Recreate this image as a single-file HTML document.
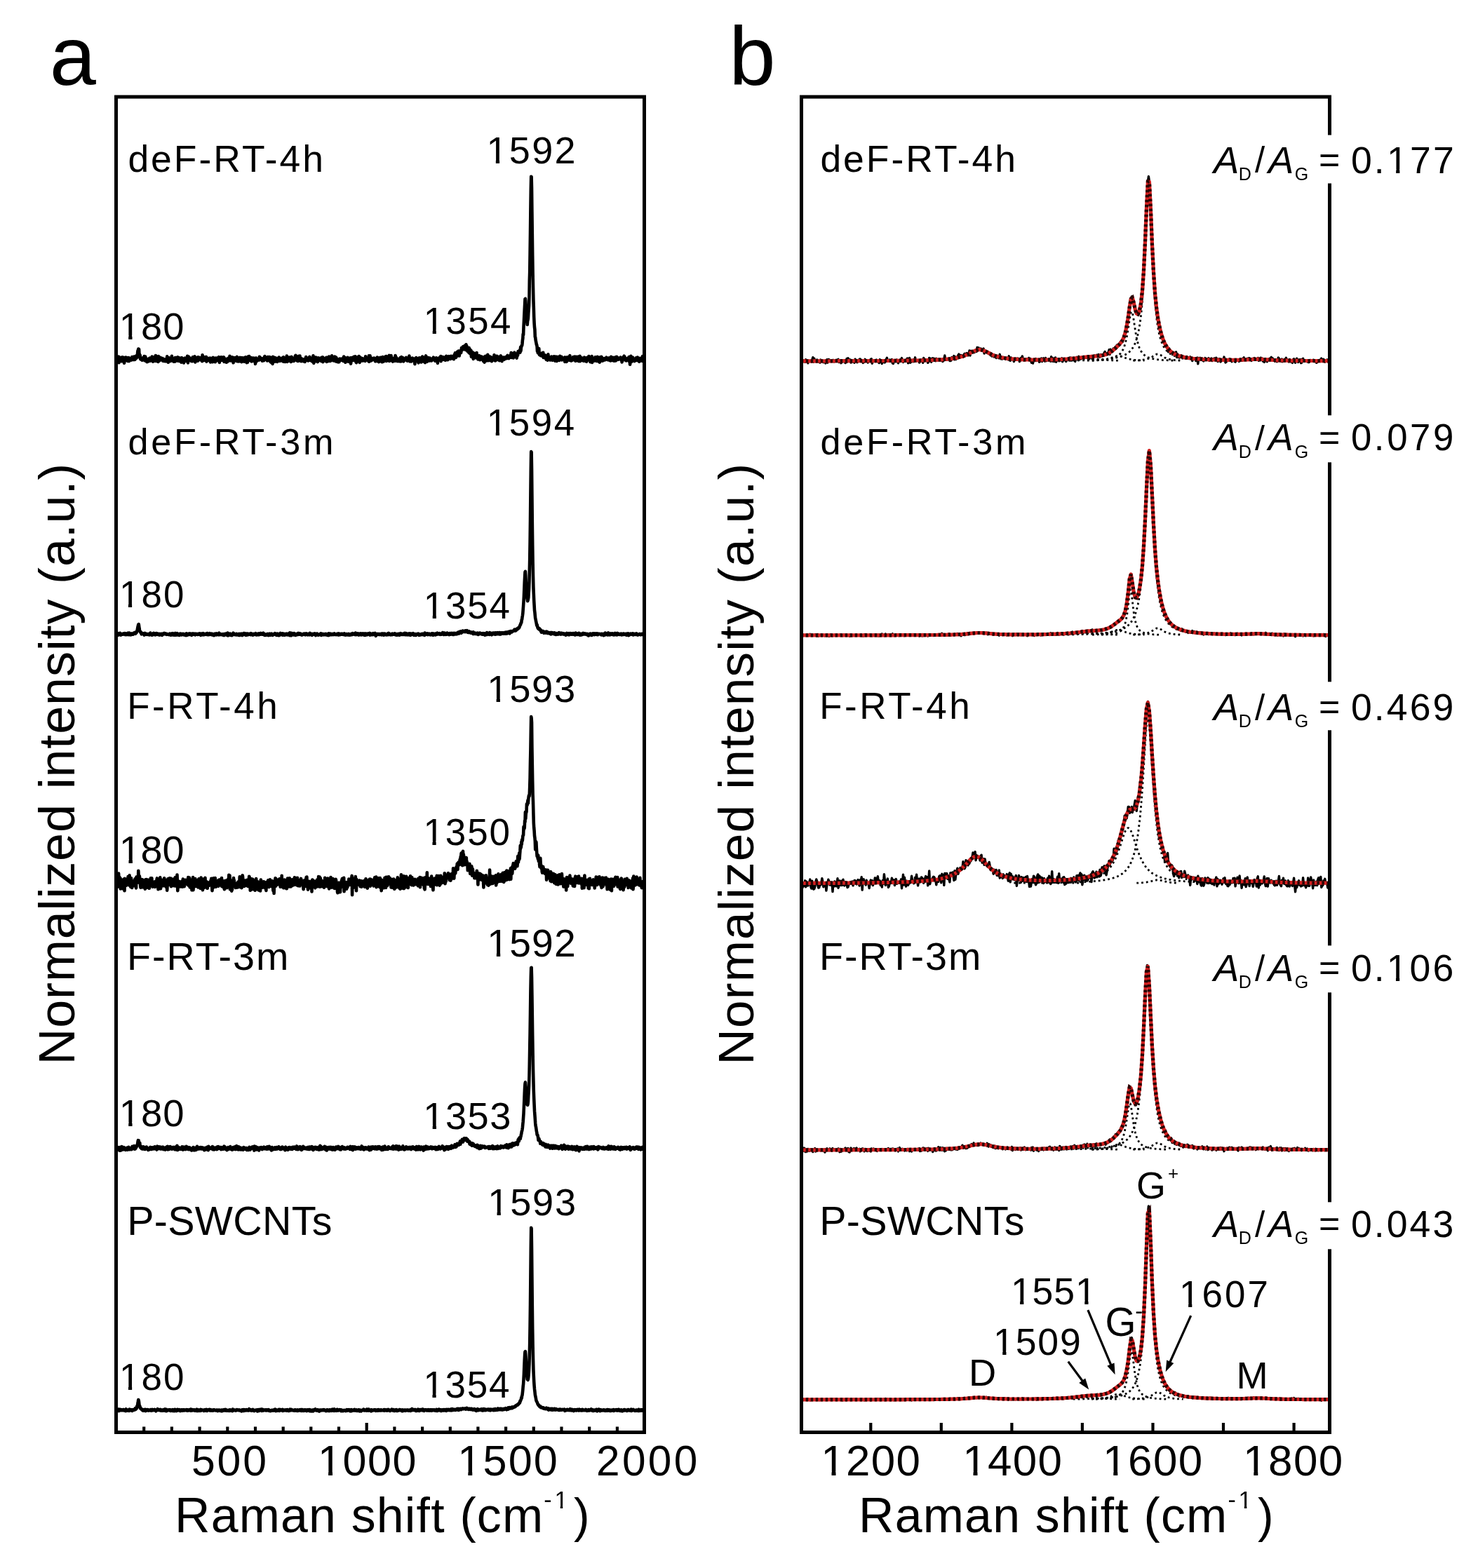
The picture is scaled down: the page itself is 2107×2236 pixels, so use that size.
<!DOCTYPE html>
<html><head><meta charset="utf-8"><title>Raman spectra</title>
<style>html,body{margin:0;padding:0;background:#fff;}svg{display:block;}</style>
</head><body>
<svg width="2107" height="2236" viewBox="0 0 2107 2236">
<rect x="0" y="0" width="2107" height="2236" fill="#fff"/>
<g fill="none" stroke="#000" stroke-width="4.6" stroke-linejoin="round" stroke-linecap="round">
<path d="M165.6 509.6l0.4 5.4 0.3 -4.3 0.4 1.2 0.4 0.4 0.4 -1.3 0.4 -1.3 0.4 4.1 0.4 -0.6 0.4 -4.7 0.4 8.6 0.4 -2.7 0.4 -3.5 0.4 3.4 0.4 -2.8 0.4 0.8 0.4 1.7 0.4 -4.1 0.4 3.7 0.4 1.6 0.4 -0.1 0.4 -3.3 0.4 2.4 0.4 -5 0.4 2.9 0.4 1.2 0.4 -3.6 0.4 2.6 0.4 3.6 0.4 1.8 0.4 -3.7 0.4 0.1 0.4 -3.6 0.4 -0.5 0.3 -0.4 0.4 3.9 0.4 0.4 0.4 -2.8 0.4 -1.2 0.4 3 0.4 0.1 0.4 -0.9 0.4 2.8 0.4 -2.7 0.4 0 0.4 -2.1 0.4 2.5 0.4 2.4 0.4 -2.6 0.4 0 0.4 0.8 0.4 -0.4 0.4 0.5 0.4 0 0.4 0.2 0.4 -2.9 0.4 2.2 0.4 -3.8 0.4 3.7 0.4 -3.1 0.4 2.3 0.4 1.1 0.4 -1.9 0.4 1 0.4 -3.6 0.3 1.5 0.4 3 0.4 -3.8 0.4 3.5 0.4 -4.3 0.4 0.7 0.4 -0.7 0.4 1.8 0.4 0.5 0.4 -4 0.4 0.7 0.4 2.1 0.4 -6 0.4 -3.5 0.4 -0.1 0.4 -2.3 0.4 0.1 0.4 0.3 0.4 7.8 0.4 -0.7 0.4 2.6 0.4 -1 0.4 5.5 0.4 -0.5 0.4 0.8 0.4 -1.8 0.4 1.4 0.4 1 0.4 0.5 0.4 -1.3 0.4 -0.7 0.4 -0.5 0.3 -0.7 0.4 -0.4 0.4 2.7 0.4 -1.1 0.4 -3.5 0.4 3.7 0.4 2.5 0.4 -2.7 0.4 -3.1 0.4 3.5 0.4 1.8 0.4 -1.1 0.4 -1.3 0.4 4.6 0.4 0.1 0.4 -4 0.4 1.9 0.4 -0.9 0.4 0.8 0.4 1.4 0.4 -1.3 0.4 -1.5 0.4 -1.4 0.4 -0.3 0.4 1.5 0.4 2.4 0.4 -1.7 0.4 -0.5 0.4 0.4 0.4 -0.4 0.4 1 0.4 -3.3 0.3 -1.7 0.4 3.1 0.4 -1.5 0.4 5.6 0.4 -3.6 0.4 -0.2 0.4 -2.5 0.4 3.6 0.4 -1.8 0.4 3.5 0.4 -0.6 0.4 -3.2 0.4 2.4 0.4 -6.3 0.4 4.1 0.4 3.8 0.4 -0.9 0.4 -1.2 0.4 -0.4 0.4 -2.8 0.4 0.1 0.4 3.2 0.4 3.1 0.4 -7.9 0.4 5.6 0.4 0 0.4 0.7 0.4 -3.7 0.4 0.7 0.4 1.1 0.4 -2.1 0.3 -0.4 0.4 0.7 0.4 1.6 0.4 0.9 0.4 -0.8 0.4 0.2 0.4 -1.5 0.4 -0.1 0.4 3.7 0.4 -2.3 0.4 -0.1 0.4 2 0.4 0.6 0.4 0.1 0.4 -1.7 0.4 -0.9 0.4 0.6 0.4 -0.2 0.4 2.5 0.4 -2.2 0.4 0.6 0.4 -1.3 0.4 2.8 0.4 -6.8 0.4 4.8 0.4 0.8 0.4 -3.8 0.4 6.6 0.4 -4.6 0.4 -0.1 0.4 -1.8 0.4 3.9 0.3 -1.3 0.4 -1.6 0.4 1.6 0.4 0.9 0.4 1.1 0.4 -2 0.4 -2.4 0.4 0.9 0.4 -3.5 0.4 3.1 0.4 2.9 0.4 -0.5 0.4 -1.1 0.4 -0.5 0.4 3.8 0.4 -2.6 0.4 1.3 0.4 -1 0.4 -2.2 0.4 4.5 0.4 -5.6 0.4 0.1 0.4 1.5 0.4 -0.6 0.4 0.4 0.4 -0.1 0.4 3.1 0.4 -1.8 0.4 0.6 0.4 -3.9 0.4 1.5 0.3 3.8 0.4 -4.5 0.4 4.7 0.4 -4.4 0.4 2.7 0.4 -2.3 0.4 2.1 0.4 -2.2 0.4 1.3 0.4 3.8 0.4 -4.1 0.4 4.9 0.4 -5 0.4 -1.5 0.4 2.5 0.4 -0.9 0.4 4.3 0.4 -1.8 0.4 0.6 0.4 -1.1 0.4 3.7 0.4 -3.3 0.4 -0.6 0.4 -2.7 0.4 -0.1 0.4 2.1 0.4 1.7 0.4 0.2 0.4 -4.1 0.4 2.9 0.4 -0.6 0.4 -2.7 0.3 3.3 0.4 -5.6 0.4 5.1 0.4 4.4 0.4 -7 0.4 2.1 0.4 -3.8 0.4 2.3 0.4 3 0.4 -3.6 0.4 2 0.4 -0.6 0.4 -0.1 0.4 1.2 0.4 0.5 0.4 1.5 0.4 -0.8 0.4 -2.8 0.4 4 0.4 -0.3 0.4 -5.6 0.4 4.4 0.4 0.3 0.4 0.3 0.4 -0.8 0.4 -3.7 0.4 2 0.4 -3.6 0.4 3.9 0.4 4.3 0.4 -2.7 0.3 0.4 0.4 -2.7 0.4 -1.1 0.4 -0.1 0.4 2.4 0.4 -1.8 0.4 0.3 0.4 3.6 0.4 -5.6 0.4 0.7 0.4 1.6 0.4 0.8 0.4 -0.1 0.4 -2.5 0.4 3.2 0.4 -0.7 0.4 1 0.4 -2.9 0.4 2.7 0.4 -0.1 0.4 -1.7 0.4 0.8 0.4 -0.6 0.4 3.8 0.4 -9 0.4 3.4 0.4 -0.5 0.4 2.6 0.4 -0.6 0.4 0.6 0.4 2.2 0.4 -4.7 0.3 1.6 0.4 1.2 0.4 -1.9 0.4 3.1 0.4 -0.1 0.4 -2 0.4 -2.2 0.4 6.8 0.4 -2.3 0.4 -0.1 0.4 -0.7 0.4 -0.1 0.4 1.6 0.4 -1.7 0.4 -1.2 0.4 2.7 0.4 -1.3 0.4 -1.7 0.4 -0.2 0.4 4.1 0.4 -1.1 0.4 2.7 0.4 -5 0.4 -0.4 0.4 2.3 0.4 1.9 0.4 -1.5 0.4 -0.4 0.4 3 0.4 -5.3 0.4 -1 0.3 1 0.4 0.8 0.4 1.4 0.4 1.3 0.4 -1.2 0.4 2.2 0.4 -4.7 0.4 5.5 0.4 -5.4 0.4 3.9 0.4 -4.2 0.4 2.6 0.4 -0.6 0.4 0.9 0.4 0.5 0.4 -1.9 0.4 0.2 0.4 0.7 0.4 -3.1 0.4 1.1 0.4 -1.8 0.4 3.3 0.4 4.4 0.4 -2.9 0.4 -3.3 0.4 0.4 0.4 3.3 0.4 -2.9 0.4 -2.2 0.4 1.1 0.4 0 0.4 0 0.3 3.4 0.4 -1.2 0.4 -3.1 0.4 1.9 0.4 -1.2 0.4 -0.1 0.4 -0.6 0.4 6.5 0.4 -4.1 0.4 1.7 0.4 0.6 0.4 -2.5 0.4 1.8 0.4 0.1 0.4 -0.7 0.4 3.9 0.4 -3.8 0.4 -1 0.4 1.8 0.4 2.2 0.4 -1.5 0.4 -3 0.4 -0.7 0.4 -0.2 0.4 0.6 0.4 2.1 0.4 0.9 0.4 -6.3 0.4 4.5 0.4 -2.1 0.4 3.5 0.3 0.5 0.4 -3.4 0.4 0.7 0.4 -1 0.4 2.7 0.4 -4 0.4 0.9 0.4 0.9 0.4 3.8 0.4 2.4 0.4 -4.8 0.4 -2.5 0.4 2.6 0.4 -1.9 0.4 2.7 0.4 -3.2 0.4 1.5 0.4 0.7 0.4 1.1 0.4 -1.2 0.4 2.7 0.4 -2.3 0.4 -3.9 0.4 5.5 0.4 -2.4 0.4 -0.8 0.4 4.4 0.4 -5 0.4 2.1 0.4 -1.6 0.4 4.2 0.4 -3.5 0.3 1.2 0.4 -3.2 0.4 5.6 0.4 -5 0.4 4 0.4 0.4 0.4 0.2 0.4 1.2 0.4 -6 0.4 3.2 0.4 -0.5 0.4 0.5 0.4 1.4 0.4 -2 0.4 -1.9 0.4 1.5 0.4 3.3 0.4 -5.5 0.4 2.5 0.4 -2.1 0.4 4.2 0.4 -5.5 0.4 2.6 0.4 0.4 0.4 0.5 0.4 4.5 0.4 -1.6 0.4 -5.2 0.4 6.4 0.4 -6.7 0.4 -1.4 0.4 0.8 0.3 3.4 0.4 0.6 0.4 -5.4 0.4 5.2 0.4 -1.4 0.4 2 0.4 -2.2 0.4 2.6 0.4 -0.7 0.4 -3.5 0.4 5.3 0.4 -2.5 0.4 1 0.4 1.1 0.4 -4.5 0.4 1.8 0.4 -1.5 0.4 -0.2 0.4 2.4 0.4 0.2 0.4 1.9 0.4 0.1 0.4 -2.8 0.4 -1.6 0.4 8.1 0.4 -2.1 0.4 -4.5 0.4 -1.7 0.4 1 0.4 1.4 0.4 1.7 0.3 -0.3 0.4 -1.1 0.4 -1.3 0.4 0.8 0.4 -0.9 0.4 0.7 0.4 -0.3 0.4 1.2 0.4 -4.8 0.4 3.1 0.4 0.1 0.4 -1.7 0.4 1.9 0.4 -1.7 0.4 0.7 0.4 0.8 0.4 0.1 0.4 -0.7 0.4 3.4 0.4 -1.8 0.4 0.2 0.4 -0.2 0.4 -1.8 0.4 -0.4 0.4 3.5 0.4 -2.4 0.4 -2.9 0.4 -0.8 0.4 4.8 0.4 -1.9 0.4 1.3 0.4 -0.9 0.3 0.3 0.4 0.4 0.4 -2.1 0.4 2.4 0.4 2 0.4 -0.5 0.4 -4.9 0.4 0.8 0.4 0 0.4 2.2 0.4 2.2 0.4 -1.1 0.4 -4.1 0.4 3.6 0.4 1.5 0.4 -2.5 0.4 4.7 0.4 -5.1 0.4 3.6 0.4 2.4 0.4 -7.3 0.4 1.9 0.4 1.8 0.4 5.3 0.4 -10 0.4 4.7 0.4 -0.6 0.4 -1.4 0.4 -0.8 0.4 0.6 0.4 0.5 0.3 -2 0.4 5.7 0.4 -5.3 0.4 1.3 0.4 -0.5 0.4 0.5 0.4 1.1 0.4 -1.7 0.4 1 0.4 3.9 0.4 -1.3 0.4 -2.7 0.4 2.4 0.4 -3.4 0.4 2 0.4 -3.3 0.4 0.6 0.4 0.5 0.4 4.2 0.4 -2 0.4 0.7 0.4 -0.8 0.4 0.4 0.4 0.1 0.4 0.7 0.4 -1.2 0.4 -2.2 0.4 0.3 0.4 4 0.4 0.4 0.4 -1.7 0.4 -4.4 0.3 6.4 0.4 -2.5 0.4 -0.8 0.4 0.2 0.4 -0.8 0.4 4.3 0.4 -0.2 0.4 -5.5 0.4 1.8 0.4 1 0.4 1.9 0.4 -7.4 0.4 6.7 0.4 1.5 0.4 -4 0.4 0.6 0.4 2.6 0.4 -1.8 0.4 -3.4 0.4 0.3 0.4 0.3 0.4 -0.8 0.4 2.8 0.4 -1 0.4 1.1 0.4 1.3 0.4 2.2 0.4 -3.1 0.4 -4.2 0.4 6.5 0.4 -3 0.3 2.6 0.4 -3.3 0.4 1.5 0.4 -0.8 0.4 0.2 0.4 2.6 0.4 -3.9 0.4 1.7 0.4 0.1 0.4 -1.3 0.4 -3.6 0.4 5.1 0.4 -6.4 0.4 2.7 0.4 2.1 0.4 1.8 0.4 0.9 0.4 -0.1 0.4 -0.5 0.4 -1.9 0.4 3.2 0.4 -3 0.4 2.8 0.4 -6.8 0.4 2.6 0.4 0.8 0.4 1.1 0.4 -4.8 0.4 6.5 0.4 0.3 0.4 -0.4 0.4 -2.6 0.3 3.9 0.4 -4 0.4 2.9 0.4 -1.9 0.4 0.1 0.4 -0.3 0.4 0.3 0.4 2.3 0.4 0.6 0.4 0 0.4 -1.1 0.4 -0.4 0.4 -0.5 0.4 2.7 0.4 -4.5 0.4 -0.3 0.4 1.3 0.4 -3.4 0.4 2.9 0.4 0.3 0.4 -1.9 0.4 0.9 0.4 2.5 0.4 -1.8 0.4 0.6 0.4 1.9 0.4 -3.3 0.4 -1.1 0.4 2.2 0.4 1 0.4 -4.5 0.3 4.9 0.4 -1.9 0.4 -0.2 0.4 -0.9 0.4 1.4 0.4 2.3 0.4 -0.9 0.4 0.5 0.4 -2.3 0.4 3.9 0.4 -0.6 0.4 -2.6 0.4 -5.2 0.4 5.4 0.4 5.3 0.4 -5.6 0.4 -1.9 0.4 5.5 0.4 -4.7 0.4 2.2 0.4 0.6 0.4 -4.5 0.4 3.2 0.4 2.1 0.4 -3 0.4 1.9 0.4 -1.3 0.4 2.1 0.4 1.6 0.4 -5.9 0.4 1.7 0.4 1.3 0.3 -2 0.4 -0.4 0.4 1 0.4 0.1 0.4 -0.8 0.4 2 0.4 1 0.4 -0.2 0.4 -0.1 0.4 1 0.4 -5.1 0.4 2.5 0.4 0.6 0.4 0.7 0.4 -4.3 0.4 7 0.4 -5.5 0.4 2.3 0.4 0.9 0.4 0.7 0.4 -3.5 0.4 0.3 0.4 1.8 0.4 0.4 0.4 0.7 0.4 -2 0.4 -1.2 0.4 -1.3 0.4 6.1 0.4 -6.2 0.4 4.1 0.3 -0.8 0.4 1 0.4 0.4 0.4 0.7 0.4 -2.8 0.4 0.9 0.4 -4.7 0.4 4 0.4 -1.9 0.4 1.5 0.4 2.8 0.4 -2.2 0.4 1.9 0.4 -2.6 0.4 1.3 0.4 -1.7 0.4 -4.2 0.4 3.6 0.4 0.9 0.4 0.9 0.4 -0.3 0.4 -0.3 0.4 2.1 0.4 -0.6 0.4 -2 0.4 2.5 0.4 -5.7 0.4 3.4 0.4 0.3 0.4 2.9 0.4 -3.7 0.4 -1.9 0.3 3.3 0.4 3 0.4 -3.8 0.4 0.3 0.4 -0.3 0.4 0.6 0.4 2.5 0.4 1.3 0.4 -3 0.4 -1.1 0.4 3.9 0.4 -3.5 0.4 -0.1 0.4 -0.9 0.4 0.1 0.4 1.1 0.4 -1 0.4 1.4 0.4 -0.7 0.4 1 0.4 -1.9 0.4 0.4 0.4 0.9 0.4 -0.4 0.4 0.1 0.4 2.1 0.4 -4.5 0.4 -1.7 0.4 5.3 0.4 -1.9 0.4 3.2 0.4 -2.9 0.3 -2.2 0.4 6.7 0.4 -3.5 0.4 -1.7 0.4 -0.6 0.4 2.6 0.4 -2.5 0.4 2.1 0.4 1.6 0.4 -5.1 0.4 2 0.4 1.7 0.4 2.4 0.4 -1.5 0.4 -2.8 0.4 3.9 0.4 -3.7 0.4 0.4 0.4 1.1 0.4 -2.9 0.4 8.3 0.4 -3.8 0.4 -1.9 0.4 -1.6 0.4 -1.2 0.4 3.1 0.4 0.6 0.4 -2.2 0.4 0.5 0.4 1.5 0.4 -1.3 0.3 -3.6 0.4 5.1 0.4 -0.9 0.4 1 0.4 -3 0.4 -2.7 0.4 1.7 0.4 3.1 0.4 3.6 0.4 0.5 0.4 -4.1 0.4 -3.5 0.4 2.3 0.4 1.5 0.4 0 0.4 -0.7 0.4 2.5 0.4 -4.5 0.4 -2.5 0.4 2.6 0.4 -0.6 0.4 6.8 0.4 -4.8 0.4 -2.5 0.4 4.1 0.4 0.7 0.4 -1.9 0.4 0.3 0.4 1.7 0.4 -1.1 0.4 -2.4 0.4 2.6 0.3 0.7 0.4 -1.2 0.4 1.1 0.4 -0.6 0.4 -1.7 0.4 0.2 0.4 1.5 0.4 -2.3 0.4 3.4 0.4 0.1 0.4 -6.5 0.4 4 0.4 -1.4 0.4 0.2 0.4 1.6 0.4 -0.6 0.4 1.4 0.4 -0.5 0.4 0.1 0.4 -2.3 0.4 0.9 0.4 3.6 0.4 -7.9 0.4 8.4 0.4 -4.5 0.4 3.5 0.4 -7.6 0.4 4.4 0.4 2.5 0.4 -1.4 0.4 1.7 0.3 -3.8 0.4 0.7 0.4 -0.2 0.4 2.3 0.4 -0.1 0.4 -1.2 0.4 -0.2 0.4 -0.1 0.4 0.8 0.4 -2.1 0.4 1.8 0.4 -0.2 0.4 -0.8 0.4 -0.1 0.4 4.1 0.4 -4.1 0.4 2 0.4 1.9 0.4 -1.2 0.4 -1.5 0.4 2 0.4 -4.9 0.4 0.4 0.4 1.7 0.4 0.3 0.4 0.3 0.4 3.9 0.4 -0.3 0.4 -3.5 0.4 0.6 0.4 -2.3 0.4 2.4 0.3 -3.3 0.4 5.5 0.4 -3.9 0.4 2.2 0.4 -3.7 0.4 5.4 0.4 -1.6 0.4 2.7 0.4 -3.8 0.4 -3.4 0.4 1.7 0.4 -0.9 0.4 5.6 0.4 -4.4 0.4 -0.2 0.4 2.7 0.4 -0.7 0.4 0.4 0.4 -1.9 0.4 -3 0.4 1.2 0.4 -1.6 0.4 6.9 0.4 -0.7 0.4 -2.6 0.4 2 0.4 0.1 0.4 -0.1 0.4 -0.2 0.4 0.7 0.4 -1.6 0.3 -4.6 0.4 -1.1 0.4 8.1 0.4 -1.4 0.4 -6.2 0.4 5.4 0.4 -2.1 0.4 0.6 0.4 -4.1 0.4 6.8 0.4 -1.7 0.4 1.8 0.4 0.5 0.4 0.4 0.4 0.7 0.4 -2.7 0.4 -0.1 0.4 -1.7 0.4 2.3 0.4 -1.5 0.4 -1.9 0.4 4.7 0.4 -0.9 0.4 -6.8 0.4 1.6 0.4 3.3 0.4 -2.3 0.4 5.2 0.4 -2.1 0.4 0.8 0.4 0.7 0.4 0.8 0.3 -3.2 0.4 1.8 0.4 -0.8 0.4 1.1 0.4 -0.4 0.4 1.7 0.4 -1.8 0.4 -2 0.4 1.2 0.4 -2.5 0.4 2.9 0.4 2.4 0.4 -4.3 0.4 -2.1 0.4 3.2 0.4 -0.9 0.4 1 0.4 -1.2 0.4 1.4 0.4 -2.2 0.4 5.1 0.4 -3.5 0.4 1.5 0.4 0.4 0.4 -1.8 0.4 1.2 0.4 -1.4 0.4 -0.4 0.4 0.5 0.4 1.4 0.4 -3.5 0.3 0.7 0.4 0.2 0.4 0.5 0.4 3.4 0.4 -2.4 0.4 -0.5 0.4 0.9 0.4 1.8 0.4 -3.6 0.4 3.5 0.4 -6.7 0.4 2.9 0.4 4.8 0.4 0.1 0.4 -2.7 0.4 -1.3 0.4 2.6 0.4 -2.5 0.4 3.9 0.4 -0.7 0.4 -0.9 0.4 -3.2 0.4 3.7 0.4 -2.5 0.4 0 0.4 -0.4 0.4 0.7 0.4 1.2 0.4 0.7 0.4 0 0.4 5.1 0.4 -7.5 0.3 3 0.4 -3.6 0.4 0.9 0.4 -1.9 0.4 4.7 0.4 -1.9 0.4 -0.2 0.4 -0.5 0.4 2.1 0.4 -2.9 0.4 1.8 0.4 4.3 0.4 -5.4 0.4 -1 0.4 -0.7 0.4 3.6 0.4 -1.5 0.4 -1.6 0.4 -0.2 0.4 1.7 0.4 -2 0.4 6.2 0.4 -4.6 0.4 0 0.4 0.2 0.4 -3.5 0.4 0.7 0.4 2.2 0.4 0.7 0.4 -2.4 0.4 5.8 0.3 -2.5 0.4 1.7 0.4 -0.2 0.4 -2.8 0.4 5.3 0.4 -4.6 0.4 -4.1 0.4 -0.9 0.4 4.7 0.4 1.7 0.4 -1.6 0.4 3.4 0.4 -4.1 0.4 1.7 0.4 0.3 0.4 -3.5 0.4 2.7 0.4 0.1 0.4 1.4 0.4 0.2 0.4 -0.4 0.4 -3.5 0.4 3 0.4 0.6 0.4 -2.1 0.4 1.5 0.4 0 0.4 0.8 0.4 -2.2 0.4 0.8 0.4 -0.6 0.4 -0.3 0.3 -1.3 0.4 0.5 0.4 -1.6 0.4 1.9 0.4 1.7 0.4 -0.1 0.4 0.2 0.4 -1.7 0.4 3 0.4 -3.7 0.4 2.4 0.4 -0.7 0.4 -2.4 0.4 0.1 0.4 2.9 0.4 -1.4 0.4 0.4 0.4 5.6 0.4 -5 0.4 -0.9 0.4 1.2 0.4 -2.7 0.4 0.8 0.4 1.3 0.4 -2.6 0.4 1.6 0.4 -0.3 0.4 0.5 0.4 -3.7 0.4 7 0.4 -3.7 0.4 1.2 0.3 -3.2 0.4 -0.5 0.4 2.6 0.4 -0.7 0.4 1.9 0.4 -3.2 0.4 -0.1 0.4 2.6 0.4 0.7 0.4 0.4 0.4 -1.9 0.4 0.5 0.4 -2.1 0.4 4.1 0.4 -0.4 0.4 -0.1 0.4 -5.4 0.4 4.9 0.4 -3.3 0.4 2.4 0.4 -0.1 0.4 1.5 0.4 -2.9 0.4 -0.4 0.4 -1.3 0.4 -0.5 0.4 3.5 0.4 -3 0.4 3 0.4 -2.1 0.4 -0.5 0.3 3 0.4 -0.3 0.4 -3.8 0.4 1.6 0.4 0.2 0.4 1.2 0.4 -2.9 0.4 0.6 0.4 0.5 0.4 1.4 0.4 0.3 0.4 -3 0.4 4.5 0.4 -2.9 0.4 -2.6 0.4 -1.6 0.4 1.9 0.4 -3.9 0.4 4.9 0.4 0.5 0.4 1.2 0.4 -1.8 0.4 -4.6 0.4 2.5 0.4 1.7 0.4 -6 0.4 2.4 0.4 2.5 0.4 -1.5 0.4 -4.5 0.4 2.6 0.4 0.7 0.3 3.6 0.4 -5.5 0.4 -1.4 0.4 1.8 0.4 -0.4 0.4 -0.1 0.4 1.2 0.4 -3.6 0.4 -3.3 0.4 2.2 0.4 -0.6 0.4 1.3 0.4 -0.9 0.4 -3.7 0.4 2.4 0.4 0 0.4 -2.9 0.4 1.9 0.4 -1.9 0.4 -0.2 0.4 -0.8 0.4 1.9 0.4 4.2 0.4 -5.2 0.4 -2.5 0.4 2.1 0.4 -0.3 0.4 2.3 0.4 -0.4 0.4 5.9 0.4 -3 0.3 2.8 0.4 -4.5 0.4 1.6 0.4 5.1 0.4 -6.8 0.4 4.2 0.4 -2.8 0.4 6.7 0.4 -5.3 0.4 2.7 0.4 0.8 0.4 -2.6 0.4 8.8 0.4 -4.9 0.4 4 0.4 -4.3 0.4 -1.2 0.4 3.7 0.4 0.3 0.4 5.7 0.4 -7.6 0.4 -0.8 0.4 2 0.4 2.2 0.4 0.7 0.4 -2.4 0.4 1 0.4 2 0.4 1.2 0.4 -3.2 0.4 1.6 0.4 -5.6 0.3 3.7 0.4 2.9 0.4 -0.7 0.4 -0.2 0.4 3.7 0.4 -3.7 0.4 -1.5 0.4 2.7 0.4 0 0.4 -2.6 0.4 4.4 0.4 1.5 0.4 -4.5 0.4 -0.5 0.4 1.6 0.4 2.7 0.4 -3.5 0.4 -0.3 0.4 0.3 0.4 1.7 0.4 0 0.4 -0.7 0.4 2.8 0.4 2.1 0.4 -5.6 0.4 3.3 0.4 -1.5 0.4 5.5 0.4 -7.7 0.4 1.1 0.4 0.9 0.3 -3.1 0.4 2.5 0.4 1.9 0.4 -4.3 0.4 3.2 0.4 3.3 0.4 -4.8 0.4 -0.5 0.4 -3.3 0.4 4.9 0.4 -3.1 0.4 4.4 0.4 2.2 0.4 -2.1 0.4 -2.7 0.4 2.9 0.4 -2.3 0.4 -1.3 0.4 1.3 0.4 1.5 0.4 -1.2 0.4 1.8 0.4 3.2 0.4 -3.1 0.4 0.3 0.4 -2.8 0.4 4 0.4 -2 0.4 1.3 0.4 -3.5 0.4 2 0.4 -5.2 0.3 4 0.4 -1 0.4 -0.3 0.4 5.5 0.4 -6.6 0.4 2.8 0.4 0 0.4 1.3 0.4 1 0.4 -5.3 0.4 2.2 0.4 -0.4 0.4 2.8 0.4 0.5 0.4 -2.7 0.4 -0.3 0.4 -1 0.4 2.8 0.4 2.6 0.4 -2.6 0.4 -2.2 0.4 -0.3 0.4 0.2 0.4 -1.9 0.4 6.8 0.4 -3.4 0.4 -0.8 0.4 5.1 0.4 -4.1 0.4 2.5 0.4 -2.4 0.3 1.6 0.4 -2.1 0.4 -0.9 0.4 1.5 0.4 0.6 0.4 0.7 0.4 -1.8 0.4 -1 0.4 -0.2 0.4 1.3 0.4 -1.7 0.4 0.3 0.4 1.7 0.4 0 0.4 -0.2 0.4 -2.6 0.4 -1.4 0.4 3.4 0.4 -0.4 0.4 -1.1 0.4 1.1 0.4 1.2 0.4 -2.2 0.4 1.2 0.4 -2.9 0.4 1.4 0.4 -1.3 0.4 -1.3 0.4 3.6 0.4 -6.6 0.4 5.4 0.4 1.6 0.3 -0.9 0.4 -4 0.4 3.4 0.4 -4.3 0.4 1.8 0.4 4.4 0.4 -2.7 0.4 1.9 0.4 -4.7 0.4 -2.2 0.4 2.5 0.4 3.8 0.4 -0.9 0.4 0 0.4 -2.6 0.4 -0.2 0.4 -0.5 0.4 5.9 0.4 -5.9 0.4 3.1 0.4 -4.3 0.4 2.8 0.4 -5.3 0.4 0.7 0.4 1.3 0.4 -2.3 0.4 -0.2 0.4 -0.1 0.4 -1.4 0.4 3.5 0.4 -1.6 0.3 -5.9 0.4 5.2 0.4 -4.6 0.4 -1.3 0.4 -1.8 0.4 0.2 0.4 -2.5 0.4 -5.1 0.4 -2.2 0.4 -6.7 0.4 1.3 0.4 -11.6 0.4 -7.7 0.4 -8.5 0.4 -7.9 0.4 -7.5 0.4 -8.1 0.4 -0.3 0.4 3 0.4 9.8 0.4 5.1 0.4 2.5 0.4 11.2 0.4 0.8 0.4 4.6 0.4 -5.2 0.4 -1.4 0.4 -2.6 0.4 -7.3 0.4 -4.9 0.4 -6 0.4 -13.2 0.3 -22.1 0.4 -12.7 0.4 -27 0.4 -28.7 0.4 -33.6 0.4 -28.6 0.4 -17.9 0.4 0.4 0.4 16.1 0.4 33.8 0.4 31.2 0.4 30.9 0.4 25.9 0.4 19.8 0.4 17.5 0.4 10.9 0.4 13.9 0.4 8.6 0.4 6 0.4 2.8 0.4 10.8 0.4 0.9 0.4 3.6 0.4 2.2 0.4 1.8 0.4 2.5 0.4 0.4 0.4 2.6 0.4 6.6 0.4 -0.5 0.4 2.7 0.4 -4.3 0.3 -1.7 0.4 1.8 0.4 -1.9 0.4 8.1 0.4 0.9 0.4 -1.8 0.4 1.1 0.4 0.4 0.4 -0.6 0.4 2 0.4 -3.1 0.4 1.4 0.4 0.9 0.4 -2.8 0.4 1.6 0.4 3.1 0.4 0.1 0.4 -5.5 0.4 7 0.4 -1 0.4 1.1 0.4 -1.6 0.4 1.5 0.4 -3.6 0.4 2.3 0.4 -1.6 0.4 1.2 0.4 3.5 0.4 1 0.4 -3.1 0.4 -0.8 0.3 2.5 0.4 -0.6 0.4 3 0.4 -2.5 0.4 -5.8 0.4 4.8 0.4 -0.7 0.4 -0.8 0.4 1.9 0.4 -0.1 0.4 -0.8 0.4 3.8 0.4 -2.2 0.4 0.1 0.4 -0.4 0.4 2.1 0.4 -4.6 0.4 4.7 0.4 -2.8 0.4 3.4 0.4 0 0.4 -1.9 0.4 -1.8 0.4 1.5 0.4 0.2 0.4 -3.6 0.4 2.3 0.4 -0.8 0.4 4.2 0.4 0.7 0.4 -4.8 0.4 0.4 0.3 -1.5 0.4 3.1 0.4 1.2 0.4 1.9 0.4 -6.1 0.4 4.5 0.4 -2.2 0.4 -1.1 0.4 0.8 0.4 -0.8 0.4 2.4 0.4 -0.9 0.4 2.4 0.4 -3.4 0.4 -2.7 0.4 1.8 0.4 2.7 0.4 -3.6 0.4 1.4 0.4 2.6 0.4 -3.8 0.4 4.5 0.4 -1 0.4 -1.9 0.4 1.1 0.4 -0.9 0.4 0.2 0.4 0.2 0.4 0.7 0.4 -0.2 0.4 -1.3 0.3 -0.5 0.4 6.1 0.4 -6.3 0.4 1.9 0.4 2.7 0.4 -0.4 0.4 -3.4 0.4 5.5 0.4 -0.5 0.4 -4.1 0.4 -1.9 0.4 3.8 0.4 -1.7 0.4 -0.2 0.4 -1 0.4 0.4 0.4 1.6 0.4 1.4 0.4 -5.9 0.4 -0.6 0.4 6.7 0.4 -3.6 0.4 3.1 0.4 -1.2 0.4 2.3 0.4 -0.7 0.4 -2.3 0.4 0.2 0.4 1 0.4 0.8 0.4 -2.7 0.4 -1.8 0.3 3.3 0.4 -0.3 0.4 -0.3 0.4 -1.6 0.4 3.2 0.4 -4.7 0.4 2.5 0.4 3.6 0.4 -4.8 0.4 3 0.4 0.1 0.4 0 0.4 -4.2 0.4 5.3 0.4 -1.7 0.4 0.7 0.4 -0.4 0.4 -0.4 0.4 2.3 0.4 0.4 0.4 -6.6 0.4 2.2 0.4 1.2 0.4 -4 0.4 7.3 0.4 -4.5 0.4 2.7 0.4 -0.7 0.4 -0.8 0.4 -1.6 0.4 1.3 0.3 0.9 0.4 1.4 0.4 -2 0.4 -0.4 0.4 0.3 0.4 3.1 0.4 -2 0.4 -1.9 0.4 -1.2 0.4 1.7 0.4 -1 0.4 1 0.4 3.6 0.4 -1.4 0.4 -0.9 0.4 0.4 0.4 2.6 0.4 -5.7 0.4 3.2 0.4 -1.3 0.4 0.7 0.4 -0.2 0.4 -0.8 0.4 1.8 0.4 -5.4 0.4 4.9 0.4 0.7 0.4 -3.2 0.4 -0.1 0.4 5.8 0.4 -5.6 0.4 1 0.3 -0.7 0.4 0.3 0.4 -0.1 0.4 -2.9 0.4 8.9 0.4 -6.1 0.4 2.2 0.4 -0.9 0.4 2.8 0.4 -1.3 0.4 0.9 0.4 0 0.4 -0.6 0.4 -1.6 0.4 1.7 0.4 -4.9 0.4 4.9 0.4 -0.4 0.4 -0.8 0.4 -3.2 0.4 5.3 0.4 -4 0.4 2.6 0.4 -4.9 0.4 3.3 0.4 -0.9 0.4 -0.3 0.4 0.2 0.4 4.9 0.4 -3.6 0.4 0.7 0.3 3.6 0.4 -7.1 0.4 5.9 0.4 -3.8 0.4 -0.5 0.4 0.4 0.4 -2.7 0.4 0.5 0.4 0.8 0.4 1.1 0.4 2.6 0.4 0.7 0.4 -2.9 0.4 1.5 0.4 0.1 0.4 -1.3 0.4 0.9 0.4 -1.6 0.4 2.3 0.4 -1.6 0.4 0.5 0.4 0.5 0.4 -0.2 0.4 -1.8 0.4 -1.2 0.4 2.5 0.4 -1 0.4 0.1 0.4 0.9 0.4 -1.2 0.4 2.3 0.4 -0.1 0.3 -2.6 0.4 2.5 0.4 -2.6 0.4 3.3 0.4 -0.2 0.4 -1.3 0.4 1.8 0.4 0.3 0.4 -1.1 0.4 -4.6 0.4 3.9 0.4 0.2 0.4 1.2 0.4 -3.6 0.4 3.4 0.4 -0.7 0.4 0.1 0.4 -3.3 0.4 0.8 0.4 3.9 0.4 -0.6 0.4 -1.8 0.4 2.3 0.4 -1.6 0.4 -1.4 0.4 -2.3 0.4 5.2 0.4 -2.3 0.4 0.7 0.4 -4 0.4 2.5 0.3 1.7 0.4 -1.1 0.4 -1 0.4 -0.7 0.4 2.6 0.4 -1.2 0.4 0.1 0.4 0.1 0.4 -0.7 0.4 0.6 0.4 -0.6 0.4 1.3 0.4 -2.8 0.4 0.6 0.4 2.2 0.4 -0.4 0.4 0.7 0.4 3.7 0.4 -2.6 0.4 0.8 0.4 -1.4 0.4 -1.1 0.4 -1.3 0.4 -2.1 0.4 0.9 0.4 -1.9 0.4 2.4 0.4 -0.9 0.4 1.3 0.4 1.8 0.4 -0.7 0.4 2.5 0.3 0.1 0.4 0.2 0.4 -0.3 0.4 -1.2 0.4 -1.5 0.4 1.9 0.4 -1.4 0.4 0.1 0.4 1.2 0.4 -3 0.4 -1 0.4 3.8 0.4 2.9 0.4 -1.3 0.4 5.2 0.4 -10.2 0.4 1.5 0.4 -3.3 0.4 2.9 0.4 5.4 0.4 -0.5 0.4 -5.2 0.4 1.4 0.4 -1 0.4 -1.1 0.4 2.2 0.4 -0.2 0.4 0.9 0.4 0.3 0.4 0.9 0.4 1.3 0.4 -2.9 0.3 -0.2 0.4 0.4 0.4 0.9 0.4 -1.2 0.4 -1.7 0.4 1 0.4 2.5 0.4 -3.5 0.4 3.6 0.4 -4.4 0.4 4 0.4 0 0.4 -1.6 0.4 0.4 0.4 -0.5 0.4 3.8 0.4 -4.2 0.4 -0.5 0.4 2.2 0.4 1.4 0.4 -1.5 0.4 -1 0.4 2.3 0.4 -3.5 0.4 0 0.4 -0.9 0.4 4.8 0.4 -6.8 0.4 1.9 0.4 3 0.4 0.3 0.3 2.6 0.4 -2.5 0.4 -1.9"/>
<path d="M165.6 905.4l0.4 -0.2 0.3 0.1 0.4 -0.1 0.4 -0.4 0.4 -1.3 0.4 0.2 0.4 2.1 0.4 -1.3 0.4 -1.3 0.4 1.3 0.4 0.6 0.4 -0.4 0.4 -0.2 0.4 -1.7 0.4 1.7 0.4 -0.1 0.4 1.2 0.4 -1.2 0.4 0 0.4 -0.3 0.4 0.3 0.4 0.2 0.4 -0.5 0.4 -0.3 0.4 -0.2 0.4 0.9 0.4 -0.3 0.4 0 0.4 -0.8 0.4 0.5 0.4 -0.8 0.4 2 0.4 0.1 0.3 -0.5 0.4 -0.4 0.4 0.4 0.4 -1.3 0.4 0.1 0.4 1.7 0.4 -1.5 0.4 0.6 0.4 -0.4 0.4 -1.2 0.4 1.2 0.4 1 0.4 0.3 0.4 -2.6 0.4 0.6 0.4 0.7 0.4 1.1 0.4 0.1 0.4 0.3 0.4 0 0.4 -1.5 0.4 -0.4 0.4 1.3 0.4 -0.8 0.4 0.1 0.4 -0.3 0.4 0 0.4 0.8 0.4 -1.4 0.4 -0.5 0.4 0.6 0.3 0.5 0.4 -0.4 0.4 0 0.4 -1.5 0.4 0.6 0.4 1.1 0.4 -1.2 0.4 -0.8 0.4 0.7 0.4 -2 0.4 -0.2 0.4 -1.9 0.4 -2 0.4 -2.2 0.4 -1.7 0.4 -1.7 0.4 -0.4 0.4 2.3 0.4 3.2 0.4 2.2 0.4 2.2 0.4 0.6 0.4 0.9 0.4 -0.7 0.4 1.6 0.4 0.7 0.4 1.1 0.4 -0.4 0.4 -0.4 0.4 -0.7 0.4 0.9 0.4 0.1 0.3 0 0.4 0.2 0.4 0.3 0.4 0 0.4 1.3 0.4 -2.2 0.4 -0.4 0.4 1.4 0.4 -1.1 0.4 0.7 0.4 0.2 0.4 -0.5 0.4 1.1 0.4 -0.1 0.4 -0.3 0.4 0.3 0.4 0.2 0.4 -0.8 0.4 0.6 0.4 -0.3 0.4 -0.1 0.4 -0.3 0.4 1.5 0.4 -0.9 0.4 -1.2 0.4 1.3 0.4 -2.1 0.4 1.9 0.4 0.4 0.4 0.5 0.4 -0.9 0.4 -0.6 0.3 1.8 0.4 -0.6 0.4 0.2 0.4 -1.1 0.4 0.6 0.4 -1.6 0.4 1.5 0.4 -1.8 0.4 0.8 0.4 -0.3 0.4 1.8 0.4 -0.2 0.4 -1 0.4 1.3 0.4 -0.8 0.4 -1.5 0.4 1.1 0.4 -0.9 0.4 1.3 0.4 0.2 0.4 -0.8 0.4 1.1 0.4 0.1 0.4 -1.3 0.4 1 0.4 -0.5 0.4 -0.1 0.4 1.4 0.4 -1.7 0.4 0.3 0.4 0.2 0.3 0.4 0.4 0.2 0.4 -1.2 0.4 1.6 0.4 0.3 0.4 0.1 0.4 -1.3 0.4 -0.4 0.4 -0.4 0.4 1 0.4 -0.3 0.4 0 0.4 -0.4 0.4 -1.1 0.4 1.3 0.4 0.1 0.4 -0.1 0.4 -0.8 0.4 0.8 0.4 0.1 0.4 -0.7 0.4 1.3 0.4 -0.5 0.4 0.1 0.4 0.2 0.4 -0.4 0.4 0.1 0.4 0.4 0.4 0.2 0.4 0.1 0.4 -0.8 0.4 0.7 0.3 0.2 0.4 -1.7 0.4 0.7 0.4 0.2 0.4 0 0.4 1.3 0.4 -0.4 0.4 -0.9 0.4 0 0.4 -0.9 0.4 0.3 0.4 1.6 0.4 -2.2 0.4 1.7 0.4 -0.9 0.4 0.2 0.4 0.2 0.4 1.3 0.4 -1 0.4 0.1 0.4 0.4 0.4 -2.3 0.4 2.9 0.4 -2.5 0.4 0.7 0.4 0.9 0.4 -1.3 0.4 -0.4 0.4 2.1 0.4 -1.1 0.4 0.9 0.3 -0.3 0.4 -0.5 0.4 1.4 0.4 -1.4 0.4 1.6 0.4 -2.1 0.4 0 0.4 0.2 0.4 0.6 0.4 -0.9 0.4 0.3 0.4 1.5 0.4 -0.9 0.4 0.7 0.4 -0.6 0.4 -0.6 0.4 -0.2 0.4 0.7 0.4 -0.1 0.4 -0.4 0.4 0 0.4 1.4 0.4 -0.3 0.4 -0.5 0.4 -0.4 0.4 -0.1 0.4 1.7 0.4 -1.8 0.4 2 0.4 -2.1 0.4 -0.6 0.4 2.5 0.3 -1.5 0.4 1.2 0.4 -0.8 0.4 -0.5 0.4 0.8 0.4 -0.8 0.4 0.5 0.4 -0.4 0.4 -1.1 0.4 1.5 0.4 -0.7 0.4 0.3 0.4 0.4 0.4 -1.3 0.4 1.4 0.4 0 0.4 0.9 0.4 -0.7 0.4 -0.4 0.4 -0.7 0.4 0.5 0.4 -1 0.4 1.3 0.4 -0.5 0.4 -0.1 0.4 0.3 0.4 0.3 0.4 -0.1 0.4 -1 0.4 1.7 0.4 -0.9 0.3 0.2 0.4 -0.2 0.4 -0.7 0.4 0.9 0.4 -0.5 0.4 -0.3 0.4 0.7 0.4 0.4 0.4 -0.1 0.4 -0.3 0.4 -0.6 0.4 0.2 0.4 0.2 0.4 -0.9 0.4 1.5 0.4 -0.5 0.4 -0.9 0.4 1.9 0.4 0.3 0.4 -2.2 0.4 0.7 0.4 -0.4 0.4 1.1 0.4 -1.5 0.4 1.3 0.4 -0.1 0.4 0.5 0.4 -2 0.4 0.7 0.4 0.4 0.4 0.8 0.4 -0.6 0.3 0.5 0.4 -0.2 0.4 -1 0.4 0.6 0.4 -0.2 0.4 0 0.4 -0.4 0.4 1.2 0.4 -0.3 0.4 -1.6 0.4 1.9 0.4 -0.9 0.4 -0.7 0.4 1.9 0.4 -0.9 0.4 0.3 0.4 -0.3 0.4 0 0.4 -1.2 0.4 1.8 0.4 -1.1 0.4 0.6 0.4 -0.1 0.4 -0.6 0.4 -0.2 0.4 0.8 0.4 0.9 0.4 -1.3 0.4 0 0.4 0.5 0.4 -0.4 0.3 1.3 0.4 -0.6 0.4 1.4 0.4 -1.6 0.4 1.4 0.4 -1.9 0.4 0.5 0.4 -0.9 0.4 0.5 0.4 0.1 0.4 0.6 0.4 0.5 0.4 -1.1 0.4 -0.8 0.4 1 0.4 -0.1 0.4 -0.3 0.4 1 0.4 0.2 0.4 -1.3 0.4 0 0.4 -1.3 0.4 1.4 0.4 1 0.4 -1.2 0.4 1.2 0.4 -0.1 0.4 -0.1 0.4 0 0.4 -0.5 0.4 0.8 0.4 0 0.3 -0.4 0.4 -0.3 0.4 0.9 0.4 0.2 0.4 -1.5 0.4 1 0.4 -0.5 0.4 1.5 0.4 -1.8 0.4 -0.2 0.4 -0.2 0.4 1.3 0.4 -1.4 0.4 1.2 0.4 -0.8 0.4 1.3 0.4 0.1 0.4 -0.3 0.4 -2.1 0.4 0.3 0.4 -0.9 0.4 3.8 0.4 -2.3 0.4 0.1 0.4 0.4 0.4 0.3 0.4 -0.6 0.4 0.3 0.4 -0.1 0.4 -0.9 0.4 2.2 0.3 -0.1 0.4 -1.2 0.4 -0.1 0.4 1.4 0.4 0.4 0.4 -1.6 0.4 0.3 0.4 -0.7 0.4 0.6 0.4 -2.1 0.4 0.3 0.4 1.8 0.4 -0.4 0.4 0.4 0.4 -0.2 0.4 0.4 0.4 -0.3 0.4 -0.3 0.4 0.4 0.4 -0.7 0.4 1.4 0.4 -1.6 0.4 0.4 0.4 0.9 0.4 -0.9 0.4 0.9 0.4 0.4 0.4 -0.5 0.4 -0.9 0.4 1.7 0.4 -1 0.4 -1 0.3 2.1 0.4 -1.3 0.4 0.3 0.4 0.2 0.4 -1 0.4 1 0.4 -1.5 0.4 0.2 0.4 0.4 0.4 1.8 0.4 -1.1 0.4 0.4 0.4 -1.1 0.4 0.6 0.4 -1.8 0.4 1.3 0.4 0.5 0.4 -0.7 0.4 -1 0.4 0.2 0.4 1.6 0.4 0.5 0.4 -1.2 0.4 1.4 0.4 -2.1 0.4 1.4 0.4 -0.2 0.4 0.5 0.4 -1.8 0.4 1.8 0.4 -0.7 0.4 -0.7 0.3 0.3 0.4 0.2 0.4 0.3 0.4 -0.8 0.4 0 0.4 0.7 0.4 -0.1 0.4 0.4 0.4 0.3 0.4 -2 0.4 1.3 0.4 0.2 0.4 -0.1 0.4 -0.8 0.4 1.2 0.4 0.7 0.4 -1.3 0.4 -0.4 0.4 1.1 0.4 -0.6 0.4 0.1 0.4 0.1 0.4 -0.5 0.4 0.3 0.4 -0.5 0.4 -0.9 0.4 2.1 0.4 -0.5 0.4 -0.3 0.4 1 0.4 -1 0.3 0.9 0.4 -0.2 0.4 -0.8 0.4 -0.7 0.4 1.2 0.4 -0.1 0.4 0.5 0.4 -1.8 0.4 1 0.4 0.3 0.4 0 0.4 -0.1 0.4 0.1 0.4 -1.8 0.4 1.4 0.4 -0.3 0.4 -0.6 0.4 1.2 0.4 -0.4 0.4 -0.5 0.4 -0.2 0.4 1.2 0.4 -2 0.4 1.7 0.4 -0.7 0.4 0.9 0.4 1.2 0.4 -0.6 0.4 -0.8 0.4 1.2 0.4 0.2 0.4 -0.6 0.3 0.6 0.4 -1.2 0.4 0.3 0.4 -0.5 0.4 -0.2 0.4 0.3 0.4 -0.6 0.4 0.5 0.4 1.7 0.4 -1.1 0.4 -0.6 0.4 1.3 0.4 -0.2 0.4 -1.8 0.4 0.3 0.4 1.7 0.4 -1.1 0.4 0 0.4 -0.5 0.4 -0.4 0.4 1.6 0.4 -1.4 0.4 1 0.4 0.9 0.4 -0.9 0.4 -0.5 0.4 0.5 0.4 0 0.4 -0.7 0.4 0.5 0.4 -1.1 0.3 -0.3 0.4 0.8 0.4 -0.8 0.4 0.7 0.4 0.4 0.4 0.2 0.4 1.2 0.4 -2 0.4 0.4 0.4 0 0.4 -0.4 0.4 2.1 0.4 -2 0.4 0.4 0.4 0.1 0.4 1.8 0.4 -1.9 0.4 -0.4 0.4 1.5 0.4 -1.4 0.4 -1 0.4 2.3 0.4 -0.2 0.4 -1.6 0.4 0.1 0.4 0.8 0.4 -0.6 0.4 -0.4 0.4 0.2 0.4 2.1 0.4 -0.5 0.4 -1.5 0.3 0.7 0.4 0.1 0.4 -0.3 0.4 0.2 0.4 1.3 0.4 -1.7 0.4 -0.1 0.4 0.5 0.4 -0.4 0.4 0.1 0.4 0 0.4 -0.4 0.4 1.6 0.4 -1.3 0.4 1.4 0.4 -1.6 0.4 0 0.4 0.8 0.4 -0.3 0.4 0.7 0.4 -0.1 0.4 1.2 0.4 -3.8 0.4 1.4 0.4 0.7 0.4 -0.1 0.4 0.1 0.4 1.9 0.4 -3.5 0.4 2.1 0.4 -0.6 0.3 0.1 0.4 0.8 0.4 -0.8 0.4 0.6 0.4 0.4 0.4 -0.1 0.4 -2.2 0.4 0.9 0.4 -0.5 0.4 0.4 0.4 0.4 0.4 1.6 0.4 -1.9 0.4 0.2 0.4 0.1 0.4 1.2 0.4 -1.5 0.4 0.8 0.4 0.2 0.4 -0.2 0.4 -1.8 0.4 0.5 0.4 1.4 0.4 -1.8 0.4 1.1 0.4 -0.9 0.4 1.4 0.4 -0.3 0.4 -1.1 0.4 0.9 0.4 -0.6 0.4 0.4 0.3 1.3 0.4 -0.7 0.4 0 0.4 0.9 0.4 -1 0.4 0.8 0.4 -0.6 0.4 -0.1 0.4 -0.5 0.4 -0.3 0.4 -0.2 0.4 0.1 0.4 1.1 0.4 -0.1 0.4 -0.9 0.4 1.5 0.4 -1.4 0.4 0.2 0.4 -0.7 0.4 0.4 0.4 1.2 0.4 -0.3 0.4 -0.8 0.4 1.4 0.4 -1 0.4 0.2 0.4 0.7 0.4 -0.5 0.4 -0.5 0.4 -0.6 0.4 1.7 0.3 -2.6 0.4 1.3 0.4 -0.9 0.4 0.9 0.4 1 0.4 -0.8 0.4 -0.1 0.4 0.3 0.4 1.4 0.4 -0.4 0.4 -0.8 0.4 -0.7 0.4 0.2 0.4 0.5 0.4 -0.4 0.4 0.1 0.4 -0.6 0.4 -0.3 0.4 0.2 0.4 1 0.4 -0.9 0.4 2.5 0.4 -1.4 0.4 0.1 0.4 0.2 0.4 -1.4 0.4 -0.1 0.4 0.7 0.4 0.5 0.4 0 0.4 0.8 0.4 -0.2 0.3 -0.2 0.4 0.1 0.4 -0.7 0.4 0.5 0.4 -0.8 0.4 -0.1 0.4 0.9 0.4 -1.8 0.4 2.2 0.4 0.3 0.4 -1.6 0.4 0.8 0.4 -0.4 0.4 -0.8 0.4 1 0.4 0.1 0.4 0.3 0.4 -0.9 0.4 0.3 0.4 -0.5 0.4 1.1 0.4 -0.7 0.4 0.6 0.4 -1 0.4 0.5 0.4 -0.7 0.4 0.1 0.4 1.3 0.4 -0.9 0.4 0.1 0.4 0.5 0.3 -1 0.4 1.9 0.4 -1.9 0.4 0.3 0.4 1.8 0.4 -2.8 0.4 2.5 0.4 -1 0.4 0.1 0.4 -1.1 0.4 0.8 0.4 -1 0.4 1.6 0.4 -0.9 0.4 -0.2 0.4 0.1 0.4 0.2 0.4 0.8 0.4 -0.4 0.4 -0.8 0.4 -0.1 0.4 -0.1 0.4 1.3 0.4 -0.3 0.4 -1.1 0.4 -0.3 0.4 1.1 0.4 -0.4 0.4 0.8 0.4 -0.5 0.4 0.4 0.4 0.3 0.3 0.1 0.4 -0.9 0.4 0.7 0.4 -0.9 0.4 -0.5 0.4 1 0.4 0.7 0.4 0.2 0.4 -1.1 0.4 -1.1 0.4 1.4 0.4 -0.4 0.4 0.6 0.4 0.3 0.4 -1 0.4 -0.2 0.4 0.2 0.4 -0.2 0.4 -0.2 0.4 0.8 0.4 -0.6 0.4 0.3 0.4 -0.1 0.4 -0.2 0.4 0.9 0.4 -0.8 0.4 0.3 0.4 0.6 0.4 -0.6 0.4 -1 0.4 0.7 0.4 0 0.3 0.8 0.4 0.7 0.4 -1 0.4 -0.2 0.4 1.1 0.4 -1.5 0.4 0.7 0.4 0.1 0.4 -0.4 0.4 -0.1 0.4 0.3 0.4 0.9 0.4 -0.7 0.4 -0.8 0.4 0.6 0.4 0.5 0.4 0.6 0.4 -0.7 0.4 -0.4 0.4 0.8 0.4 -0.3 0.4 -0.6 0.4 -0.5 0.4 0.5 0.4 0.6 0.4 -1.4 0.4 -0.4 0.4 1.5 0.4 -1.4 0.4 0.1 0.4 0.8 0.3 0 0.4 0.2 0.4 0 0.4 0.3 0.4 -0.4 0.4 -0.5 0.4 -1.4 0.4 2.8 0.4 -0.3 0.4 -0.1 0.4 -0.5 0.4 -0.6 0.4 1 0.4 -0.4 0.4 -0.9 0.4 1.6 0.4 -1.7 0.4 0.7 0.4 1.5 0.4 -1.8 0.4 0.7 0.4 0.6 0.4 -0.7 0.4 -1 0.4 0.7 0.4 0.3 0.4 -1 0.4 2 0.4 -0.8 0.4 0.3 0.4 -0.3 0.4 0.1 0.3 -0.6 0.4 -0.7 0.4 1.5 0.4 -0.5 0.4 1.1 0.4 -1.9 0.4 0.9 0.4 1.4 0.4 -2.4 0.4 0.1 0.4 0.9 0.4 1.1 0.4 -2 0.4 0.8 0.4 -0.1 0.4 -0.3 0.4 0.2 0.4 1 0.4 -0.7 0.4 -1 0.4 0.4 0.4 0.5 0.4 -1 0.4 0.5 0.4 0.2 0.4 -1.2 0.4 2.8 0.4 -2.5 0.4 1.2 0.4 -0.2 0.4 -0.3 0.3 1.3 0.4 -0.8 0.4 -0.6 0.4 1.4 0.4 -0.5 0.4 -1.1 0.4 -0.3 0.4 1.7 0.4 -0.7 0.4 -1 0.4 1.4 0.4 -1.3 0.4 0.5 0.4 -0.1 0.4 -0.8 0.4 1.8 0.4 2 0.4 -2 0.4 -0.2 0.4 -0.4 0.4 0.1 0.4 0.3 0.4 0.2 0.4 -0.8 0.4 0.4 0.4 -0.2 0.4 0.6 0.4 0.2 0.4 0.1 0.4 -1 0.4 -0.1 0.4 0.9 0.3 -0.7 0.4 0 0.4 0.5 0.4 0 0.4 0.6 0.4 -1.7 0.4 1.6 0.4 -1.1 0.4 0.8 0.4 -1.4 0.4 0.8 0.4 -0.3 0.4 1.7 0.4 -2 0.4 1.5 0.4 -1.4 0.4 -0.2 0.4 1 0.4 0.6 0.4 -0.8 0.4 0.4 0.4 -0.2 0.4 -0.2 0.4 1 0.4 -1 0.4 0.6 0.4 -1.4 0.4 0.7 0.4 0.8 0.4 -1 0.4 -1.2 0.3 2.1 0.4 -0.2 0.4 -0.6 0.4 0.3 0.4 -0.3 0.4 0.5 0.4 0.5 0.4 -0.5 0.4 -0.3 0.4 -0.3 0.4 0.2 0.4 -0.2 0.4 1 0.4 -1.4 0.4 0.3 0.4 0.7 0.4 0 0.4 -0.1 0.4 -0.5 0.4 0.5 0.4 -1.2 0.4 0 0.4 0.1 0.4 1.2 0.4 0.7 0.4 -1.3 0.4 -0.1 0.4 0.2 0.4 1.5 0.4 -1.1 0.4 -0.1 0.4 -0.4 0.3 0.7 0.4 0.6 0.4 -0.8 0.4 -0.7 0.4 1.5 0.4 -1 0.4 1.3 0.4 -2 0.4 0.6 0.4 0.3 0.4 -1.4 0.4 1.3 0.4 0.4 0.4 -0.5 0.4 0.4 0.4 -0.2 0.4 -0.7 0.4 1 0.4 -1 0.4 0.3 0.4 -0.3 0.4 1 0.4 -0.8 0.4 0 0.4 -1.2 0.4 1.3 0.4 0.9 0.4 -2.1 0.4 1.7 0.4 -0.3 0.4 -1.2 0.3 0.9 0.4 1 0.4 -0.7 0.4 0.3 0.4 0.5 0.4 -1 0.4 0.8 0.4 -1.5 0.4 0.3 0.4 1.6 0.4 0 0.4 -0.3 0.4 -1.7 0.4 0.9 0.4 -0.5 0.4 2 0.4 -2.3 0.4 0 0.4 0.5 0.4 0.6 0.4 -0.6 0.4 0.2 0.4 0.4 0.4 -0.2 0.4 -1.3 0.4 0.4 0.4 2.1 0.4 -1.1 0.4 1.2 0.4 -0.3 0.4 -0.2 0.4 -0.7 0.3 1 0.4 -1.4 0.4 1.9 0.4 -1.2 0.4 0 0.4 -0.6 0.4 -0.2 0.4 0.3 0.4 -0.2 0.4 -0.3 0.4 -0.1 0.4 0.9 0.4 0.7 0.4 0.5 0.4 -0.8 0.4 -0.6 0.4 0.5 0.4 0.7 0.4 -1.1 0.4 0.7 0.4 -0.5 0.4 -0.2 0.4 -0.4 0.4 0.9 0.4 -1.1 0.4 -0.1 0.4 0.9 0.4 0.4 0.4 0 0.4 -0.1 0.4 -0.8 0.3 0.2 0.4 0.8 0.4 0.7 0.4 -3.3 0.4 2.7 0.4 -0.7 0.4 -0.2 0.4 -0.5 0.4 0.1 0.4 -0.4 0.4 1 0.4 -0.9 0.4 0.6 0.4 -0.9 0.4 1.8 0.4 -0.3 0.4 -1.3 0.4 1.1 0.4 -0.6 0.4 -0.3 0.4 0.6 0.4 0.6 0.4 0.4 0.4 -0.8 0.4 0.6 0.4 -0.3 0.4 -0.1 0.4 0.3 0.4 -1.7 0.4 0.7 0.4 1.3 0.4 -2 0.3 0.4 0.4 1.9 0.4 -2.1 0.4 0.8 0.4 0.1 0.4 -0.4 0.4 0.9 0.4 -0.1 0.4 -1.1 0.4 1.7 0.4 -1.8 0.4 0.3 0.4 0.2 0.4 0.2 0.4 -0.9 0.4 1 0.4 -1.8 0.4 1.2 0.4 -0.3 0.4 0.2 0.4 0.4 0.4 0.2 0.4 -0.7 0.4 0.5 0.4 -1 0.4 0.7 0.4 0.9 0.4 -1.1 0.4 0.3 0.4 0.2 0.4 0.5 0.4 -0.3 0.3 -0.4 0.4 -0.5 0.4 0.8 0.4 -2.2 0.4 2.3 0.4 -0.8 0.4 1 0.4 -0.5 0.4 0.9 0.4 -1.4 0.4 -0.9 0.4 1.4 0.4 -0.4 0.4 0.3 0.4 0.9 0.4 -1.5 0.4 1.1 0.4 0.1 0.4 0.1 0.4 -2.1 0.4 1.5 0.4 -0.6 0.4 0.3 0.4 -0.4 0.4 0.3 0.4 0.9 0.4 0.5 0.4 -0.7 0.4 -1.4 0.4 1.7 0.4 -1.7 0.3 0.6 0.4 1 0.4 -1.2 0.4 0.9 0.4 -0.7 0.4 -0.7 0.4 1 0.4 -0.6 0.4 1.6 0.4 0 0.4 -0.2 0.4 -1.8 0.4 2 0.4 -1.2 0.4 0.1 0.4 -0.2 0.4 -0.6 0.4 0.5 0.4 0.4 0.4 0.5 0.4 -0.8 0.4 -0.4 0.4 -0.4 0.4 0.1 0.4 1.2 0.4 -0.7 0.4 -0.3 0.4 -1.4 0.4 -0.2 0.4 1.6 0.4 -0.1 0.4 0.3 0.3 -0.8 0.4 -0.6 0.4 -0.9 0.4 0.5 0.4 -1.1 0.4 1.7 0.4 0 0.4 0.5 0.4 -2.4 0.4 0.2 0.4 1.3 0.4 -0.4 0.4 -1.7 0.4 0.8 0.4 0.4 0.4 -0.4 0.4 0.4 0.4 -0.3 0.4 -0.5 0.4 0.6 0.4 -0.4 0.4 0.9 0.4 -1.8 0.4 0.9 0.4 -0.3 0.4 0.4 0.4 0.5 0.4 0.2 0.4 -1.8 0.4 2.4 0.4 -0.3 0.3 0.1 0.4 -0.2 0.4 0.8 0.4 -0.3 0.4 -1.4 0.4 0.9 0.4 0.4 0.4 0.1 0.4 0 0.4 0.8 0.4 -1.1 0.4 0.4 0.4 -0.1 0.4 0.8 0.4 0.4 0.4 -0.9 0.4 1 0.4 -0.6 0.4 1.4 0.4 -2.5 0.4 1.6 0.4 0.9 0.4 -1 0.4 -0.5 0.4 0.2 0.4 1.1 0.4 -0.8 0.4 1.2 0.4 -0.7 0.4 -0.4 0.4 0.1 0.4 0.7 0.3 0.4 0.4 -1.2 0.4 -0.3 0.4 0.1 0.4 1.1 0.4 1 0.4 -1.6 0.4 0.8 0.4 -0.7 0.4 0.9 0.4 -1.6 0.4 1.4 0.4 -1.3 0.4 0.3 0.4 0.9 0.4 -0.4 0.4 0.1 0.4 0.4 0.4 -0.2 0.4 0.9 0.4 -0.5 0.4 -1.1 0.4 0.6 0.4 -0.4 0.4 0.1 0.4 1.6 0.4 -1.8 0.4 1.4 0.4 0.2 0.4 0.8 0.4 -1.9 0.3 0.2 0.4 0 0.4 -0.4 0.4 1.5 0.4 0.1 0.4 -3 0.4 1.4 0.4 1.1 0.4 -1.6 0.4 0.2 0.4 0.5 0.4 0 0.4 -0.1 0.4 0 0.4 1.4 0.4 -2.9 0.4 1.2 0.4 -0.4 0.4 0.9 0.4 -0.4 0.4 0.6 0.4 -0.3 0.4 1.6 0.4 -2.6 0.4 0.6 0.4 0.9 0.4 -0.9 0.4 0.4 0.4 -1.2 0.4 1.6 0.4 -0.6 0.4 0.5 0.3 -1.1 0.4 0.2 0.4 -0.2 0.4 1.8 0.4 -2.4 0.4 1.5 0.4 -0.2 0.4 0.7 0.4 -0.7 0.4 -0.9 0.4 1.1 0.4 -1.6 0.4 1.9 0.4 -0.8 0.4 -0.5 0.4 0.2 0.4 0.7 0.4 -1.6 0.4 2.4 0.4 -1.8 0.4 1.6 0.4 -1 0.4 1.2 0.4 -2.2 0.4 1.4 0.4 -0.7 0.4 -0.4 0.4 1 0.4 -0.8 0.4 -0.4 0.4 0.4 0.3 -0.5 0.4 0.4 0.4 0.1 0.4 0.8 0.4 -0.9 0.4 -0.5 0.4 1 0.4 -0.8 0.4 -0.5 0.4 -0.2 0.4 2 0.4 -1.3 0.4 1.1 0.4 -1.9 0.4 -0.1 0.4 1.9 0.4 -1.4 0.4 0 0.4 -0.1 0.4 -0.7 0.4 1.4 0.4 -1.7 0.4 1.4 0.4 -1.4 0.4 2.5 0.4 -1.4 0.4 0.2 0.4 -2.1 0.4 1.3 0.4 -0.8 0.4 -0.3 0.4 -0.1 0.3 1.1 0.4 -0.7 0.4 -0.5 0.4 -0.2 0.4 -0.2 0.4 -0.1 0.4 0.1 0.4 -0.8 0.4 0 0.4 -1.2 0.4 1.4 0.4 0.2 0.4 -0.9 0.4 1.1 0.4 -1.8 0.4 0.3 0.4 0.5 0.4 -0.9 0.4 -1 0.4 0.5 0.4 -0.9 0.4 0.7 0.4 -0.6 0.4 -1.1 0.4 0.1 0.4 0.3 0.4 -0.9 0.4 -0.8 0.4 -1.3 0.4 -1 0.4 -1 0.3 0.4 0.4 -2.5 0.4 -0.1 0.4 -0.6 0.4 -3.9 0.4 -0.5 0.4 -3.3 0.4 -2.3 0.4 -3 0.4 -5.4 0.4 -5.6 0.4 -5.9 0.4 -7.6 0.4 -9.6 0.4 -10.2 0.4 -7.7 0.4 -6.9 0.4 -1 0.4 5.2 0.4 8.7 0.4 6.2 0.4 7.7 0.4 5.3 0.4 4.6 0.4 2.3 0.4 2.2 0.4 -1 0.4 -1.7 0.4 -2.1 0.4 -6.7 0.4 -5.6 0.4 -10.8 0.3 -14.3 0.4 -17.8 0.4 -24.8 0.4 -31 0.4 -37.4 0.4 -35.2 0.4 -24.6 0.4 0.5 0.4 23.2 0.4 38.1 0.4 39 0.4 32 0.4 25.1 0.4 19.6 0.4 15.8 0.4 9.4 0.4 9.6 0.4 6.7 0.4 7.4 0.4 2.7 0.4 4.5 0.4 4.2 0.4 1.3 0.4 2.6 0.4 1.6 0.4 2.1 0.4 2.4 0.4 -1.2 0.4 1.8 0.4 2.1 0.4 1.3 0.4 -1.1 0.3 1.8 0.4 0.1 0.4 0.5 0.4 -1 0.4 0.2 0.4 1.7 0.4 0.2 0.4 0.3 0.4 -0.5 0.4 2.2 0.4 -0.9 0.4 2.3 0.4 -1.9 0.4 0.6 0.4 0.5 0.4 -0.6 0.4 -0.3 0.4 0.4 0.4 0.6 0.4 -0.2 0.4 1.9 0.4 -1.7 0.4 1 0.4 0.2 0.4 -0.4 0.4 -0.8 0.4 1.2 0.4 0.4 0.4 -0.4 0.4 -0.1 0.4 -1.4 0.3 0.8 0.4 0.7 0.4 0.3 0.4 0.5 0.4 -0.7 0.4 0.4 0.4 -0.8 0.4 1.2 0.4 0.1 0.4 -0.5 0.4 0.8 0.4 -0.8 0.4 -0.1 0.4 0.1 0.4 1.7 0.4 -2.5 0.4 1.3 0.4 -0.4 0.4 0.4 0.4 -1.1 0.4 1.6 0.4 0 0.4 -0.6 0.4 -0.1 0.4 0.3 0.4 0.7 0.4 -1.7 0.4 2.1 0.4 -1.2 0.4 0.8 0.4 -1.1 0.4 2 0.3 -1.2 0.4 1.1 0.4 -1.7 0.4 0 0.4 1.3 0.4 -0.3 0.4 -0.2 0.4 0.6 0.4 -0.5 0.4 -0.6 0.4 -1 0.4 -0.3 0.4 2.1 0.4 -0.1 0.4 -1 0.4 1 0.4 -0.5 0.4 0.2 0.4 0.7 0.4 -1.8 0.4 1.4 0.4 0.1 0.4 -0.5 0.4 0.3 0.4 -0.9 0.4 0.9 0.4 0.3 0.4 0.2 0.4 -1.1 0.4 1.1 0.4 -0.4 0.3 0.3 0.4 -0.5 0.4 0.5 0.4 -0.3 0.4 1.6 0.4 -1.9 0.4 1 0.4 -0.8 0.4 -1.1 0.4 1.4 0.4 0.6 0.4 -0.3 0.4 0 0.4 -1.1 0.4 0.8 0.4 -1.2 0.4 2.2 0.4 -0.1 0.4 -1.9 0.4 0.5 0.4 -0.6 0.4 0.4 0.4 0.2 0.4 -0.5 0.4 0.5 0.4 0.8 0.4 -0.7 0.4 0.7 0.4 -0.6 0.4 0.2 0.4 -1 0.4 1.6 0.3 -1.5 0.4 0.6 0.4 -0.7 0.4 1.3 0.4 -1.1 0.4 1.2 0.4 0.9 0.4 -1.1 0.4 -1.8 0.4 2.3 0.4 -0.6 0.4 0.3 0.4 -0.1 0.4 0.5 0.4 -0.1 0.4 -0.7 0.4 -0.9 0.4 0.9 0.4 0.6 0.4 -1.9 0.4 1.4 0.4 -1.3 0.4 2 0.4 0.6 0.4 -0.7 0.4 -1 0.4 0.9 0.4 0.4 0.4 0.2 0.4 -0.1 0.4 -0.3 0.3 -1.4 0.4 0.6 0.4 0.4 0.4 -0.3 0.4 -1.4 0.4 1.3 0.4 -0.4 0.4 0.6 0.4 0.1 0.4 -1.2 0.4 0.5 0.4 0.6 0.4 -0.8 0.4 0.7 0.4 -0.6 0.4 0.1 0.4 1.1 0.4 -0.7 0.4 -0.3 0.4 1.5 0.4 -1.3 0.4 0.2 0.4 0 0.4 2.2 0.4 -1.7 0.4 0.1 0.4 -0.8 0.4 0.8 0.4 0.2 0.4 -1.6 0.4 1.1 0.4 0.9 0.3 0.1 0.4 -1.1 0.4 1.5 0.4 -2.1 0.4 1.2 0.4 -0.4 0.4 -1.1 0.4 1.5 0.4 -1.7 0.4 0.5 0.4 0.4 0.4 -0.8 0.4 1.7 0.4 -1.2 0.4 -0.5 0.4 1 0.4 -0.1 0.4 -0.8 0.4 0.4 0.4 1 0.4 0 0.4 -1.7 0.4 1.8 0.4 0 0.4 0.1 0.4 -1.2 0.4 -0.2 0.4 0.5 0.4 -0.4 0.4 0.3 0.4 -0.2 0.3 0.2 0.4 -0.2 0.4 0.4 0.4 0.1 0.4 -0.3 0.4 -0.2 0.4 1.5 0.4 -0.4 0.4 -0.3 0.4 -1 0.4 1.1 0.4 -0.6 0.4 0.5 0.4 -0.2 0.4 1.6 0.4 -1.8 0.4 -0.7 0.4 1.5 0.4 0 0.4 0.2 0.4 -2.8 0.4 1.1 0.4 0.1 0.4 -0.6 0.4 1.3 0.4 0.4 0.4 0.3 0.4 -0.1 0.4 -0.7 0.4 1.1 0.4 -0.9 0.4 -2.2 0.3 1.8 0.4 -0.3 0.4 0.7 0.4 -0.5 0.4 0.1 0.4 1.2 0.4 -1.6 0.4 -0.4 0.4 1.2 0.4 0.2 0.4 -0.5 0.4 0.1 0.4 -0.4 0.4 -0.6 0.4 0.4 0.4 -0.2 0.4 1.6 0.4 -1 0.4 1.2 0.4 -1.1 0.4 -0.6 0.4 0.8 0.4 0 0.4 0.8 0.4 -2.4 0.4 1.2 0.4 0.6 0.4 -0.9 0.4 0.7 0.4 -0.3 0.4 1.2 0.3 -0.1 0.4 -2.4 0.4 0.4 0.4 0.5 0.4 0.5 0.4 0 0.4 -0.3 0.4 0.8 0.4 0.2 0.4 -0.5 0.4 -0.3 0.4 0.2 0.4 -0.6 0.4 1.2 0.4 0 0.4 -1.3 0.4 1.7 0.4 -1 0.4 0.6 0.4 -0.6 0.4 -0.1 0.4 0.6 0.4 -1.2 0.4 0.5 0.4 -0.6 0.4 1.2 0.4 -0.6 0.4 0 0.4 -0.2 0.4 0.9 0.4 -0.3 0.4 -0.4 0.3 -0.1 0.4 1.6 0.4 -0.2 0.4 -1.9 0.4 1.7 0.4 -0.5 0.4 -0.2 0.4 0.1 0.4 -1.3 0.4 2.8 0.4 -0.3 0.4 -1.5 0.4 0 0.4 0.1 0.4 -0.6 0.4 0.9 0.4 -0.4 0.4 -0.7 0.4 0.4 0.4 -0.2 0.4 0.1 0.4 0.2 0.4 0.7 0.4 -0.8 0.4 -0.8 0.4 2.1 0.4 -1.4 0.4 1.4 0.4 -0.8 0.4 0.2 0.4 -1 0.4 0.7 0.3 -0.4 0.4 0.3 0.4 0.3 0.4 -0.6 0.4 0.9 0.4 -1.6 0.4 0.2 0.4 1.1 0.4 0.1 0.4 0.4 0.4 0.4 0.4 -0.9 0.4 0.2 0.4 -0.3 0.4 -0.1 0.4 -0.1 0.4 0.1 0.4 -0.5 0.4 0.3 0.4 0.7 0.4 -0.2 0.4 0.4 0.4 -1.1 0.4 0.1 0.4 0.5 0.4 -0.9 0.4 0 0.4 1.1 0.4 -0.7 0.4 0.8 0.4 -0.5 0.3 -0.4 0.4 -0.4 0.4 1.6"/>
<path d="M165.6 1259.5l0.4 -3.5 0.3 -2.6 0.4 1.1 0.4 3.5 0.4 7 0.4 -9.2 0.4 5.1 0.4 -0.3 0.4 -15 0.4 8.6 0.4 8.9 0.4 -12.2 0.4 13.5 0.4 -4.8 0.4 -7.2 0.4 15 0.4 -8.4 0.4 7.2 0.4 -5.8 0.4 -4.1 0.4 8 0.4 2.8 0.4 -2.2 0.4 -10.4 0.4 7.6 0.4 -7.6 0.4 2.5 0.4 8.2 0.4 -11.8 0.4 16.7 0.4 -17.2 0.4 1 0.4 8.8 0.3 -4.1 0.4 0.2 0.4 -3.3 0.4 7.1 0.4 -2.2 0.4 -1.3 0.4 -3.1 0.4 -3 0.4 6.4 0.4 -9.3 0.4 6.5 0.4 5.5 0.4 0.2 0.4 -4.7 0.4 -9.2 0.4 13.3 0.4 1.5 0.4 -3.6 0.4 5.2 0.4 -1 0.4 -11.6 0.4 6.2 0.4 -1.1 0.4 8.7 0.4 -2.1 0.4 -4.1 0.4 1.9 0.4 1.3 0.4 -6.8 0.4 2.2 0.4 0.4 0.3 -1.5 0.4 0.4 0.4 2.3 0.4 -6.6 0.4 0.5 0.4 8.2 0.4 3 0.4 1.2 0.4 -15.8 0.4 8.8 0.4 -5.8 0.4 0.5 0.4 0.4 0.4 1.3 0.4 -0.5 0.4 -13.3 0.4 8.3 0.4 8.4 0.4 -2.8 0.4 -6.4 0.4 3.5 0.4 1.3 0.4 8.1 0.4 3.5 0.4 -12 0.4 7 0.4 -3.3 0.4 3.8 0.4 -3.4 0.4 -3.7 0.4 2 0.4 0 0.3 9.1 0.4 -9.4 0.4 5.6 0.4 -6 0.4 0.8 0.4 3.9 0.4 -3.5 0.4 10.9 0.4 -2.7 0.4 -10.5 0.4 7 0.4 4.3 0.4 -11.6 0.4 3.4 0.4 8.1 0.4 -9.9 0.4 6.3 0.4 -3.1 0.4 1.1 0.4 -5.2 0.4 4.2 0.4 -1.6 0.4 9.4 0.4 -4.8 0.4 -2.2 0.4 -0.6 0.4 3 0.4 -9.8 0.4 2.6 0.4 0.4 0.4 0.5 0.4 -3.7 0.3 9.3 0.4 -4.2 0.4 7.3 0.4 -5.8 0.4 -1.1 0.4 3.5 0.4 -0.1 0.4 -3 0.4 3.6 0.4 3 0.4 -7.4 0.4 7.5 0.4 -6.4 0.4 4.6 0.4 -3.9 0.4 -1.5 0.4 3 0.4 -6.1 0.4 -2.1 0.4 6.7 0.4 -0.9 0.4 -3.7 0.4 13.8 0.4 -7.3 0.4 -4.8 0.4 5.3 0.4 0.1 0.4 -4 0.4 0.7 0.4 -6.9 0.4 8.8 0.3 7.1 0.4 -3.1 0.4 -0.5 0.4 -6.9 0.4 -2.1 0.4 8.4 0.4 -2.5 0.4 -2.2 0.4 -0.5 0.4 5.4 0.4 -1.3 0.4 -4.7 0.4 1.5 0.4 -6.6 0.4 2.1 0.4 7.4 0.4 -4.4 0.4 -1.7 0.4 4.8 0.4 4.3 0.4 -9 0.4 2.2 0.4 0.3 0.4 11.5 0.4 -6.1 0.4 -3.2 0.4 -7.2 0.4 9.3 0.4 -0.8 0.4 -3.2 0.4 -2.4 0.4 1.3 0.3 -5.1 0.4 5.3 0.4 -0.3 0.4 -1.9 0.4 2.5 0.4 -5.3 0.4 11.5 0.4 -5.5 0.4 -4.3 0.4 8.2 0.4 -0.9 0.4 -4.5 0.4 -3.4 0.4 5.3 0.4 2.2 0.4 0.8 0.4 1.2 0.4 -0.3 0.4 -9.9 0.4 6.8 0.4 -8.5 0.4 12.1 0.4 -2.4 0.4 2.3 0.4 -3.9 0.4 -0.2 0.4 -2.3 0.4 -9.4 0.4 10.9 0.4 11.7 0.4 -5.4 0.3 -6.4 0.4 2.3 0.4 0.6 0.4 -4.4 0.4 2.5 0.4 1.4 0.4 -3.5 0.4 4 0.4 3.3 0.4 -1.7 0.4 -2.3 0.4 -1.9 0.4 3.8 0.4 -5.3 0.4 -0.5 0.4 8.1 0.4 -6.9 0.4 -4.2 0.4 9.3 0.4 -0.5 0.4 1.7 0.4 -5.2 0.4 5.3 0.4 -5.4 0.4 -3.7 0.4 3.5 0.4 1.8 0.4 -5.6 0.4 3.8 0.4 1.9 0.4 -2.9 0.4 2.2 0.3 -0.5 0.4 -3.3 0.4 4.8 0.4 1.1 0.4 -10.9 0.4 5.6 0.4 6.3 0.4 -1.5 0.4 -9.9 0.4 9 0.4 4.9 0.4 -2.2 0.4 -0.4 0.4 -3.7 0.4 0.8 0.4 -5.2 0.4 4.9 0.4 9.7 0.4 -9.8 0.4 -3.8 0.4 6.1 0.4 -10.8 0.4 18.2 0.4 -7 0.4 -3.7 0.4 -0.4 0.4 -2.3 0.4 4.3 0.4 -0.3 0.4 -6.7 0.4 10.8 0.3 -5.7 0.4 -3.1 0.4 8.5 0.4 -0.8 0.4 -5.5 0.4 -0.3 0.4 7.3 0.4 -6.3 0.4 2.6 0.4 4.9 0.4 -10.9 0.4 -1.2 0.4 2.8 0.4 1.1 0.4 2.6 0.4 4 0.4 -5.9 0.4 8.9 0.4 -6.2 0.4 -9.2 0.4 8.2 0.4 3.1 0.4 1.6 0.4 -7.6 0.4 2.6 0.4 9.8 0.4 -8.7 0.4 -4.5 0.4 -2.5 0.4 4.5 0.4 3.4 0.4 -6.2 0.3 10.4 0.4 -8.9 0.4 -4.8 0.4 10.7 0.4 -2.6 0.4 -1.1 0.4 6.4 0.4 -7.9 0.4 5.5 0.4 -5.2 0.4 9.1 0.4 -6.9 0.4 0.1 0.4 2.4 0.4 -2.8 0.4 2.2 0.4 -2.9 0.4 3.7 0.4 -2.4 0.4 -2.5 0.4 4.6 0.4 -0.4 0.4 -6.4 0.4 3.2 0.4 -5.8 0.4 7.5 0.4 3.1 0.4 6.6 0.4 -8.9 0.4 3.2 0.4 1.8 0.3 -3.2 0.4 -10.8 0.4 5.8 0.4 3.4 0.4 -0.2 0.4 -0.7 0.4 -4.3 0.4 -4.1 0.4 9.4 0.4 3.3 0.4 -6.8 0.4 4.3 0.4 -4.5 0.4 1.6 0.4 -1.8 0.4 5.8 0.4 -7.3 0.4 4.5 0.4 3.2 0.4 -3.9 0.4 -5.1 0.4 6.8 0.4 -2.4 0.4 -4.6 0.4 4.6 0.4 -0.5 0.4 3.8 0.4 -4.5 0.4 2.4 0.4 2.1 0.4 -10.5 0.4 12.1 0.3 -4.1 0.4 -4.2 0.4 4.7 0.4 3.8 0.4 -7.2 0.4 0.5 0.4 8.1 0.4 0.8 0.4 1.7 0.4 -8.1 0.4 -4.1 0.4 0 0.4 2.6 0.4 -2.8 0.4 6 0.4 3.4 0.4 -9.7 0.4 10.6 0.4 -9.9 0.4 0.9 0.4 -2.9 0.4 8.8 0.4 -3.4 0.4 0.5 0.4 -12.2 0.4 9.6 0.4 3.7 0.4 -12.7 0.4 19.6 0.4 -6.8 0.4 3.2 0.3 -5.8 0.4 5.1 0.4 1.5 0.4 5.4 0.4 -15 0.4 13.1 0.4 -13.2 0.4 5.2 0.4 -2.3 0.4 0.9 0.4 -7.3 0.4 6.8 0.4 -3.7 0.4 4.1 0.4 2 0.4 -0.8 0.4 -0.7 0.4 6.2 0.4 -4.4 0.4 1.1 0.4 3.1 0.4 -5.8 0.4 0.7 0.4 2.4 0.4 -4 0.4 6.4 0.4 -7.9 0.4 1.8 0.4 0.3 0.4 -0.8 0.4 1.3 0.4 -2 0.3 -7.9 0.4 14.7 0.4 -6.6 0.4 4.9 0.4 -7.6 0.4 6.9 0.4 -7.8 0.4 11.4 0.4 -6.6 0.4 -1.3 0.4 -10.1 0.4 2.4 0.4 7.4 0.4 -0.6 0.4 0 0.4 0.4 0.4 6.2 0.4 -5.7 0.4 0 0.4 -1.5 0.4 -1.3 0.4 6 0.4 -3.4 0.4 0.2 0.4 2.8 0.4 -0.9 0.4 3 0.4 -0.2 0.4 -8.5 0.4 2.1 0.4 7.4 0.4 -5.7 0.3 4.3 0.4 -6.3 0.4 -6.5 0.4 0.9 0.4 6.3 0.4 1.1 0.4 11.7 0.4 -6.7 0.4 -0.2 0.4 0.9 0.4 -10.5 0.4 7 0.4 -0.7 0.4 8.7 0.4 -11.2 0.4 -3.2 0.4 6.5 0.4 -1.1 0.4 1.2 0.4 0.6 0.4 -0.3 0.4 -3.3 0.4 0.8 0.4 11.5 0.4 -12.3 0.4 4.8 0.4 -6.3 0.4 -3 0.4 11 0.4 -2.9 0.4 4.7 0.3 -1.1 0.4 -3.3 0.4 -4.2 0.4 11.3 0.4 -7.8 0.4 8.8 0.4 -6 0.4 0.9 0.4 -1.2 0.4 -0.6 0.4 -2.7 0.4 10.6 0.4 -13.4 0.4 -2.6 0.4 7.5 0.4 -3.9 0.4 6.8 0.4 -4.8 0.4 5.7 0.4 -4.6 0.4 -3.6 0.4 1.9 0.4 4.2 0.4 -5.5 0.4 -0.9 0.4 2.7 0.4 2.1 0.4 3.8 0.4 -3.4 0.4 1.8 0.4 -4.3 0.4 8.4 0.3 1.5 0.4 -11.9 0.4 3.7 0.4 -1.5 0.4 1.9 0.4 -2.7 0.4 -1.6 0.4 -2.5 0.4 3.3 0.4 2.2 0.4 4.2 0.4 -1.9 0.4 -4.1 0.4 -1.1 0.4 -3.5 0.4 9.1 0.4 -2.5 0.4 2.2 0.4 0.6 0.4 -0.9 0.4 -2.7 0.4 -0.8 0.4 -3 0.4 1.5 0.4 4.5 0.4 7.6 0.4 -11.1 0.4 2.6 0.4 12.4 0.4 -13 0.4 -1.8 0.3 1.4 0.4 -1 0.4 -7.1 0.4 11.5 0.4 -10.9 0.4 5 0.4 0.5 0.4 3.6 0.4 -2.8 0.4 -1.1 0.4 -1.6 0.4 4.5 0.4 -2.4 0.4 -1.7 0.4 -2.6 0.4 2 0.4 4.2 0.4 -7.2 0.4 7.1 0.4 -0.3 0.4 4.5 0.4 -7.7 0.4 -1.3 0.4 3.7 0.4 -1.3 0.4 -9.2 0.4 15.8 0.4 -4 0.4 -0.4 0.4 -4 0.4 4.9 0.4 -2.7 0.3 7.8 0.4 -3.7 0.4 3 0.4 -11 0.4 1.4 0.4 1.9 0.4 -0.8 0.4 9.3 0.4 -5.2 0.4 -6 0.4 3.4 0.4 8.7 0.4 -8.9 0.4 3.9 0.4 -9.8 0.4 4.9 0.4 1.6 0.4 -0.4 0.4 1.1 0.4 1.4 0.4 3.4 0.4 -12.1 0.4 7.5 0.4 2.7 0.4 -1.9 0.4 3.8 0.4 -5.4 0.4 -1.2 0.4 -1.7 0.4 7.3 0.4 -9.2 0.3 3.6 0.4 1.6 0.4 2.7 0.4 -3.8 0.4 -2.7 0.4 6.4 0.4 -7.2 0.4 1.7 0.4 -5.4 0.4 9.1 0.4 -0.2 0.4 -7.8 0.4 6.3 0.4 3.2 0.4 -5.1 0.4 -4.2 0.4 6.6 0.4 2.9 0.4 -10.3 0.4 11.3 0.4 -3.8 0.4 4.1 0.4 -8.2 0.4 8.2 0.4 -2.5 0.4 1.9 0.4 -3 0.4 3.8 0.4 -4.8 0.4 -1.1 0.4 -2.5 0.4 -2.2 0.3 6.8 0.4 -1.7 0.4 1 0.4 -0.7 0.4 2.6 0.4 -1.3 0.4 -2.6 0.4 5.6 0.4 5.6 0.4 -12.4 0.4 1.8 0.4 4.2 0.4 -5.3 0.4 7.2 0.4 -7 0.4 -2.2 0.4 1.1 0.4 8.3 0.4 -12.8 0.4 9 0.4 -9.5 0.4 12.1 0.4 -1.4 0.4 1.1 0.4 6.2 0.4 -9.1 0.4 5.1 0.4 -2.3 0.4 2 0.4 -7.5 0.4 7.9 0.3 -6 0.4 7.5 0.4 -2.1 0.4 -3.7 0.4 2.3 0.4 -0.2 0.4 -1.3 0.4 10.3 0.4 -14.6 0.4 -2.3 0.4 0.2 0.4 4.5 0.4 0.9 0.4 3.1 0.4 1.2 0.4 -3 0.4 -0.4 0.4 -4.5 0.4 8.1 0.4 1.6 0.4 -6.3 0.4 3.5 0.4 -5.6 0.4 2.5 0.4 0.6 0.4 3.2 0.4 -9.7 0.4 6.3 0.4 3.5 0.4 -2.3 0.4 1.3 0.4 -13.2 0.3 6.8 0.4 1.8 0.4 -1.5 0.4 -6.6 0.4 14.2 0.4 -3.4 0.4 -9.2 0.4 6 0.4 2.2 0.4 3.8 0.4 -1.2 0.4 -7.1 0.4 1.5 0.4 3.7 0.4 3.2 0.4 -6 0.4 -0.8 0.4 5 0.4 -1.8 0.4 5.1 0.4 -3.7 0.4 2.2 0.4 -12.5 0.4 2.5 0.4 -0.7 0.4 3.5 0.4 4.3 0.4 -2.6 0.4 3.3 0.4 -5.4 0.4 7.3 0.3 -0.5 0.4 -10.9 0.4 2.8 0.4 1.8 0.4 6.1 0.4 -0.2 0.4 4.3 0.4 -14 0.4 7.3 0.4 -1 0.4 -1.1 0.4 0.5 0.4 -8.1 0.4 9.9 0.4 -3 0.4 -3.5 0.4 11.2 0.4 -8.9 0.4 3.9 0.4 -3.9 0.4 -3.6 0.4 4.6 0.4 3.3 0.4 -5.6 0.4 6.4 0.4 5.1 0.4 -2.2 0.4 -6.4 0.4 -2 0.4 7.3 0.4 -9.8 0.4 1.5 0.3 11.8 0.4 -5.7 0.4 0.5 0.4 -3.3 0.4 13.3 0.4 1.3 0.4 -13.9 0.4 4.2 0.4 -4.7 0.4 3.2 0.4 3.7 0.4 -0.2 0.4 -6.4 0.4 2.7 0.4 10.4 0.4 -8 0.4 2.1 0.4 -3.7 0.4 -2.9 0.4 -4.2 0.4 0.5 0.4 -3 0.4 2.5 0.4 0.9 0.4 6.9 0.4 -10.3 0.4 8.9 0.4 -10.2 0.4 19.6 0.4 -13.6 0.4 3.1 0.4 6.9 0.3 -8.4 0.4 1.3 0.4 0.1 0.4 1.8 0.4 -4.5 0.4 9.6 0.4 -2.6 0.4 -4.3 0.4 4.7 0.4 -5.7 0.4 -1.8 0.4 1.8 0.4 2.4 0.4 -8.6 0.4 5.2 0.4 3.3 0.4 -6.6 0.4 6.1 0.4 -6.2 0.4 5.6 0.4 -1.2 0.4 1.8 0.4 -4.6 0.4 -5.4 0.4 -2.6 0.4 27.2 0.4 -22.4 0.4 2.5 0.4 -3.4 0.4 13.1 0.4 -2.8 0.3 0.5 0.4 -8.6 0.4 9.3 0.4 -7.6 0.4 8.6 0.4 -5.7 0.4 -9.6 0.4 9.4 0.4 -3.3 0.4 14.2 0.4 -16.2 0.4 4.5 0.4 0 0.4 -2.4 0.4 0.5 0.4 2.9 0.4 1.7 0.4 -3.4 0.4 0.7 0.4 1.2 0.4 -4.2 0.4 3.1 0.4 1.2 0.4 4.3 0.4 -1.5 0.4 -0.8 0.4 1.8 0.4 -7.4 0.4 8.3 0.4 -6.5 0.4 1 0.4 -1.2 0.3 4.6 0.4 -5.6 0.4 5.3 0.4 -4.1 0.4 -0.6 0.4 3.8 0.4 -5.4 0.4 8.8 0.4 -8.2 0.4 1 0.4 7.2 0.4 -11.5 0.4 10.2 0.4 -3.6 0.4 0.1 0.4 0.4 0.4 -4.7 0.4 11 0.4 -4.8 0.4 0.5 0.4 0.6 0.4 0.7 0.4 -2.8 0.4 -5.4 0.4 -1.5 0.4 -0.3 0.4 3.9 0.4 6.2 0.4 -9.9 0.4 4.1 0.4 4 0.3 -4 0.4 0.3 0.4 -3.5 0.4 5.3 0.4 -3.2 0.4 -0.5 0.4 1.2 0.4 3.3 0.4 2.6 0.4 -9.1 0.4 7 0.4 -6.8 0.4 -3.2 0.4 5.1 0.4 3.1 0.4 -0.5 0.4 1.8 0.4 -10.2 0.4 14.5 0.4 -2.4 0.4 -0.7 0.4 -9.6 0.4 8.8 0.4 -4.1 0.4 0 0.4 2.2 0.4 -6.9 0.4 11.4 0.4 -0.2 0.4 -0.9 0.4 2.5 0.4 -13.2 0.3 6 0.4 -0.2 0.4 -3.8 0.4 8.7 0.4 7.4 0.4 -15.3 0.4 6.9 0.4 -2.1 0.4 0.4 0.4 -0.3 0.4 2.5 0.4 -5.5 0.4 0.9 0.4 8.7 0.4 -6.9 0.4 -0.1 0.4 -7.4 0.4 9.4 0.4 0.6 0.4 -1.5 0.4 5.5 0.4 -15 0.4 12.1 0.4 -10.7 0.4 2.5 0.4 -4 0.4 11.9 0.4 -4.1 0.4 -1.3 0.4 1.9 0.4 -9 0.3 6.2 0.4 3.5 0.4 -3.4 0.4 2.2 0.4 -6.4 0.4 7.4 0.4 -2 0.4 2.1 0.4 5.7 0.4 -6.3 0.4 -2.9 0.4 4.2 0.4 -6.4 0.4 11.7 0.4 -7 0.4 0.1 0.4 2 0.4 -7.4 0.4 5.2 0.4 -0.9 0.4 10 0.4 -3 0.4 1.6 0.4 -7.5 0.4 0.4 0.4 3.8 0.4 -7.3 0.4 -1 0.4 10.5 0.4 -4.6 0.4 -0.1 0.4 -9.2 0.3 5.4 0.4 -0.2 0.4 -1 0.4 4.4 0.4 -5.3 0.4 -1.1 0.4 13.2 0.4 -6.2 0.4 -6.4 0.4 13.4 0.4 -6.6 0.4 -0.9 0.4 -12.9 0.4 17.8 0.4 -5.5 0.4 4.5 0.4 2 0.4 -12.6 0.4 13.3 0.4 -4.3 0.4 -3 0.4 -10.2 0.4 18 0.4 -6.9 0.4 1.2 0.4 -7.6 0.4 7.6 0.4 -0.2 0.4 4 0.4 -10.3 0.4 -5.3 0.3 6.6 0.4 -1.6 0.4 5.3 0.4 -1.8 0.4 1.5 0.4 4.5 0.4 1.7 0.4 -6.9 0.4 -6.9 0.4 6.6 0.4 -0.8 0.4 0.4 0.4 -0.3 0.4 0.5 0.4 -9.2 0.4 11.6 0.4 -0.2 0.4 -0.8 0.4 -1.9 0.4 4.2 0.4 -10.9 0.4 6.7 0.4 2.8 0.4 -4.4 0.4 1.6 0.4 4.5 0.4 -4.9 0.4 -3 0.4 1.6 0.4 3.6 0.4 -6 0.4 4.4 0.3 -1.7 0.4 1.9 0.4 2.9 0.4 -0.1 0.4 -2.8 0.4 0.7 0.4 2.3 0.4 -6.5 0.4 3.9 0.4 -5.5 0.4 10 0.4 -4.8 0.4 -5.8 0.4 3.4 0.4 5.1 0.4 -2 0.4 -8.1 0.4 14.2 0.4 -6.3 0.4 0.6 0.4 -2.9 0.4 -2.1 0.4 -2.9 0.4 6.9 0.4 -0.7 0.4 -1 0.4 4.2 0.4 -1.8 0.4 -5.6 0.4 2.5 0.4 6.4 0.3 -10.5 0.4 14.6 0.4 -11.1 0.4 12.9 0.4 -8.8 0.4 -8.5 0.4 8.5 0.4 -1.5 0.4 -2.2 0.4 2 0.4 0 0.4 -13.8 0.4 16.6 0.4 -4.3 0.4 1.2 0.4 2.9 0.4 -3 0.4 -5.1 0.4 8.5 0.4 -4.8 0.4 2.3 0.4 -4 0.4 2.3 0.4 -3.5 0.4 10.6 0.4 -11 0.4 8.4 0.4 -11.8 0.4 8.8 0.4 -2.3 0.4 5.3 0.4 -3.2 0.3 8.5 0.4 2.7 0.4 -14.5 0.4 5.1 0.4 -6.9 0.4 -0.1 0.4 3.7 0.4 4 0.4 -1.1 0.4 -3.5 0.4 5.4 0.4 -9.6 0.4 1.1 0.4 3.4 0.4 -7.4 0.4 13.2 0.4 -6.2 0.4 -0.9 0.4 3.1 0.4 -7.5 0.4 5.1 0.4 -6.7 0.4 6.4 0.4 1.1 0.4 6.1 0.4 -6.7 0.4 5.5 0.4 -5.7 0.4 -6.8 0.4 9.8 0.4 -2.9 0.4 -2.9 0.3 6.2 0.4 -8.4 0.4 2.7 0.4 4.5 0.4 0.5 0.4 -6.4 0.4 3.8 0.4 -1 0.4 2.1 0.4 -3.7 0.4 -8 0.4 7.2 0.4 7.7 0.4 -10 0.4 2.5 0.4 4.2 0.4 -4.6 0.4 -3.8 0.4 4.3 0.4 -0.9 0.4 -3 0.4 2.7 0.4 -5.3 0.4 -1 0.4 1.6 0.4 3.7 0.4 0.6 0.4 -2.8 0.4 6.8 0.4 -2.3 0.4 -2.6 0.3 4.2 0.4 1.2 0.4 -3.6 0.4 -5.7 0.4 5.6 0.4 1 0.4 -3.5 0.4 -2.7 0.4 1.2 0.4 -0.1 0.4 -9.6 0.4 13.8 0.4 -6.9 0.4 7.6 0.4 -8.6 0.4 -4.2 0.4 6.2 0.4 -3.7 0.4 2.7 0.4 -6.2 0.4 -0.7 0.4 -1.7 0.4 -0.8 0.4 3.9 0.4 -7.8 0.4 5.2 0.4 3 0.4 -9.4 0.4 2.2 0.4 -3.2 0.4 0.8 0.4 1.3 0.3 1.5 0.4 -0.1 0.4 -7.3 0.4 4.8 0.4 -6.2 0.4 -3 0.4 0.1 0.4 -4.7 0.4 7.7 0.4 -8.4 0.4 8.1 0.4 9.9 0.4 -15.2 0.4 -5 0.4 10.2 0.4 -5.8 0.4 4.3 0.4 0.4 0.4 1.3 0.4 9 0.4 -7.8 0.4 0.4 0.4 -0.9 0.4 -2 0.4 1.2 0.4 -1.1 0.4 8.9 0.4 -3.5 0.4 4.3 0.4 -0.6 0.4 8.9 0.3 -8.9 0.4 3.8 0.4 -4.3 0.4 8.3 0.4 -4.9 0.4 1.8 0.4 -5.1 0.4 8.8 0.4 5.4 0.4 -0.6 0.4 -9.6 0.4 8.9 0.4 -6 0.4 -3.4 0.4 2.3 0.4 11 0.4 -6 0.4 -3.3 0.4 7.1 0.4 0.3 0.4 -2.2 0.4 3.8 0.4 -3.2 0.4 7.1 0.4 -1.6 0.4 -3.1 0.4 2.1 0.4 2.6 0.4 -4 0.4 2.9 0.4 -2.4 0.4 -0.6 0.3 -6.4 0.4 3 0.4 1.2 0.4 4.6 0.4 11 0.4 -14.8 0.4 2.3 0.4 -3.4 0.4 3.9 0.4 0.9 0.4 4 0.4 -8.6 0.4 8.1 0.4 -1 0.4 -2.1 0.4 -3.9 0.4 0.9 0.4 3.7 0.4 3.4 0.4 -2.8 0.4 -2.6 0.4 4.5 0.4 -5.5 0.4 7.8 0.4 9.1 0.4 -14.7 0.4 6.9 0.4 -8.4 0.4 4.5 0.4 2 0.4 2.9 0.3 -4.9 0.4 5.6 0.4 -11 0.4 4.5 0.4 0.9 0.4 0.5 0.4 -0.9 0.4 8.4 0.4 -9.4 0.4 5.9 0.4 -2.4 0.4 6.9 0.4 -9.6 0.4 4 0.4 -0.6 0.4 -16 0.4 15.3 0.4 2.7 0.4 2.1 0.4 -10.9 0.4 3.7 0.4 6 0.4 -9.9 0.4 1.3 0.4 5.9 0.4 0.4 0.4 2.8 0.4 -1 0.4 -3.8 0.4 -5.4 0.4 1.7 0.4 2.7 0.3 1.6 0.4 -1.4 0.4 3.1 0.4 -6.6 0.4 1.4 0.4 -3.8 0.4 14 0.4 -9.2 0.4 4.8 0.4 1.1 0.4 -3.9 0.4 -2.3 0.4 -1.4 0.4 1 0.4 -6.3 0.4 5 0.4 5.4 0.4 -2.1 0.4 2.2 0.4 -0.2 0.4 -0.5 0.4 -2.6 0.4 0.3 0.4 3 0.4 -5.6 0.4 -4.3 0.4 9.2 0.4 -3.5 0.4 4.3 0.4 -7.5 0.4 -4.4 0.3 6.1 0.4 -2.1 0.4 -1.5 0.4 10.5 0.4 -5.5 0.4 -6.4 0.4 -1.9 0.4 6.1 0.4 2.8 0.4 -1.5 0.4 3.6 0.4 -3.8 0.4 0.4 0.4 -10.2 0.4 13.2 0.4 -8 0.4 6.1 0.4 -10.8 0.4 2.5 0.4 8.5 0.4 -10.5 0.4 5.7 0.4 -2.7 0.4 8.7 0.4 -6 0.4 3.5 0.4 -6 0.4 -7.4 0.4 15.4 0.4 -11.4 0.4 2.2 0.4 -0.8 0.3 -7 0.4 9.2 0.4 -5.1 0.4 -6.4 0.4 0.6 0.4 -3.9 0.4 5.7 0.4 1.8 0.4 -3.8 0.4 3.1 0.4 -2 0.4 2.9 0.4 -3 0.4 -1.5 0.4 -3.6 0.4 -2.5 0.4 0.2 0.4 4.4 0.4 -4.6 0.4 7.1 0.4 -3.9 0.4 -10.4 0.4 6.4 0.4 2 0.4 -9.4 0.4 6.5 0.4 -9.9 0.4 8.2 0.4 -6.1 0.4 -5 0.4 -8 0.3 4.6 0.4 -4.8 0.4 2.7 0.4 -7.6 0.4 3.4 0.4 -6.4 0.4 1.9 0.4 -1.6 0.4 -5.4 0.4 -1.4 0.4 -0.3 0.4 -11.7 0.4 3.7 0.4 -4.5 0.4 2.7 0.4 -10.6 0.4 1.9 0.4 -14.3 0.4 9.6 0.4 -6.3 0.4 -2.9 0.4 -0.4 0.4 -11.5 0.4 2.1 0.4 -0.9 0.4 -3.7 0.4 -2.9 0.4 4.3 0.4 -6 0.4 -3.6 0.4 -1.7 0.4 1.5 0.3 -2.9 0.4 -10.7 0.4 -13 0.4 -22.8 0.4 -16.8 0.4 -25.8 0.4 -21.6 0.4 1.9 0.4 6.2 0.4 35.9 0.4 24.1 0.4 23.9 0.4 19.3 0.4 9.9 0.4 16 0.4 14.6 0.4 6.8 0.4 3.9 0.4 7.5 0.4 2.4 0.4 5 0.4 12.1 0.4 -6.4 0.4 -5 0.4 1 0.4 8.3 0.4 6.2 0.4 5.4 0.4 -2.4 0.4 2.5 0.4 3.7 0.4 -5.1 0.3 5.4 0.4 3 0.4 -1.7 0.4 -0.6 0.4 6.9 0.4 3.5 0.4 -3.3 0.4 -9.2 0.4 7.5 0.4 2.4 0.4 4.5 0.4 -3 0.4 0.9 0.4 6.7 0.4 1.9 0.4 -4.4 0.4 -4.3 0.4 0.1 0.4 8.4 0.4 -5.5 0.4 3.7 0.4 -0.2 0.4 2 0.4 1.2 0.4 -5.3 0.4 2 0.4 3.9 0.4 -0.3 0.4 -5.4 0.4 14.1 0.4 -13.6 0.3 10.7 0.4 -11 0.4 11.3 0.4 -11.3 0.4 11.6 0.4 -2.9 0.4 2.9 0.4 -6.2 0.4 4.5 0.4 0.2 0.4 -0.2 0.4 -2.8 0.4 8.3 0.4 -13.1 0.4 1.3 0.4 0.5 0.4 12.4 0.4 -9.6 0.4 0.9 0.4 0.2 0.4 1.9 0.4 0.4 0.4 -0.8 0.4 -4.3 0.4 8.4 0.4 -1.6 0.4 6.5 0.4 -4.5 0.4 -1.9 0.4 -5.6 0.4 6.5 0.4 2.3 0.3 4.7 0.4 -5.3 0.4 1.8 0.4 -0.7 0.4 4.5 0.4 -2 0.4 -4.5 0.4 -6.2 0.4 13.1 0.4 -6.4 0.4 -3.7 0.4 -2.6 0.4 -1.4 0.4 8.7 0.4 -1.7 0.4 2.1 0.4 3.9 0.4 -7.7 0.4 3.9 0.4 -3.4 0.4 -1.3 0.4 -5.8 0.4 6.3 0.4 7.9 0.4 -6.7 0.4 3.6 0.4 -0.8 0.4 8.2 0.4 -2.3 0.4 -8.9 0.4 1 0.3 6.7 0.4 -3.8 0.4 -0.4 0.4 4.6 0.4 -2.6 0.4 -1.6 0.4 12.3 0.4 -11.1 0.4 -7.4 0.4 7.1 0.4 -0.2 0.4 6.1 0.4 -5.7 0.4 -4.1 0.4 4.3 0.4 -6.7 0.4 3.7 0.4 3.1 0.4 -5.1 0.4 -4.9 0.4 4.1 0.4 1 0.4 5.9 0.4 -4.4 0.4 1.7 0.4 -3.7 0.4 4.3 0.4 -2.9 0.4 5 0.4 -1.3 0.4 5.1 0.4 -3.6 0.3 -3.8 0.4 -2.3 0.4 4.5 0.4 2.3 0.4 3.5 0.4 -8.9 0.4 -3.3 0.4 -2.1 0.4 3.5 0.4 3.4 0.4 -0.3 0.4 -0.2 0.4 1.2 0.4 1.6 0.4 -8.5 0.4 7.3 0.4 -0.9 0.4 -0.1 0.4 -1 0.4 -6.1 0.4 9.9 0.4 -4 0.4 1.6 0.4 1.8 0.4 -1.1 0.4 1.6 0.4 0 0.4 -5.7 0.4 -0.9 0.4 8.3 0.4 -6.7 0.3 12.4 0.4 -13.7 0.4 5.3 0.4 -0.9 0.4 1.4 0.4 -5.1 0.4 5.4 0.4 7 0.4 -10.7 0.4 -7 0.4 12 0.4 -0.9 0.4 1.1 0.4 -6.2 0.4 5.1 0.4 2 0.4 -5.7 0.4 2.2 0.4 2 0.4 1 0.4 -4.1 0.4 1.8 0.4 7.6 0.4 0.1 0.4 -12.9 0.4 13.6 0.4 -10.7 0.4 6 0.4 -9.6 0.4 4.4 0.4 -2 0.4 6.2 0.3 -2.5 0.4 0.9 0.4 -0.1 0.4 -0.8 0.4 3 0.4 -3.4 0.4 -0.8 0.4 -2.3 0.4 -1.1 0.4 1.5 0.4 3.8 0.4 2.7 0.4 -4.8 0.4 8.9 0.4 -3.1 0.4 -5 0.4 1.3 0.4 -1.6 0.4 -7.6 0.4 11.1 0.4 -2.5 0.4 -7.9 0.4 10.7 0.4 -6 0.4 1.4 0.4 -6.2 0.4 7 0.4 2 0.4 -3.6 0.4 1.7 0.4 -7.9 0.3 10.2 0.4 -2.4 0.4 0 0.4 3 0.4 1.5 0.4 -4.7 0.4 4.2 0.4 3.9 0.4 -12.3 0.4 5 0.4 -7.2 0.4 8.2 0.4 4.4 0.4 -6.4 0.4 -4.2 0.4 2.5 0.4 4 0.4 -8 0.4 0.4 0.4 7.9 0.4 -7.7 0.4 6 0.4 -4.7 0.4 -2.3 0.4 10.2 0.4 1.3 0.4 -8 0.4 13 0.4 -9 0.4 1.6 0.4 -1.5 0.4 -5.3 0.3 9 0.4 -3.7 0.4 1.5 0.4 -1.5 0.4 -2.2 0.4 11.5 0.4 -8 0.4 -2.8 0.4 3.8 0.4 -7.9 0.4 6.6 0.4 9.9 0.4 -14.2 0.4 4.9 0.4 -7.1 0.4 5.2 0.4 4.5 0.4 -9 0.4 0.4 0.4 8.9 0.4 -3.8 0.4 1.7 0.4 -0.6 0.4 -7.7 0.4 -1.7 0.4 -0.8 0.4 10.1 0.4 -8.1 0.4 -1.5 0.4 5.1 0.4 1.7 0.3 1.8 0.4 -8.8 0.4 13.3 0.4 -9.6 0.4 4.6 0.4 -0.8 0.4 -4 0.4 5.9 0.4 -0.3 0.4 3.4 0.4 3.4 0.4 0.9 0.4 -5 0.4 -1.1 0.4 -4.4 0.4 -4.9 0.4 8.2 0.4 -4.2 0.4 1.3 0.4 -0.9 0.4 3.8 0.4 -3.5 0.4 11.9 0.4 -6.4 0.4 -5.9 0.4 3.8 0.4 4.4 0.4 -11.1 0.4 6 0.4 -3.1 0.4 2.5 0.4 -2.4 0.3 2.9 0.4 1.2 0.4 0.7 0.4 -9 0.4 9.4 0.4 -2.9 0.4 -2.8 0.4 2.4 0.4 7.2 0.4 -7.6 0.4 -3 0.4 6.8 0.4 -3.9 0.4 3.9 0.4 -1.9 0.4 4.7 0.4 -8.4 0.4 1 0.4 6.3 0.4 2.6 0.4 -6.3 0.4 4.2 0.4 -3.1 0.4 -2 0.4 -7.1 0.4 16.1 0.4 -4 0.4 -14.7 0.4 13.1 0.4 -5.9 0.4 -1.8 0.4 1.9 0.3 5.5 0.4 -3.4 0.4 -0.6 0.4 0.2 0.4 -0.9 0.4 3.8 0.4 -10.9 0.4 3 0.4 5 0.4 -4.3 0.4 5.7 0.4 -2.3 0.4 3.3 0.4 -2.4 0.4 3.3 0.4 -2.6 0.4 3.2 0.4 -4.6 0.4 -6 0.4 7.6 0.4 0 0.4 -2.2 0.4 6.5 0.4 -2.1 0.4 4.4 0.4 -8.1 0.4 -0.1 0.4 3.9 0.4 4.2 0.4 -9.3 0.4 5.1 0.3 -2.3 0.4 -1.1 0.4 5.2"/>
<path d="M165.6 1638.6l0.4 -0.2 0.3 -1.7 0.4 0.8 0.4 -2 0.4 2.7 0.4 -2.3 0.4 1.3 0.4 1.3 0.4 -1.3 0.4 0.5 0.4 -1 0.4 4 0.4 -4.7 0.4 0.8 0.4 0.6 0.4 3.3 0.4 -3.8 0.4 0.7 0.4 0.9 0.4 -3.5 0.4 3.7 0.4 -0.7 0.4 1.4 0.4 0.1 0.4 -1.3 0.4 0.8 0.4 -2.2 0.4 -0.6 0.4 1.1 0.4 0.6 0.4 -0.7 0.4 1 0.4 0.2 0.3 1.4 0.4 -2.4 0.4 -0.3 0.4 1.1 0.4 -0.3 0.4 0.4 0.4 1.4 0.4 -3.1 0.4 1.9 0.4 0.8 0.4 -0.1 0.4 -3.4 0.4 1.4 0.4 2 0.4 -1.6 0.4 0.5 0.4 -0.7 0.4 1.7 0.4 -1.3 0.4 -0.6 0.4 0.4 0.4 1.6 0.4 -1.2 0.4 -2.5 0.4 -0.6 0.4 3.3 0.4 -2.9 0.4 2.1 0.4 -1 0.4 1 0.4 -1.2 0.3 -2.1 0.4 4.5 0.4 -1.9 0.4 -0.3 0.4 2 0.4 -1.3 0.4 0.2 0.4 -1.9 0.4 -0.1 0.4 -0.2 0.4 -2.2 0.4 0.5 0.4 -2.1 0.4 -3 0.4 -2.1 0.4 0.6 0.4 -0.3 0.4 2.7 0.4 1.9 0.4 1.1 0.4 -2.4 0.4 5.2 0.4 1.2 0.4 -1.3 0.4 0.3 0.4 2.1 0.4 -2.3 0.4 3.1 0.4 -0.7 0.4 1.1 0.4 -1.6 0.4 0.2 0.3 0.3 0.4 -2.1 0.4 0.8 0.4 2.4 0.4 -2.1 0.4 -0.3 0.4 1.6 0.4 1.3 0.4 -1.7 0.4 -0.3 0.4 0.3 0.4 0.6 0.4 -2.4 0.4 2.3 0.4 0.1 0.4 0.8 0.4 0 0.4 -0.5 0.4 1.7 0.4 -2.4 0.4 -0.2 0.4 2.1 0.4 -1.8 0.4 -0.8 0.4 0 0.4 0.7 0.4 -1.6 0.4 2.8 0.4 -0.8 0.4 1.1 0.4 -2.7 0.4 0.8 0.3 -0.3 0.4 1.4 0.4 -0.2 0.4 0.4 0.4 0 0.4 -2.2 0.4 1.7 0.4 -0.3 0.4 -0.1 0.4 0.6 0.4 -2.8 0.4 1.4 0.4 0.5 0.4 -0.7 0.4 -0.4 0.4 2.5 0.4 0 0.4 0.9 0.4 -3.1 0.4 -1.7 0.4 3.6 0.4 -1.2 0.4 -0.9 0.4 1.9 0.4 -0.7 0.4 -2 0.4 2.1 0.4 -2 0.4 2.6 0.4 -2.2 0.4 -0.3 0.3 2.7 0.4 0.2 0.4 -1.4 0.4 -1.1 0.4 2.1 0.4 -0.5 0.4 0.1 0.4 -0.8 0.4 -1.3 0.4 1.2 0.4 2.3 0.4 -2.5 0.4 0.7 0.4 0 0.4 1.2 0.4 -0.8 0.4 -0.8 0.4 2.7 0.4 -2 0.4 0.2 0.4 -1.2 0.4 -1 0.4 2.3 0.4 -0.9 0.4 0.8 0.4 -3 0.4 4.6 0.4 -1.9 0.4 0.9 0.4 -2.3 0.4 1.4 0.4 0.1 0.3 1.1 0.4 -0.4 0.4 -3.3 0.4 2.7 0.4 -0.1 0.4 -0.6 0.4 0.7 0.4 0.4 0.4 0.5 0.4 -2.5 0.4 0.3 0.4 1.1 0.4 0.7 0.4 -1.9 0.4 1.1 0.4 -1.5 0.4 1.6 0.4 -0.3 0.4 0.8 0.4 1.1 0.4 -2.6 0.4 1.4 0.4 -2.3 0.4 2.2 0.4 1.7 0.4 -3.9 0.4 1.2 0.4 -3.1 0.4 4.2 0.4 2.1 0.4 -3.7 0.3 1.5 0.4 1.3 0.4 -2.6 0.4 1.2 0.4 -1.2 0.4 0.4 0.4 0.6 0.4 1 0.4 -0.8 0.4 -0.3 0.4 -0.1 0.4 1.5 0.4 -0.7 0.4 -0.1 0.4 -2.7 0.4 1.9 0.4 -1 0.4 3.4 0.4 -1.3 0.4 0.9 0.4 -2.7 0.4 -0.8 0.4 0.8 0.4 1.8 0.4 -1.6 0.4 1.7 0.4 0.7 0.4 -2 0.4 1.6 0.4 -3.8 0.4 1.1 0.4 0.8 0.3 0.3 0.4 -1.3 0.4 1.3 0.4 1.7 0.4 -0.3 0.4 -0.5 0.4 -1.6 0.4 2.8 0.4 -0.9 0.4 -2 0.4 2.4 0.4 -1.6 0.4 1.1 0.4 -0.2 0.4 0.2 0.4 1.1 0.4 1.2 0.4 -2.5 0.4 -0.3 0.4 -0.2 0.4 0.6 0.4 0.2 0.4 -2.3 0.4 1.7 0.4 2.6 0.4 -1.8 0.4 0.4 0.4 -1.4 0.4 2.7 0.4 -1.9 0.4 -1.1 0.3 -0.5 0.4 1.5 0.4 1.5 0.4 -2.9 0.4 -0.4 0.4 -1.6 0.4 3.6 0.4 -2.1 0.4 0.4 0.4 -0.4 0.4 0.2 0.4 2 0.4 -1.9 0.4 1.2 0.4 -1.1 0.4 0.4 0.4 1.2 0.4 0 0.4 -2.2 0.4 1.5 0.4 -1.2 0.4 2 0.4 -1.6 0.4 -0.4 0.4 2.1 0.4 -1.7 0.4 0.9 0.4 0.7 0.4 -1.5 0.4 0.2 0.4 1.1 0.4 2 0.3 -2 0.4 0.2 0.4 -0.9 0.4 0 0.4 1.8 0.4 -2.7 0.4 0.1 0.4 2.6 0.4 -2.7 0.4 -0.6 0.4 2.1 0.4 0.6 0.4 0.9 0.4 0.6 0.4 -5.4 0.4 2.5 0.4 -0.2 0.4 0.9 0.4 -1.5 0.4 1.1 0.4 0.3 0.4 -0.1 0.4 -1.3 0.4 1.3 0.4 -1.3 0.4 0 0.4 0.7 0.4 1.3 0.4 -3.4 0.4 2.3 0.4 1.8 0.3 -1.5 0.4 -0.8 0.4 0.9 0.4 1.6 0.4 -2.1 0.4 -0.6 0.4 1.7 0.4 -1.2 0.4 -0.5 0.4 1.8 0.4 -2 0.4 0.6 0.4 2 0.4 -1.4 0.4 1.3 0.4 -3.7 0.4 0.4 0.4 0.8 0.4 0.8 0.4 -2.1 0.4 2.6 0.4 -1 0.4 0.1 0.4 0.6 0.4 -0.3 0.4 -1.2 0.4 1.2 0.4 -1.2 0.4 3.1 0.4 -2.2 0.4 0.3 0.4 -0.5 0.3 0.8 0.4 0.3 0.4 -0.5 0.4 -1.1 0.4 2.6 0.4 -1.4 0.4 -2.2 0.4 -0.5 0.4 1.4 0.4 -0.1 0.4 -0.6 0.4 0.9 0.4 1.6 0.4 1.1 0.4 -1.3 0.4 0.2 0.4 0.9 0.4 1.3 0.4 -1.3 0.4 -0.6 0.4 -0.9 0.4 -1.1 0.4 1.8 0.4 0.9 0.4 -1.1 0.4 -1 0.4 1.4 0.4 -0.8 0.4 -0.7 0.4 -1.6 0.4 3 0.3 -1.4 0.4 2.2 0.4 -2.2 0.4 0.9 0.4 -0.8 0.4 2.8 0.4 -0.5 0.4 -1.7 0.4 1.8 0.4 -3.2 0.4 2.3 0.4 -1.5 0.4 0.5 0.4 -0.4 0.4 1.3 0.4 -2.9 0.4 1.6 0.4 2.2 0.4 -4.4 0.4 2.5 0.4 -1.4 0.4 -1.6 0.4 3.8 0.4 -1.1 0.4 2.1 0.4 -3.8 0.4 2.7 0.4 1.5 0.4 -4.2 0.4 3.1 0.4 0 0.4 -0.6 0.3 1.5 0.4 -0.9 0.4 -1.7 0.4 0 0.4 0.7 0.4 2.2 0.4 -2.2 0.4 1.3 0.4 -1.3 0.4 1 0.4 -0.1 0.4 0.8 0.4 0.7 0.4 -2.8 0.4 -0.8 0.4 1.3 0.4 0.1 0.4 0.4 0.4 0.8 0.4 -1.7 0.4 0.5 0.4 0.1 0.4 1.3 0.4 -1.9 0.4 2 0.4 0.9 0.4 -2.6 0.4 2 0.4 -1.1 0.4 -0.7 0.4 2.5 0.4 -0.9 0.3 -1.9 0.4 1.1 0.4 -1.5 0.4 -0.9 0.4 3 0.4 -1.3 0.4 2 0.4 -1.8 0.4 0.1 0.4 -0.4 0.4 0.3 0.4 -1.2 0.4 0.7 0.4 -1.8 0.4 -0.1 0.4 0.5 0.4 0.9 0.4 0.7 0.4 -0.1 0.4 1.6 0.4 1.6 0.4 -6 0.4 4.7 0.4 -0.6 0.4 -1.8 0.4 0.9 0.4 -2.6 0.4 2.1 0.4 2.2 0.4 -3.4 0.4 0.7 0.3 0.9 0.4 0.7 0.4 -0.8 0.4 -0.7 0.4 1.4 0.4 -1.5 0.4 3.7 0.4 -1.4 0.4 -1.4 0.4 -1.1 0.4 0.3 0.4 -0.3 0.4 0.5 0.4 1 0.4 -2.1 0.4 1.7 0.4 -0.2 0.4 -1.1 0.4 2.7 0.4 -1 0.4 -0.2 0.4 -1.1 0.4 -0.2 0.4 1 0.4 -1.9 0.4 2.3 0.4 -1.9 0.4 1.4 0.4 0.8 0.4 -1.1 0.4 -0.5 0.4 -0.1 0.3 1.1 0.4 -1.6 0.4 1.3 0.4 1.3 0.4 -3.5 0.4 1.3 0.4 1.3 0.4 -1.7 0.4 0.1 0.4 -0.2 0.4 2.5 0.4 -3.6 0.4 2.4 0.4 -0.1 0.4 0.3 0.4 -1 0.4 1 0.4 -0.7 0.4 -0.4 0.4 4.1 0.4 -1.9 0.4 -2.5 0.4 0.5 0.4 1.3 0.4 1.3 0.4 -2 0.4 1.1 0.4 -0.6 0.4 1.1 0.4 -2 0.4 -0.3 0.3 1.3 0.4 0 0.4 -0.3 0.4 1.4 0.4 -0.6 0.4 -0.7 0.4 -1.6 0.4 2.3 0.4 0.2 0.4 -1.8 0.4 0.6 0.4 -1.2 0.4 1.5 0.4 -0.4 0.4 -1.9 0.4 2.1 0.4 -0.4 0.4 0 0.4 1.7 0.4 -0.7 0.4 0.5 0.4 -1.4 0.4 2 0.4 -2.6 0.4 1.8 0.4 -2.6 0.4 2 0.4 -1.5 0.4 -0.5 0.4 2.6 0.4 -0.6 0.4 0.4 0.3 -0.6 0.4 0.3 0.4 -0.4 0.4 -0.1 0.4 0.3 0.4 2.6 0.4 -4 0.4 -0.5 0.4 0.7 0.4 0.3 0.4 1.4 0.4 0.7 0.4 0.1 0.4 -1.7 0.4 1.2 0.4 1.3 0.4 -1.4 0.4 0.8 0.4 -2.7 0.4 2.2 0.4 -0.1 0.4 -2.4 0.4 1.5 0.4 0.7 0.4 -1.8 0.4 2.1 0.4 0.1 0.4 -0.8 0.4 -0.5 0.4 -0.1 0.4 0.7 0.3 0.9 0.4 -3 0.4 1.8 0.4 0.1 0.4 -1.3 0.4 -0.5 0.4 1.2 0.4 -1.7 0.4 2.3 0.4 -0.6 0.4 -1 0.4 1.3 0.4 -1 0.4 0.1 0.4 2.3 0.4 -2.4 0.4 -2.1 0.4 3.4 0.4 -1.6 0.4 0.2 0.4 2.9 0.4 -1.9 0.4 1 0.4 -2.6 0.4 0.4 0.4 0.2 0.4 1.9 0.4 -1.7 0.4 -1.5 0.4 3.2 0.4 -1.5 0.4 0.7 0.3 0.8 0.4 1.7 0.4 -2.6 0.4 1.9 0.4 -3.5 0.4 1.8 0.4 0.2 0.4 -3.1 0.4 1.5 0.4 0.3 0.4 1.5 0.4 -1.2 0.4 0.1 0.4 -0.3 0.4 1.4 0.4 -0.6 0.4 -0.1 0.4 -0.2 0.4 1.2 0.4 -1.7 0.4 0.8 0.4 0.1 0.4 0.4 0.4 0.8 0.4 -0.8 0.4 -2 0.4 2.8 0.4 0.2 0.4 0.1 0.4 -0.5 0.4 -2.9 0.3 1.8 0.4 1.1 0.4 0 0.4 -1.1 0.4 0.3 0.4 -1.5 0.4 1.8 0.4 -3 0.4 2.3 0.4 1.4 0.4 -2.6 0.4 3 0.4 0.8 0.4 -1.7 0.4 -1.3 0.4 0.1 0.4 -0.9 0.4 2.3 0.4 -2.2 0.4 1.6 0.4 -1.6 0.4 2 0.4 -2.3 0.4 1.5 0.4 -0.7 0.4 2.1 0.4 -1.7 0.4 0.3 0.4 1.5 0.4 -2.7 0.4 -0.1 0.4 1.4 0.3 -1.2 0.4 3.3 0.4 -1.9 0.4 0.1 0.4 -0.7 0.4 -3.4 0.4 5.4 0.4 -1.7 0.4 -2.3 0.4 1.1 0.4 1.3 0.4 1.5 0.4 -1.1 0.4 0.1 0.4 -0.1 0.4 -1.5 0.4 0.3 0.4 0.8 0.4 -1.6 0.4 1.7 0.4 0.7 0.4 -3.6 0.4 2.5 0.4 0 0.4 0.4 0.4 2 0.4 -3.8 0.4 4 0.4 -1.5 0.4 2.2 0.4 -3.5 0.3 0.9 0.4 -0.5 0.4 0.7 0.4 -1.7 0.4 0.2 0.4 0.7 0.4 1 0.4 -2.4 0.4 1.2 0.4 -0.4 0.4 1.1 0.4 0.7 0.4 -2.8 0.4 0.6 0.4 0.8 0.4 -0.8 0.4 2.9 0.4 0.3 0.4 -1.1 0.4 -0.3 0.4 -2 0.4 0.2 0.4 1.7 0.4 1.3 0.4 -2.3 0.4 0.8 0.4 1.6 0.4 0.2 0.4 -3.4 0.4 1.6 0.4 0.6 0.4 -2.9 0.3 1.4 0.4 0.8 0.4 -0.9 0.4 1.3 0.4 -1.1 0.4 -1.6 0.4 0.5 0.4 -1.1 0.4 1 0.4 2.3 0.4 -0.4 0.4 0.3 0.4 1 0.4 -3 0.4 0.8 0.4 0.7 0.4 1.9 0.4 -1.7 0.4 -0.5 0.4 0.6 0.4 -1.5 0.4 -1.3 0.4 3 0.4 -1.1 0.4 1 0.4 -2 0.4 0.4 0.4 2 0.4 -0.7 0.4 0.9 0.4 -1.9 0.4 0.9 0.3 0.7 0.4 0.3 0.4 -1.2 0.4 0.4 0.4 -0.4 0.4 -0.1 0.4 0.1 0.4 0.6 0.4 -2.1 0.4 1.5 0.4 -1.2 0.4 1.3 0.4 -0.4 0.4 0.6 0.4 -0.6 0.4 0.1 0.4 -1.5 0.4 3.4 0.4 -3.3 0.4 -0.7 0.4 2.7 0.4 0.3 0.4 -0.8 0.4 -0.3 0.4 -1 0.4 3.6 0.4 -4.3 0.4 4.9 0.4 -4.7 0.4 0.6 0.4 1 0.3 -0.3 0.4 1.2 0.4 -1.7 0.4 0.7 0.4 -1.5 0.4 3.3 0.4 -1.8 0.4 -0.5 0.4 0.9 0.4 1.1 0.4 -0.7 0.4 -1.3 0.4 1.1 0.4 0.2 0.4 0.1 0.4 -0.8 0.4 1.2 0.4 -2.2 0.4 1.5 0.4 -1.1 0.4 1 0.4 -0.7 0.4 1.5 0.4 -1.3 0.4 1.9 0.4 -2.6 0.4 2.4 0.4 -2.2 0.4 -2 0.4 1.8 0.4 2.2 0.4 -0.8 0.3 0.4 0.4 -1.1 0.4 0.9 0.4 -1.6 0.4 3.3 0.4 -0.2 0.4 -1.4 0.4 -1.2 0.4 -0.1 0.4 1.5 0.4 -0.3 0.4 -1.5 0.4 2 0.4 0.2 0.4 -0.4 0.4 -0.2 0.4 -0.2 0.4 -0.3 0.4 -0.3 0.4 -0.4 0.4 2.2 0.4 -3.3 0.4 2 0.4 0.9 0.4 1.7 0.4 -3.1 0.4 2 0.4 -0.1 0.4 -0.4 0.4 1.1 0.4 -4.2 0.3 3.2 0.4 -1.3 0.4 0.7 0.4 -0.7 0.4 -0.9 0.4 -1.2 0.4 2.7 0.4 -0.8 0.4 -1.3 0.4 1.5 0.4 -1.2 0.4 0.3 0.4 1.2 0.4 0.7 0.4 -3.2 0.4 2.2 0.4 0.8 0.4 -2.3 0.4 1.2 0.4 0.7 0.4 0.8 0.4 -2.5 0.4 -0.6 0.4 1.2 0.4 0.1 0.4 0.6 0.4 0.1 0.4 -2.4 0.4 3.2 0.4 -2.9 0.4 2.4 0.4 0.2 0.3 -0.1 0.4 -0.1 0.4 0 0.4 -1.4 0.4 0 0.4 3.6 0.4 -0.7 0.4 -0.3 0.4 -0.6 0.4 -2.9 0.4 4.2 0.4 -2.6 0.4 0.3 0.4 0.9 0.4 -1.7 0.4 2.4 0.4 -4.5 0.4 4.4 0.4 -0.9 0.4 -1.6 0.4 2 0.4 0.4 0.4 -0.5 0.4 0.2 0.4 -1.4 0.4 1.5 0.4 0 0.4 0.3 0.4 -0.7 0.4 -2.9 0.4 2.7 0.3 -2.2 0.4 0.6 0.4 0.8 0.4 0.3 0.4 -0.5 0.4 0.7 0.4 0.2 0.4 -0.4 0.4 -0.1 0.4 0.3 0.4 0.4 0.4 -1.9 0.4 -0.7 0.4 3 0.4 -1.1 0.4 -3 0.4 4.2 0.4 0 0.4 -3.6 0.4 0.8 0.4 0.8 0.4 -0.9 0.4 0.7 0.4 0.7 0.4 1.3 0.4 -4.2 0.4 3.1 0.4 1.2 0.4 -4.2 0.4 3.3 0.4 -0.5 0.4 -0.6 0.3 1.7 0.4 0.6 0.4 -0.2 0.4 1.1 0.4 -3.3 0.4 -1.7 0.4 1.9 0.4 0.8 0.4 1.3 0.4 -0.8 0.4 -1.4 0.4 2.4 0.4 -1.1 0.4 -0.3 0.4 -0.5 0.4 0.8 0.4 0.2 0.4 -0.7 0.4 -3 0.4 1.9 0.4 1.6 0.4 1.4 0.4 -0.5 0.4 -0.1 0.4 0.8 0.4 -1.3 0.4 0.8 0.4 -0.4 0.4 -0.9 0.4 -1.4 0.4 -0.9 0.3 2.5 0.4 -2 0.4 1.4 0.4 1 0.4 -1.8 0.4 2 0.4 -1 0.4 -1.2 0.4 1.8 0.4 0.2 0.4 -1.5 0.4 1.2 0.4 -2 0.4 1.6 0.4 0.2 0.4 -1.6 0.4 1.3 0.4 1.7 0.4 -2.6 0.4 -0.6 0.4 -0.3 0.4 0.8 0.4 -0.4 0.4 -0.7 0.4 2.1 0.4 0.3 0.4 -1.6 0.4 1.3 0.4 1.1 0.4 -0.7 0.4 -0.3 0.4 0.7 0.3 -1.7 0.4 1.9 0.4 1.2 0.4 -3.1 0.4 -1.5 0.4 1.4 0.4 -0.3 0.4 1.5 0.4 1.2 0.4 -0.8 0.4 1.4 0.4 -1.5 0.4 -0.5 0.4 -2.5 0.4 2.9 0.4 -1.3 0.4 0.2 0.4 0.3 0.4 2.3 0.4 -0.9 0.4 -1.1 0.4 -1.7 0.4 1.2 0.4 0.2 0.4 1.4 0.4 -0.4 0.4 -0.1 0.4 -1.8 0.4 2.3 0.4 2.2 0.4 -5 0.3 0.4 0.4 1.3 0.4 1.1 0.4 -0.8 0.4 -0.2 0.4 1.6 0.4 -3.1 0.4 -1.2 0.4 0.6 0.4 2.9 0.4 0.1 0.4 -1.6 0.4 -1.3 0.4 0.7 0.4 1.5 0.4 0.7 0.4 -1.9 0.4 -0.3 0.4 -0.1 0.4 0.3 0.4 1.6 0.4 -0.6 0.4 0.2 0.4 -0.3 0.4 0.1 0.4 -1.9 0.4 0.3 0.4 1.7 0.4 0.1 0.4 0.8 0.4 -1.4 0.4 -1 0.3 0.8 0.4 0 0.4 0.9 0.4 -0.8 0.4 0.8 0.4 0 0.4 0 0.4 0.1 0.4 -1.9 0.4 2.6 0.4 0.6 0.4 -1 0.4 1 0.4 -1.5 0.4 -1.1 0.4 1.3 0.4 -0.7 0.4 -0.1 0.4 2.1 0.4 -3.1 0.4 2.5 0.4 -2.1 0.4 -1.4 0.4 3 0.4 -0.8 0.4 0.1 0.4 0.1 0.4 1 0.4 -0.9 0.4 -0.8 0.4 0.2 0.4 0.7 0.3 -1.2 0.4 1.1 0.4 -3 0.4 2.3 0.4 0.1 0.4 0.9 0.4 -2.2 0.4 1.1 0.4 0.7 0.4 2.9 0.4 -3.2 0.4 0.5 0.4 -1.5 0.4 3.3 0.4 -2.9 0.4 -0.1 0.4 0.5 0.4 -1.8 0.4 0.3 0.4 0.7 0.4 -0.6 0.4 2.2 0.4 -1.9 0.4 3.3 0.4 -2.4 0.4 -1.3 0.4 1 0.4 0.6 0.4 -0.9 0.4 0.5 0.4 -0.8 0.3 -0.8 0.4 0.8 0.4 2.1 0.4 -2.6 0.4 0.3 0.4 -1.8 0.4 1 0.4 1 0.4 -0.8 0.4 1.7 0.4 -0.4 0.4 -1.8 0.4 0.3 0.4 0.9 0.4 -0.5 0.4 -0.9 0.4 -2 0.4 3.7 0.4 -1.7 0.4 0 0.4 -1.2 0.4 2.4 0.4 -2.1 0.4 0.2 0.4 -2.8 0.4 1.6 0.4 0.3 0.4 0.3 0.4 0.1 0.4 -1.4 0.4 1.2 0.4 -1.7 0.3 -0.3 0.4 -0.2 0.4 -2.3 0.4 -1 0.4 4.4 0.4 -4.6 0.4 0.9 0.4 1 0.4 -1.9 0.4 1.7 0.4 -4.1 0.4 2.1 0.4 0.2 0.4 1.5 0.4 -1.2 0.4 -2.9 0.4 1.6 0.4 -0.9 0.4 -1.9 0.4 0.7 0.4 1.8 0.4 -1.6 0.4 -0.7 0.4 0.6 0.4 -0.6 0.4 -0.1 0.4 2.6 0.4 0.5 0.4 1 0.4 -2.7 0.4 0.9 0.3 2.3 0.4 0 0.4 0.1 0.4 -0.8 0.4 1.4 0.4 -0.9 0.4 3.8 0.4 -0.6 0.4 -1.7 0.4 3 0.4 -2.4 0.4 2.2 0.4 -0.2 0.4 -0.4 0.4 2.3 0.4 -3.3 0.4 1.8 0.4 0.2 0.4 -1.6 0.4 0.5 0.4 2.1 0.4 0.4 0.4 -1.4 0.4 2 0.4 0 0.4 0.5 0.4 -1 0.4 0.2 0.4 1 0.4 -1.3 0.4 -0.2 0.4 -0.4 0.3 2.1 0.4 1 0.4 -3.6 0.4 2 0.4 1.2 0.4 1 0.4 -1.4 0.4 -1.2 0.4 1.9 0.4 1.9 0.4 -2.2 0.4 0.5 0.4 1.2 0.4 -3.7 0.4 2.8 0.4 0.8 0.4 -0.5 0.4 -0.9 0.4 -0.6 0.4 -0.2 0.4 -0.9 0.4 1 0.4 -0.8 0.4 1.3 0.4 -0.1 0.4 -0.4 0.4 0.2 0.4 0.6 0.4 -1.5 0.4 2.2 0.4 -0.6 0.3 0.5 0.4 -1 0.4 0.1 0.4 0.5 0.4 -0.1 0.4 -0.5 0.4 0 0.4 -0.2 0.4 0.2 0.4 -0.4 0.4 -0.1 0.4 -0.2 0.4 2.8 0.4 -2.4 0.4 0.7 0.4 -1.1 0.4 1.3 0.4 1.3 0.4 -2.3 0.4 1.1 0.4 -0.3 0.4 1.1 0.4 -1.1 0.4 0 0.4 -0.2 0.4 -2 0.4 3.4 0.4 0.8 0.4 -2.9 0.4 2 0.4 -1 0.4 1.6 0.3 -2.3 0.4 1.2 0.4 1 0.4 -0.9 0.4 -0.4 0.4 -0.3 0.4 -0.7 0.4 0.9 0.4 -1.3 0.4 3 0.4 -1.3 0.4 -0.8 0.4 -1.6 0.4 3 0.4 0.3 0.4 -1.1 0.4 0.5 0.4 0 0.4 -1 0.4 -0.3 0.4 0.4 0.4 1.2 0.4 -2 0.4 -1.2 0.4 1.9 0.4 -0.1 0.4 -0.2 0.4 0.3 0.4 -1.6 0.4 0.3 0.4 0.5 0.3 0.3 0.4 0.6 0.4 0.2 0.4 -0.6 0.4 -0.4 0.4 -1 0.4 0.5 0.4 -1.3 0.4 0.9 0.4 1.2 0.4 0.1 0.4 -1.8 0.4 2.4 0.4 -4 0.4 3.1 0.4 -0.6 0.4 -0.3 0.4 0.6 0.4 -1 0.4 2.9 0.4 -3.1 0.4 0 0.4 0.7 0.4 -2.7 0.4 2 0.4 -1.6 0.4 3 0.4 -2.2 0.4 0.3 0.4 -2 0.4 4 0.4 -4.2 0.3 0.2 0.4 0.6 0.4 -1.8 0.4 0.9 0.4 0.8 0.4 1.5 0.4 -0.1 0.4 -2.8 0.4 0.5 0.4 1.2 0.4 0.3 0.4 -2.5 0.4 0.4 0.4 0 0.4 -0.1 0.4 -0.7 0.4 2 0.4 -2.6 0.4 1.2 0.4 -1.1 0.4 3.1 0.4 -2.8 0.4 -4.3 0.4 2.5 0.4 -3.6 0.4 3.3 0.4 -2.5 0.4 -2.7 0.4 0.6 0.4 -0.1 0.4 1.2 0.3 -2.6 0.4 -0.7 0.4 -2.6 0.4 -1.3 0.4 -2.9 0.4 -0.9 0.4 -2.3 0.4 -2.8 0.4 -4.5 0.4 -3.8 0.4 -5.8 0.4 -5.9 0.4 -9.1 0.4 -9.1 0.4 -10.1 0.4 -8.6 0.4 -5.4 0.4 -2.2 0.4 5.9 0.4 5.9 0.4 6.2 0.4 6.6 0.4 2.4 0.4 3.7 0.4 1.4 0.4 0.4 0.4 -1.4 0.4 -3.6 0.4 -8.3 0.4 -6 0.4 -8.7 0.4 -14.6 0.3 -15.6 0.4 -22.8 0.4 -22.3 0.4 -27.8 0.4 -30.2 0.4 -21 0.4 -13.5 0.4 -0.2 0.4 13.6 0.4 25.3 0.4 28.5 0.4 29.9 0.4 25.1 0.4 22.6 0.4 16 0.4 15.5 0.4 10.4 0.4 9 0.4 8.7 0.4 5.5 0.4 5.4 0.4 6.4 0.4 3.8 0.4 1.6 0.4 2.7 0.4 3.2 0.4 1.5 0.4 3.5 0.4 0.4 0.4 0.3 0.4 1.8 0.4 2.6 0.3 2.9 0.4 -0.9 0.4 -1.3 0.4 1.3 0.4 1.9 0.4 0.2 0.4 0.9 0.4 2.7 0.4 -3.1 0.4 0.6 0.4 1.4 0.4 0.5 0.4 0.5 0.4 1.1 0.4 -0.7 0.4 1.5 0.4 -0.7 0.4 0.4 0.4 -2.1 0.4 1.1 0.4 0.8 0.4 1.4 0.4 -1.3 0.4 -0.2 0.4 0.4 0.4 3 0.4 -3.6 0.4 2.1 0.4 -0.1 0.4 1.8 0.4 -0.8 0.3 -1 0.4 1.4 0.4 0.6 0.4 -1.8 0.4 -1.4 0.4 0.6 0.4 1.6 0.4 -1.2 0.4 1.4 0.4 1.2 0.4 -1 0.4 2.4 0.4 -2.6 0.4 -1.2 0.4 1.7 0.4 0.9 0.4 -2.6 0.4 2.1 0.4 1.5 0.4 -1.6 0.4 1.9 0.4 -3.8 0.4 2.4 0.4 -2.5 0.4 -0.1 0.4 0.4 0.4 2.9 0.4 -0.8 0.4 1.3 0.4 -2.6 0.4 -0.9 0.4 3 0.3 -1.8 0.4 -0.9 0.4 2.6 0.4 0.4 0.4 -2.1 0.4 1.1 0.4 0.5 0.4 -1.7 0.4 0.2 0.4 1.3 0.4 1.6 0.4 -3 0.4 2.1 0.4 -0.3 0.4 -0.4 0.4 -0.4 0.4 -0.8 0.4 1.8 0.4 -0.9 0.4 -2.7 0.4 3.3 0.4 -1.3 0.4 0.8 0.4 2.5 0.4 -1.9 0.4 -2.9 0.4 2 0.4 -0.8 0.4 2.5 0.4 -5.1 0.4 4.6 0.3 -0.6 0.4 -0.5 0.4 1 0.4 1.6 0.4 -4.3 0.4 1.6 0.4 0.6 0.4 0.1 0.4 -0.3 0.4 0.8 0.4 -0.3 0.4 -0.7 0.4 -1.7 0.4 3 0.4 1 0.4 -0.3 0.4 -0.9 0.4 0.9 0.4 -3.1 0.4 2.7 0.4 -0.5 0.4 -0.5 0.4 1.4 0.4 -1.5 0.4 -0.3 0.4 -0.7 0.4 -1 0.4 1.7 0.4 2.6 0.4 0.1 0.4 -2.9 0.4 0.9 0.3 1.7 0.4 -3.1 0.4 0.7 0.4 -1.1 0.4 3.6 0.4 -2.7 0.4 0.4 0.4 0.4 0.4 -1 0.4 4.1 0.4 -1.7 0.4 1.2 0.4 -5 0.4 3.4 0.4 -1.1 0.4 -1.2 0.4 1.5 0.4 1.8 0.4 -0.5 0.4 -2 0.4 4.8 0.4 -2.8 0.4 -2.3 0.4 -0.1 0.4 0.3 0.4 0.7 0.4 -0.6 0.4 -0.1 0.4 2 0.4 -2 0.4 1 0.3 -0.9 0.4 0.4 0.4 1.8 0.4 -1.4 0.4 0.9 0.4 -1 0.4 1.4 0.4 -1.4 0.4 1.5 0.4 -3 0.4 2.9 0.4 -0.7 0.4 -1.7 0.4 0.3 0.4 -1.6 0.4 2.1 0.4 0.5 0.4 -0.9 0.4 1.9 0.4 -3.8 0.4 2.3 0.4 -1.2 0.4 0.8 0.4 1.7 0.4 -1.1 0.4 1.8 0.4 -2.2 0.4 -0.3 0.4 0.4 0.4 -1.4 0.4 0.7 0.4 1 0.3 1.2 0.4 -2.4 0.4 0.1 0.4 -0.8 0.4 0.2 0.4 1.6 0.4 0.1 0.4 0.4 0.4 -0.8 0.4 1.6 0.4 -3.4 0.4 2.1 0.4 0.8 0.4 -1.1 0.4 0.9 0.4 -0.8 0.4 -0.2 0.4 0.7 0.4 -1 0.4 0.7 0.4 0.8 0.4 -2 0.4 2.1 0.4 0.6 0.4 0.6 0.4 -2.4 0.4 1.8 0.4 -3.6 0.4 0.6 0.4 1.7 0.4 -1.4 0.3 0.2 0.4 -0.1 0.4 0.8 0.4 -0.4 0.4 -0.3 0.4 1 0.4 -0.5 0.4 0.6 0.4 0.4 0.4 0.3 0.4 -1 0.4 -0.2 0.4 0 0.4 -0.8 0.4 1.8 0.4 -0.6 0.4 1.3 0.4 -0.8 0.4 -1 0.4 1.6 0.4 -1.3 0.4 0.2 0.4 0.7 0.4 -0.3 0.4 -1.2 0.4 1.7 0.4 -0.3 0.4 -0.5 0.4 -0.2 0.4 0.5 0.4 -2.1 0.4 3.4 0.3 -4.5 0.4 1.7 0.4 0 0.4 1.7 0.4 -0.5 0.4 0.4 0.4 -1.8 0.4 2.8 0.4 -0.3 0.4 -3.6 0.4 2.7 0.4 -2.5 0.4 1.6 0.4 1.3 0.4 -0.6 0.4 -1.6 0.4 0.8 0.4 2 0.4 -1 0.4 0.6 0.4 -2.8 0.4 2.6 0.4 -0.4 0.4 -1.3 0.4 2.7 0.4 -1.7 0.4 1.1 0.4 -1.6 0.4 1.1 0.4 0.1 0.4 -0.7 0.3 0.2 0.4 0.3 0.4 -0.5 0.4 -1.4 0.4 1.9 0.4 -0.5 0.4 0.4 0.4 -1.2 0.4 2.7 0.4 -0.7 0.4 0.5 0.4 0.6 0.4 -1 0.4 -1.5 0.4 -1.1 0.4 2.8 0.4 -1 0.4 0.6 0.4 0.6 0.4 -1.7 0.4 -0.9 0.4 1.5 0.4 -0.9 0.4 -0.5 0.4 1.4 0.4 -0.7 0.4 0.9 0.4 -1.9 0.4 1.1 0.4 -0.1 0.4 0.2 0.4 -0.6 0.3 1.4 0.4 -2.4 0.4 2.2 0.4 0.7 0.4 -1.2 0.4 0.1 0.4 -1 0.4 1.2 0.4 0.2 0.4 -0.3 0.4 0.2 0.4 0.2 0.4 -0.4 0.4 -2.3 0.4 0.8 0.4 1.2 0.4 2.6 0.4 -1.3 0.4 -1.2 0.4 -0.2 0.4 -0.3 0.4 1.2 0.4 -1.1 0.4 0.4 0.4 -1 0.4 0.5 0.4 -0.7 0.4 0.3 0.4 0.5 0.4 1.7 0.4 -0.9 0.4 0.8 0.3 -1.7 0.4 0.8 0.4 -1 0.4 0.5 0.4 0 0.4 -1.7 0.4 1.9 0.4 -1.4 0.4 1.9 0.4 -1.2 0.4 -1.1 0.4 0.4 0.4 0.4 0.4 2.6 0.4 -3.1 0.4 1 0.4 0.7 0.4 -0.4 0.4 0.1 0.4 0.9 0.4 -1.6 0.4 2.8 0.4 -0.5 0.4 -1.3 0.4 1.3 0.4 -1.4 0.4 -0.6 0.4 -0.9 0.4 0.6 0.4 1.4 0.4 -0.2 0.3 1.4 0.4 0 0.4 -0.8"/>
<path d="M165.6 2011l0.4 0.9 0.3 -1 0.4 -1.2 0.4 1.1 0.4 0.4 0.4 0 0.4 0.1 0.4 0.1 0.4 -1.8 0.4 2.5 0.4 -0.9 0.4 -0.2 0.4 -1.1 0.4 1.5 0.4 -1 0.4 -0.5 0.4 1.3 0.4 0 0.4 -0.3 0.4 -0.5 0.4 0.7 0.4 -0.1 0.4 0.1 0.4 0 0.4 -1 0.4 1 0.4 -0.9 0.4 0.9 0.4 -0.4 0.4 -0.1 0.4 1.1 0.4 -0.7 0.4 0 0.3 0.3 0.4 0.7 0.4 -2.6 0.4 1.7 0.4 -0.2 0.4 0.6 0.4 -0.6 0.4 -0.1 0.4 0.4 0.4 -0.4 0.4 -0.4 0.4 0.5 0.4 0.9 0.4 -0.7 0.4 -1.5 0.4 1.1 0.4 -0.4 0.4 1 0.4 -1.1 0.4 0.5 0.4 0.3 0.4 0.2 0.4 -0.8 0.4 0.4 0.4 1 0.4 -1.5 0.4 0.3 0.4 -0.5 0.4 0.3 0.4 0.3 0.4 -0.3 0.3 0.2 0.4 -1.1 0.4 0.6 0.4 -0.4 0.4 -1.5 0.4 1.9 0.4 -0.9 0.4 -0.8 0.4 0.4 0.4 -1.1 0.4 -2.6 0.4 0.1 0.4 -1 0.4 -3.6 0.4 -2.1 0.4 -2.4 0.4 1.1 0.4 2.5 0.4 3.8 0.4 1.9 0.4 -0.3 0.4 2.8 0.4 -0.8 0.4 0.9 0.4 1.1 0.4 0 0.4 0.6 0.4 0.3 0.4 0.7 0.4 -0.8 0.4 0 0.4 0.1 0.3 1.7 0.4 -0.6 0.4 0.1 0.4 -0.3 0.4 -0.1 0.4 0.6 0.4 -0.7 0.4 -0.8 0.4 0 0.4 2.2 0.4 -1.9 0.4 0.2 0.4 0.3 0.4 0.7 0.4 -1.2 0.4 0.5 0.4 0.4 0.4 -1 0.4 0.8 0.4 0.6 0.4 -0.5 0.4 -0.1 0.4 0.3 0.4 -0.3 0.4 -0.3 0.4 0 0.4 0.8 0.4 -1.4 0.4 0.2 0.4 1.1 0.4 0.3 0.4 -0.6 0.3 -0.6 0.4 -0.4 0.4 1.2 0.4 -0.2 0.4 0.1 0.4 0 0.4 -0.8 0.4 0.2 0.4 0.3 0.4 0 0.4 -0.8 0.4 0.2 0.4 0.6 0.4 0.9 0.4 0.5 0.4 -1.2 0.4 -0.3 0.4 0.4 0.4 -0.2 0.4 -0.5 0.4 -1.3 0.4 1.9 0.4 -0.4 0.4 0.3 0.4 -0.5 0.4 0.3 0.4 0.3 0.4 -0.8 0.4 0.3 0.4 0.8 0.4 0.1 0.3 -1.5 0.4 1.5 0.4 0.3 0.4 -0.5 0.4 0 0.4 -0.2 0.4 0.2 0.4 -0.5 0.4 1 0.4 -0.8 0.4 -0.7 0.4 1.1 0.4 0.2 0.4 -0.3 0.4 -0.8 0.4 0.9 0.4 -1.9 0.4 2.5 0.4 -0.6 0.4 -1.3 0.4 -0.2 0.4 2.5 0.4 -1.2 0.4 -0.5 0.4 0.5 0.4 -0.3 0.4 0 0.4 0.3 0.4 0 0.4 -0.7 0.4 0.7 0.4 0 0.3 -0.7 0.4 1.1 0.4 -0.2 0.4 -0.9 0.4 1.5 0.4 -0.6 0.4 0.4 0.4 -1.1 0.4 0.1 0.4 0.3 0.4 -0.3 0.4 0.2 0.4 -0.7 0.4 1.9 0.4 -0.8 0.4 0.4 0.4 0.2 0.4 -1 0.4 1.2 0.4 -2.4 0.4 1.1 0.4 -0.1 0.4 0.2 0.4 -0.6 0.4 1.1 0.4 0.7 0.4 -1 0.4 0.2 0.4 -1.5 0.4 0.8 0.4 0.6 0.3 -0.6 0.4 0.5 0.4 -0.4 0.4 0.5 0.4 -1 0.4 1 0.4 0.6 0.4 -0.4 0.4 0.7 0.4 -1.2 0.4 0.6 0.4 -1.2 0.4 1.2 0.4 -0.2 0.4 -0.5 0.4 0.8 0.4 -1.2 0.4 0.4 0.4 0.4 0.4 -0.8 0.4 0 0.4 1.1 0.4 -0.7 0.4 -0.4 0.4 0.3 0.4 0 0.4 -0.1 0.4 0.6 0.4 -0.8 0.4 -0.2 0.4 0.8 0.4 -0.1 0.3 0.7 0.4 -1.3 0.4 0.4 0.4 0.8 0.4 -0.3 0.4 -0.5 0.4 -0.2 0.4 0.8 0.4 -0.4 0.4 -0.4 0.4 0.2 0.4 0 0.4 0.8 0.4 -1.9 0.4 1 0.4 1 0.4 -1.6 0.4 0.8 0.4 0.6 0.4 -1.2 0.4 0.4 0.4 -0.1 0.4 0.5 0.4 -0.4 0.4 -0.2 0.4 0.6 0.4 0.1 0.4 0.5 0.4 -0.9 0.4 0.2 0.4 -0.3 0.3 1 0.4 0 0.4 -1.1 0.4 -0.7 0.4 2.2 0.4 -2.1 0.4 0.1 0.4 0.6 0.4 1.4 0.4 -0.5 0.4 -0.7 0.4 0.5 0.4 -0.5 0.4 0.7 0.4 -0.8 0.4 1.1 0.4 -0.5 0.4 -0.7 0.4 -0.6 0.4 1.6 0.4 -0.4 0.4 -0.8 0.4 0 0.4 0.3 0.4 0 0.4 0.1 0.4 0.1 0.4 0 0.4 -0.3 0.4 1.4 0.4 -1.2 0.4 -0.2 0.3 0.6 0.4 -0.7 0.4 0.7 0.4 -0.2 0.4 0.5 0.4 -1.1 0.4 -0.5 0.4 1.7 0.4 -0.8 0.4 1.1 0.4 -0.6 0.4 -0.6 0.4 0.4 0.4 -0.8 0.4 0.1 0.4 0.5 0.4 0.1 0.4 -1 0.4 1.4 0.4 -0.2 0.4 0.3 0.4 -1.3 0.4 1.1 0.4 -0.7 0.4 0.1 0.4 0.8 0.4 -0.5 0.4 0.3 0.4 0.1 0.4 0.2 0.4 -1.1 0.3 -0.1 0.4 0.8 0.4 0.1 0.4 -0.7 0.4 0.6 0.4 -0.7 0.4 0.3 0.4 0.1 0.4 0.2 0.4 0.3 0.4 -0.6 0.4 0.3 0.4 -0.5 0.4 0.8 0.4 -0.1 0.4 -0.6 0.4 1.4 0.4 -1.1 0.4 -0.1 0.4 -0.1 0.4 0.5 0.4 -0.1 0.4 -0.5 0.4 0.6 0.4 0.3 0.4 0.3 0.4 -0.5 0.4 -0.5 0.4 -0.2 0.4 0.7 0.4 0.4 0.4 0.5 0.3 -1.3 0.4 -0.4 0.4 0 0.4 0.7 0.4 0.2 0.4 -0.8 0.4 -0.2 0.4 -0.4 0.4 1.4 0.4 -1.2 0.4 1.1 0.4 -0.4 0.4 -1 0.4 0.4 0.4 1.2 0.4 -0.5 0.4 -0.2 0.4 0.8 0.4 -0.7 0.4 0.1 0.4 0 0.4 0 0.4 0.5 0.4 -0.8 0.4 0.8 0.4 0.3 0.4 -1.1 0.4 0.5 0.4 -0.9 0.4 0.7 0.4 0.6 0.3 -0.2 0.4 -0.7 0.4 0.5 0.4 0 0.4 -0.2 0.4 0 0.4 1 0.4 -2.5 0.4 1.1 0.4 0.8 0.4 -0.5 0.4 0.2 0.4 0 0.4 -0.3 0.4 0.1 0.4 -0.4 0.4 0.4 0.4 0.4 0.4 0.2 0.4 -0.3 0.4 -0.4 0.4 -0.1 0.4 -0.7 0.4 0.8 0.4 -0.4 0.4 0.2 0.4 0.1 0.4 0.3 0.4 0 0.4 -0.1 0.4 -0.6 0.4 0.4 0.3 0.6 0.4 -0.4 0.4 0.2 0.4 -0.2 0.4 0.8 0.4 0.1 0.4 0.5 0.4 -1.6 0.4 0.7 0.4 -1.2 0.4 1.1 0.4 -0.1 0.4 -0.5 0.4 1 0.4 -0.7 0.4 -0.9 0.4 1.6 0.4 -0.7 0.4 0.4 0.4 -0.8 0.4 -0.1 0.4 -0.2 0.4 0.1 0.4 0.9 0.4 -0.1 0.4 -1.1 0.4 0.8 0.4 0.1 0.4 -0.5 0.4 0.6 0.4 -0.6 0.4 0.9 0.3 -0.6 0.4 0.2 0.4 -1.9 0.4 1.5 0.4 0.3 0.4 -0.4 0.4 0.3 0.4 -0.4 0.4 0.9 0.4 -1 0.4 0.4 0.4 0.9 0.4 -0.1 0.4 -0.7 0.4 -0.6 0.4 -0.4 0.4 1.3 0.4 -0.1 0.4 -0.3 0.4 0 0.4 1.3 0.4 -0.7 0.4 -0.4 0.4 -0.2 0.4 0 0.4 0.3 0.4 -0.3 0.4 0.2 0.4 -0.3 0.4 0.7 0.4 -0.3 0.3 -0.7 0.4 2.1 0.4 -1.4 0.4 -0.4 0.4 -0.4 0.4 0.7 0.4 -0.4 0.4 1.3 0.4 -0.7 0.4 -0.5 0.4 -0.7 0.4 1.4 0.4 -1.3 0.4 1.1 0.4 -0.2 0.4 -1.5 0.4 1.3 0.4 1 0.4 -1.3 0.4 -0.7 0.4 0.3 0.4 0.8 0.4 0.2 0.4 0.3 0.4 -0.3 0.4 -0.6 0.4 0.2 0.4 0.1 0.4 0.1 0.4 -0.6 0.4 1 0.4 0.2 0.3 -0.6 0.4 0.1 0.4 -0.7 0.4 0.8 0.4 -0.6 0.4 0 0.4 0.9 0.4 -0.4 0.4 -0.3 0.4 -0.6 0.4 0.9 0.4 0.9 0.4 -0.8 0.4 0 0.4 0.5 0.4 0.5 0.4 -0.8 0.4 0.2 0.4 -0.4 0.4 0.2 0.4 -0.1 0.4 0.4 0.4 -0.8 0.4 0.4 0.4 0 0.4 -0.2 0.4 -0.3 0.4 0.8 0.4 -0.7 0.4 -0.6 0.4 1.2 0.3 -1.2 0.4 1.2 0.4 -1.7 0.4 1.3 0.4 1 0.4 -1.1 0.4 0.8 0.4 -0.9 0.4 -0.2 0.4 0.3 0.4 0.6 0.4 0.2 0.4 0.1 0.4 -0.3 0.4 -0.5 0.4 -1.1 0.4 0.7 0.4 1.2 0.4 -1.7 0.4 1.2 0.4 0 0.4 -1.2 0.4 1.1 0.4 -0.4 0.4 0.3 0.4 -0.1 0.4 -0.1 0.4 -0.4 0.4 -0.6 0.4 2.1 0.4 -1.5 0.4 0.4 0.3 -0.1 0.4 0 0.4 -0.2 0.4 0.7 0.4 -0.3 0.4 -0.3 0.4 0 0.4 0.6 0.4 -0.8 0.4 0.8 0.4 0.4 0.4 -0.1 0.4 -0.3 0.4 -1.2 0.4 1.3 0.4 -0.2 0.4 0.6 0.4 -1.1 0.4 0.1 0.4 1 0.4 -1.2 0.4 1.1 0.4 -0.5 0.4 -1.5 0.4 1.1 0.4 0 0.4 -0.5 0.4 -0.3 0.4 1.1 0.4 -0.6 0.4 0.2 0.3 -0.2 0.4 0.4 0.4 0.4 0.4 0.2 0.4 -0.2 0.4 -0.5 0.4 0.1 0.4 0.4 0.4 0.4 0.4 -0.7 0.4 -0.7 0.4 0.9 0.4 0.2 0.4 -0.6 0.4 0.9 0.4 -0.9 0.4 0.2 0.4 0.2 0.4 0.7 0.4 -1.5 0.4 0.9 0.4 0.1 0.4 -0.4 0.4 0.6 0.4 -0.9 0.4 -0.3 0.4 -0.1 0.4 0.3 0.4 -0.2 0.4 0.9 0.4 -0.3 0.4 -0.8 0.3 1.7 0.4 -0.8 0.4 -1 0.4 -0.1 0.4 1 0.4 0.8 0.4 -1 0.4 0.7 0.4 0.4 0.4 -0.5 0.4 -0.6 0.4 -0.5 0.4 0.3 0.4 1.1 0.4 -0.7 0.4 -0.5 0.4 0.3 0.4 0.1 0.4 0.7 0.4 -0.9 0.4 1.4 0.4 -1 0.4 0.1 0.4 -0.8 0.4 0.8 0.4 0 0.4 0.2 0.4 -0.8 0.4 0.5 0.4 -0.9 0.4 0.3 0.3 1.8 0.4 -1.5 0.4 -0.2 0.4 0.9 0.4 -0.6 0.4 1.6 0.4 -1.5 0.4 0.4 0.4 -0.5 0.4 0.7 0.4 -0.6 0.4 1.5 0.4 -1.9 0.4 0.7 0.4 0.1 0.4 -1 0.4 0.3 0.4 -0.1 0.4 -0.5 0.4 1.1 0.4 -1.8 0.4 0.9 0.4 0 0.4 0.8 0.4 -0.2 0.4 0.7 0.4 0.1 0.4 -0.6 0.4 -0.7 0.4 1 0.4 -0.8 0.4 0.2 0.3 0.2 0.4 0.8 0.4 0.7 0.4 -0.8 0.4 -1 0.4 0.8 0.4 0.2 0.4 -1.2 0.4 0.6 0.4 -0.5 0.4 0.1 0.4 0.4 0.4 0 0.4 -0.5 0.4 0.4 0.4 -0.7 0.4 0.6 0.4 0.2 0.4 -0.4 0.4 -0.5 0.4 0.4 0.4 0.6 0.4 0.3 0.4 0 0.4 0.1 0.4 0.4 0.4 -1.2 0.4 0.8 0.4 -1 0.4 1.4 0.4 -0.5 0.3 -1.1 0.4 1 0.4 0.2 0.4 -1 0.4 0.6 0.4 0.3 0.4 0.5 0.4 -1.3 0.4 1.2 0.4 -1.5 0.4 0.1 0.4 1.2 0.4 -0.3 0.4 -0.8 0.4 1.3 0.4 -0.6 0.4 -0.2 0.4 -0.3 0.4 -1.2 0.4 1.4 0.4 0.5 0.4 -0.5 0.4 0.4 0.4 -0.5 0.4 0.9 0.4 -2.4 0.4 1.9 0.4 -0.8 0.4 0.6 0.4 0.3 0.4 0.2 0.4 -0.2 0.3 0.3 0.4 -1.3 0.4 0.7 0.4 -1.3 0.4 1.4 0.4 -1.1 0.4 1.5 0.4 -0.5 0.4 -0.3 0.4 -0.2 0.4 0.5 0.4 -0.4 0.4 -0.5 0.4 1 0.4 -0.7 0.4 0.7 0.4 -0.8 0.4 -0.1 0.4 1.9 0.4 -0.9 0.4 0.3 0.4 -0.8 0.4 0.2 0.4 0 0.4 1.1 0.4 -0.8 0.4 -0.3 0.4 0 0.4 0 0.4 0.6 0.4 -0.6 0.4 0 0.3 0.7 0.4 -0.2 0.4 -0.1 0.4 0.7 0.4 -1.2 0.4 -0.5 0.4 -0.3 0.4 0.9 0.4 0.1 0.4 0.4 0.4 -1.3 0.4 0 0.4 0.7 0.4 -0.1 0.4 -0.6 0.4 0.7 0.4 0.5 0.4 -0.6 0.4 1.5 0.4 -0.9 0.4 -0.9 0.4 0.3 0.4 -0.6 0.4 2 0.4 -1.4 0.4 0 0.4 0.6 0.4 -0.6 0.4 -0.2 0.4 0.3 0.4 0.6 0.3 0 0.4 -1.3 0.4 -0.2 0.4 1.2 0.4 -0.4 0.4 -0.1 0.4 0.8 0.4 -0.3 0.4 -0.5 0.4 0.6 0.4 -0.8 0.4 0.2 0.4 1.3 0.4 -1.2 0.4 0.5 0.4 -0.5 0.4 0 0.4 -0.5 0.4 0 0.4 1.4 0.4 0.5 0.4 -0.9 0.4 0 0.4 -0.6 0.4 0.2 0.4 0.9 0.4 0.6 0.4 -1 0.4 -0.2 0.4 0.4 0.4 -0.5 0.4 -0.6 0.3 0 0.4 0.3 0.4 -0.1 0.4 -1.1 0.4 0.4 0.4 1.4 0.4 0.1 0.4 -0.1 0.4 -0.6 0.4 -0.2 0.4 0.3 0.4 0.2 0.4 -0.4 0.4 0.9 0.4 -1 0.4 -0.9 0.4 1.6 0.4 0.2 0.4 -0.6 0.4 0.6 0.4 0.1 0.4 -2.1 0.4 1.7 0.4 -0.9 0.4 1.1 0.4 -0.3 0.4 0.3 0.4 -0.6 0.4 -0.2 0.4 0.5 0.4 1.2 0.3 -1.1 0.4 -0.8 0.4 0.6 0.4 -0.2 0.4 0.9 0.4 -0.7 0.4 -0.2 0.4 0.3 0.4 -0.5 0.4 0.6 0.4 -0.8 0.4 0.3 0.4 0.4 0.4 -0.9 0.4 0 0.4 0.3 0.4 1.3 0.4 -0.3 0.4 -0.5 0.4 0.5 0.4 0 0.4 -0.9 0.4 -0.2 0.4 1.3 0.4 -1.1 0.4 0.7 0.4 -1.2 0.4 0.8 0.4 -0.6 0.4 1.1 0.4 0 0.4 -0.2 0.3 0.2 0.4 -0.7 0.4 0.5 0.4 0.1 0.4 -0.8 0.4 0.8 0.4 -0.2 0.4 0.1 0.4 -0.3 0.4 0.1 0.4 0.3 0.4 -0.2 0.4 0.2 0.4 -1.1 0.4 1.3 0.4 -1 0.4 1.1 0.4 -1.4 0.4 0.4 0.4 0.5 0.4 0.1 0.4 -0.5 0.4 -0.2 0.4 0.8 0.4 0.3 0.4 -1.1 0.4 -0.2 0.4 0.3 0.4 0.3 0.4 -0.9 0.4 0.4 0.3 0.9 0.4 -0.8 0.4 0 0.4 1.3 0.4 -0.2 0.4 0.3 0.4 -0.9 0.4 -0.1 0.4 -0.2 0.4 -0.5 0.4 -0.4 0.4 1.1 0.4 -0.4 0.4 0.8 0.4 0.2 0.4 -1.4 0.4 0.1 0.4 0.9 0.4 0.7 0.4 0.1 0.4 -1.3 0.4 0.4 0.4 0.8 0.4 -1.2 0.4 -0.2 0.4 1.3 0.4 -1.1 0.4 -0.3 0.4 1.6 0.4 -1.2 0.4 0.1 0.4 0.5 0.3 0.5 0.4 -0.4 0.4 -0.3 0.4 0.1 0.4 0 0.4 0 0.4 -1.2 0.4 1.2 0.4 -1 0.4 0.4 0.4 0.5 0.4 -0.2 0.4 0.3 0.4 -0.2 0.4 0.3 0.4 0.7 0.4 -1.6 0.4 1.2 0.4 0.4 0.4 -1.2 0.4 0 0.4 0.1 0.4 0.3 0.4 -0.6 0.4 0.2 0.4 0.2 0.4 0 0.4 0.8 0.4 -1.1 0.4 0.8 0.4 -0.1 0.3 -0.3 0.4 0 0.4 -0.6 0.4 0.1 0.4 0.6 0.4 -0.1 0.4 -0.3 0.4 0.8 0.4 -0.5 0.4 -0.1 0.4 -0.1 0.4 0.7 0.4 -0.3 0.4 -0.1 0.4 -0.9 0.4 1.6 0.4 -1.7 0.4 1 0.4 -0.9 0.4 -0.2 0.4 -0.9 0.4 1.8 0.4 0.1 0.4 -0.4 0.4 0 0.4 -0.5 0.4 0.7 0.4 -0.1 0.4 -0.7 0.4 0.5 0.4 0.1 0.4 -0.4 0.3 1.2 0.4 -1.3 0.4 1.8 0.4 -0.5 0.4 -0.9 0.4 1.2 0.4 -0.3 0.4 0.1 0.4 -0.6 0.4 -0.6 0.4 -0.7 0.4 1.4 0.4 -0.3 0.4 -0.2 0.4 1.4 0.4 -0.8 0.4 -1.1 0.4 0.7 0.4 0.4 0.4 -1 0.4 0.8 0.4 -0.3 0.4 -0.6 0.4 1 0.4 0.2 0.4 -1.8 0.4 1.6 0.4 -0.5 0.4 0.1 0.4 -0.7 0.4 0.3 0.3 1.6 0.4 -0.6 0.4 -0.5 0.4 0.1 0.4 -0.5 0.4 0.4 0.4 -0.4 0.4 0.6 0.4 -0.7 0.4 0.7 0.4 0.3 0.4 -0.6 0.4 0.3 0.4 0 0.4 -0.4 0.4 -0.5 0.4 1.4 0.4 -0.6 0.4 -0.2 0.4 0.9 0.4 -1.2 0.4 0.2 0.4 -0.1 0.4 -0.2 0.4 0.5 0.4 -0.3 0.4 1.1 0.4 -1.1 0.4 1.1 0.4 -1.2 0.4 0.3 0.4 0.2 0.3 -0.5 0.4 0.8 0.4 -0.7 0.4 0 0.4 0.7 0.4 -0.8 0.4 0.8 0.4 0.2 0.4 -0.1 0.4 0.3 0.4 -1 0.4 0.9 0.4 -0.9 0.4 -0.7 0.4 0.8 0.4 1.2 0.4 -1.6 0.4 1.5 0.4 -1.7 0.4 1.2 0.4 -0.2 0.4 -0.5 0.4 -1 0.4 1.6 0.4 0 0.4 -0.1 0.4 0.2 0.4 -0.9 0.4 1.5 0.4 -0.6 0.4 -0.9 0.4 1.6 0.3 -1.2 0.4 0.2 0.4 0.3 0.4 -1 0.4 0 0.4 0.4 0.4 -0.6 0.4 0.6 0.4 0.8 0.4 -1.4 0.4 0.7 0.4 -0.4 0.4 0.8 0.4 -1.1 0.4 0 0.4 0.5 0.4 1.2 0.4 -1.6 0.4 -0.4 0.4 0.3 0.4 1 0.4 0.1 0.4 -0.6 0.4 0.2 0.4 -0.9 0.4 1 0.4 -0.4 0.4 -0.2 0.4 0.9 0.4 0 0.4 -0.9 0.3 0.4 0.4 -1.2 0.4 0.5 0.4 1.3 0.4 -1.4 0.4 0.1 0.4 1.1 0.4 -1.9 0.4 0.9 0.4 0.8 0.4 -0.7 0.4 -0.3 0.4 -0.1 0.4 0.7 0.4 -0.6 0.4 0.6 0.4 -0.2 0.4 0 0.4 0.6 0.4 -0.9 0.4 -0.3 0.4 0.5 0.4 0.1 0.4 -0.2 0.4 -0.9 0.4 1.3 0.4 -1.4 0.4 -0.2 0.4 1.6 0.4 0.3 0.4 -1.1 0.4 -0.3 0.3 1.2 0.4 -1.6 0.4 0.7 0.4 -0.4 0.4 0.6 0.4 -0.2 0.4 -0.7 0.4 1 0.4 -0.3 0.4 -0.4 0.4 -0.3 0.4 0.1 0.4 -0.7 0.4 0.5 0.4 -0.1 0.4 0.4 0.4 -0.5 0.4 -0.1 0.4 0.3 0.4 0.3 0.4 -0.2 0.4 -0.4 0.4 -0.1 0.4 1 0.4 -0.8 0.4 -0.6 0.4 0.8 0.4 -1 0.4 0.7 0.4 0.7 0.4 -0.4 0.3 0 0.4 0.7 0.4 0.3 0.4 -1.1 0.4 -0.1 0.4 0.3 0.4 -0.1 0.4 0.9 0.4 0.2 0.4 -0.4 0.4 -0.5 0.4 -0.2 0.4 0.8 0.4 -0.3 0.4 0.7 0.4 -0.9 0.4 0.4 0.4 0.2 0.4 0.8 0.4 -0.1 0.4 -0.2 0.4 -0.1 0.4 0.3 0.4 -1.3 0.4 1.5 0.4 -0.6 0.4 0.9 0.4 -0.3 0.4 0.2 0.4 -1 0.4 2 0.4 -1.3 0.3 -0.1 0.4 -0.5 0.4 0.5 0.4 -1.3 0.4 1.9 0.4 -0.5 0.4 -0.2 0.4 0.7 0.4 -0.4 0.4 0 0.4 -0.6 0.4 0.5 0.4 -0.8 0.4 0 0.4 0.7 0.4 -0.4 0.4 -0.4 0.4 0.6 0.4 -0.9 0.4 1.9 0.4 -1.4 0.4 0.1 0.4 1.3 0.4 -1.7 0.4 -0.4 0.4 1.2 0.4 -0.1 0.4 0.7 0.4 -0.6 0.4 -0.9 0.4 1 0.3 -0.2 0.4 0.8 0.4 -0.5 0.4 -0.7 0.4 0.1 0.4 0.4 0.4 -0.2 0.4 0.3 0.4 0 0.4 -0.8 0.4 0.8 0.4 0.3 0.4 -1.1 0.4 -0.1 0.4 1.2 0.4 -0.1 0.4 0.2 0.4 0.4 0.4 -1 0.4 -0.5 0.4 0.6 0.4 -0.4 0.4 0.5 0.4 0.2 0.4 -0.3 0.4 0.2 0.4 -0.3 0.4 0.1 0.4 -0.8 0.4 1.6 0.4 -1.3 0.4 0.1 0.3 -0.2 0.4 0.3 0.4 -0.2 0.4 -0.8 0.4 1.9 0.4 -0.6 0.4 -0.4 0.4 0.1 0.4 0.6 0.4 -0.2 0.4 -0.3 0.4 0.3 0.4 -1.9 0.4 1.9 0.4 -0.6 0.4 -0.3 0.4 -0.2 0.4 0.6 0.4 -1 0.4 1.1 0.4 -0.7 0.4 0.8 0.4 -1.4 0.4 1.2 0.4 -0.5 0.4 -0.4 0.4 1.3 0.4 -0.1 0.4 -1.2 0.4 0.3 0.4 1 0.3 -0.8 0.4 -0.4 0.4 -0.3 0.4 0.1 0.4 0.7 0.4 0.2 0.4 -0.8 0.4 -0.4 0.4 0.1 0.4 -0.6 0.4 1.2 0.4 -0.3 0.4 0.5 0.4 0.6 0.4 -0.5 0.4 -1.1 0.4 0 0.4 -0.6 0.4 -0.5 0.4 2.1 0.4 -0.9 0.4 -1.1 0.4 1.2 0.4 -1.7 0.4 1 0.4 0.1 0.4 -0.5 0.4 -0.1 0.4 0.7 0.4 -0.9 0.4 0.8 0.4 -1.7 0.3 0.7 0.4 1 0.4 -1.6 0.4 -0.2 0.4 0.5 0.4 -0.4 0.4 0.2 0.4 0.2 0.4 -0.4 0.4 -0.3 0.4 -0.6 0.4 0.2 0.4 0.2 0.4 -1.3 0.4 0.1 0.4 -0.7 0.4 0.4 0.4 -0.2 0.4 -0.6 0.4 -0.7 0.4 -0.1 0.4 0.5 0.4 -1.1 0.4 0.4 0.4 -1.2 0.4 -0.6 0.4 0.4 0.4 -1.4 0.4 0.4 0.4 -2.5 0.4 0.5 0.3 -1.2 0.4 -0.9 0.4 -0.8 0.4 -2.5 0.4 0.7 0.4 -3.3 0.4 -0.7 0.4 -3.6 0.4 -3.7 0.4 -5.2 0.4 -3.3 0.4 -6.9 0.4 -7.3 0.4 -10.4 0.4 -9.4 0.4 -7.5 0.4 -4.8 0.4 -0.4 0.4 4.2 0.4 5.8 0.4 7.6 0.4 8.5 0.4 4.9 0.4 4.9 0.4 4.1 0.4 0.1 0.4 0.6 0.4 -1.2 0.4 -2.8 0.4 -4 0.4 -6.3 0.4 -9.2 0.3 -11.6 0.4 -17.6 0.4 -24.8 0.4 -30.2 0.4 -39.9 0.4 -41 0.4 -28.4 0.4 1.2 0.4 28.5 0.4 41.2 0.4 40 0.4 33.6 0.4 23.9 0.4 18.4 0.4 15.3 0.4 9.2 0.4 8.1 0.4 5.9 0.4 4.8 0.4 3.4 0.4 4.1 0.4 2.4 0.4 1.6 0.4 2.2 0.4 2.6 0.4 0.6 0.4 1 0.4 0.6 0.4 0.9 0.4 1.4 0.4 0.9 0.4 0.2 0.3 1 0.4 -0.5 0.4 0.7 0.4 0.8 0.4 0.8 0.4 -0.5 0.4 1 0.4 -0.8 0.4 1.5 0.4 0.3 0.4 -0.7 0.4 0.6 0.4 0.4 0.4 -0.6 0.4 0.3 0.4 0.2 0.4 0.6 0.4 0.4 0.4 -0.9 0.4 0.2 0.4 0.9 0.4 -0.6 0.4 0.3 0.4 0.7 0.4 -0.4 0.4 0.7 0.4 -0.5 0.4 0 0.4 -0.3 0.4 -0.7 0.4 1 0.3 -0.7 0.4 1.5 0.4 0.1 0.4 -0.2 0.4 0.5 0.4 0.6 0.4 -2.1 0.4 0.9 0.4 0.6 0.4 -0.6 0.4 0.1 0.4 0.7 0.4 -0.2 0.4 -1 0.4 1.5 0.4 -1.2 0.4 0.6 0.4 0.3 0.4 -1.3 0.4 1.9 0.4 -0.5 0.4 -0.1 0.4 0.2 0.4 -0.5 0.4 0.5 0.4 0 0.4 -1.5 0.4 0.5 0.4 1.2 0.4 -1 0.4 0.8 0.4 -0.3 0.3 0.5 0.4 -1.4 0.4 1.1 0.4 -0.1 0.4 0.2 0.4 0 0.4 -0.1 0.4 0.2 0.4 0.1 0.4 -0.6 0.4 1.1 0.4 -0.7 0.4 -0.4 0.4 0.7 0.4 -1.1 0.4 1.4 0.4 -0.8 0.4 0.2 0.4 0 0.4 0.3 0.4 -0.6 0.4 0.1 0.4 0.4 0.4 -0.5 0.4 0.3 0.4 0 0.4 -0.1 0.4 -0.2 0.4 -0.1 0.4 0.3 0.4 -0.5 0.3 0.1 0.4 2.1 0.4 -1.5 0.4 0.5 0.4 -0.3 0.4 0.3 0.4 -0.4 0.4 0.5 0.4 -0.4 0.4 0 0.4 -0.8 0.4 1.2 0.4 -0.6 0.4 0.1 0.4 0.2 0.4 0 0.4 -0.2 0.4 0.7 0.4 -1.1 0.4 -0.6 0.4 0.9 0.4 -1 0.4 1.1 0.4 0.8 0.4 0.1 0.4 -1.4 0.4 0.8 0.4 -0.9 0.4 0.9 0.4 0.6 0.4 -1.1 0.4 1.2 0.3 -0.7 0.4 1.3 0.4 -1.8 0.4 -0.1 0.4 1.2 0.4 -0.2 0.4 -0.2 0.4 -0.7 0.4 0.5 0.4 -0.4 0.4 1.1 0.4 -0.4 0.4 -0.7 0.4 -0.1 0.4 -0.4 0.4 0.5 0.4 0.3 0.4 0.3 0.4 0.3 0.4 -0.8 0.4 0.9 0.4 -1.7 0.4 1 0.4 0.4 0.4 -0.6 0.4 0.4 0.4 0.3 0.4 -0.7 0.4 0.4 0.4 0.5 0.4 -1.3 0.3 1.3 0.4 -0.7 0.4 -0.7 0.4 1 0.4 0.2 0.4 -0.5 0.4 0.3 0.4 0.1 0.4 -0.2 0.4 0 0.4 0.4 0.4 0 0.4 -0.5 0.4 -1 0.4 0.3 0.4 0.5 0.4 0.9 0.4 -0.4 0.4 0.7 0.4 -0.7 0.4 0 0.4 -0.4 0.4 0.8 0.4 -1.4 0.4 1 0.4 -0.3 0.4 -0.2 0.4 0.8 0.4 -0.2 0.4 -0.1 0.4 -0.4 0.4 -0.6 0.3 0.1 0.4 -0.7 0.4 0.7 0.4 0.9 0.4 0.5 0.4 -1.3 0.4 1.3 0.4 0.3 0.4 -0.4 0.4 0.3 0.4 -0.9 0.4 -0.3 0.4 0.5 0.4 0.3 0.4 -0.2 0.4 -0.2 0.4 0.4 0.4 -1 0.4 1 0.4 -1.6 0.4 1.9 0.4 0 0.4 0.5 0.4 -1.8 0.4 0.2 0.4 -0.2 0.4 -0.3 0.4 -0.4 0.4 1.7 0.4 -0.6 0.4 0.1 0.3 -0.9 0.4 1 0.4 1.1 0.4 -1.1 0.4 0.4 0.4 -1.1 0.4 1.2 0.4 -0.6 0.4 0.1 0.4 0.2 0.4 -0.4 0.4 0.5 0.4 -0.4 0.4 -0.2 0.4 -0.3 0.4 -0.1 0.4 1.1 0.4 0.2 0.4 -0.7 0.4 0 0.4 -0.2 0.4 0.4 0.4 0.6 0.4 -0.6 0.4 -0.4 0.4 0.9 0.4 -0.2 0.4 -1.4 0.4 0.7 0.4 1 0.4 -0.5 0.4 -0.2 0.3 0.2 0.4 -0.9 0.4 0 0.4 0.6 0.4 0.2 0.4 0.8 0.4 -1 0.4 0.3 0.4 0.7 0.4 -1.2 0.4 0.2 0.4 0.1 0.4 0.2 0.4 -0.1 0.4 0.3 0.4 -1.1 0.4 0 0.4 0.7 0.4 -0.9 0.4 1.8 0.4 -1.3 0.4 0.1 0.4 0.6 0.4 -0.1 0.4 0.1 0.4 -0.3 0.4 -0.7 0.4 0.6 0.4 -0.3 0.4 -0.5 0.4 0.7 0.3 0.7 0.4 -1 0.4 0.1 0.4 0 0.4 0.8 0.4 -1.6 0.4 1.4 0.4 -0.2 0.4 -0.1 0.4 -0.4 0.4 0.3 0.4 1.2 0.4 -0.9 0.4 -0.4 0.4 0.7 0.4 -1.1 0.4 1.3 0.4 -0.7 0.4 1.5 0.4 -0.2 0.4 -0.9 0.4 -0.1 0.4 -0.4 0.4 0.5 0.4 0.1 0.4 -1.2 0.4 -0.1 0.4 1.2 0.4 -0.6 0.4 0.4 0.4 -0.1 0.4 0.1 0.3 -0.3 0.4 0.5 0.4 0.5 0.4 0.1 0.4 -1.1 0.4 0.2 0.4 0 0.4 -0.9 0.4 0 0.4 0.8 0.4 0.3 0.4 0.2 0.4 -0.8 0.4 0.7 0.4 -0.4 0.4 -0.2 0.4 0.8 0.4 -1.5 0.4 -0.3 0.4 2.3 0.4 -1.1 0.4 0.5 0.4 -0.5 0.4 -0.3 0.4 -0.3 0.4 -0.3 0.4 1.1 0.4 -0.7 0.4 0.5 0.4 0.2 0.4 -0.2 0.4 0.1 0.3 0.8 0.4 -0.7 0.4 0 0.4 -0.2 0.4 0.8 0.4 0 0.4 -1.1 0.4 0.6 0.4 -0.3 0.4 -0.2 0.4 -0.2 0.4 1.5 0.4 -0.7 0.4 -1.5 0.4 1.7 0.4 0.4 0.4 -0.9 0.4 -0.1 0.4 0.2 0.4 0.4 0.4 -0.8 0.4 0.5 0.4 -1.1 0.4 1.5 0.4 -1.3 0.4 0.5 0.4 0.4 0.4 0.3 0.4 -0.9 0.4 0 0.4 1.2 0.3 -1.2 0.4 -0.1 0.4 0.2"/>
</g>
<g fill="none" stroke="#000" stroke-width="2.8" stroke-dasharray="2.8 4">
<path d="M1522.8 514.2l1 0 1 0 1 0 1 -0.1 1 0 1 0 1 0 1 0 1 0 1 -0.1 1.1 0 1 0 1 0 1 0 1 -0.1 1 0 1 0 1 0 1 0 1 -0.1 1 0 1 0 1 0 1 -0.1 1 0 1 0 1 -0.1 1 0 1 0 1.1 -0.1 1 0 1 0 1 -0.1 1 0 1 -0.1 1 0 1 0 1 -0.1 1 0 1 -0.1 1 0 1 -0.1 1 0 1 -0.1 1 -0.1 1 0 1 -0.1 1.1 -0.1 1 0 1 -0.1 1 -0.1 1 -0.1 1 -0.1 1 -0.1 1 0 1 -0.2 1 -0.1 1 -0.1 1 -0.1 1 -0.1 1 -0.1 1 -0.2 1 -0.1 1 -0.2 1 -0.2 1.1 -0.1 1 -0.2 1 -0.2 1 -0.2 1 -0.3 1 -0.2 1 -0.3 1 -0.2 1 -0.3 1 -0.3 1 -0.4 1 -0.4 1 -0.4 1 -0.4 1 -0.5 1 -0.5 1 -0.6 1 -0.6 1.1 -0.6 1 -0.8 1 -0.8 1 -0.9 1 -1 1 -1.1 1 -1.2 1 -1.4 1 -1.6 1 -1.7 1 -2 1 -2.3 1 -2.6 1 -3.1 1 -3.4 1 -4.1 1 -4.8 1 -5.6 1.1 -6.7 1 -7.9 1 -9.5 1 -11.5 1 -13.7 1 -16.4 1 -19.4 1 -22.4 1 -24.6 1 -25.3 1 -22.9 1 -16.3 1 -6 1 6 1 16.3 1 22.9 1 25.3 1 24.6 1.1 22.4 1 19.4 1 16.4 1 13.7 1 11.5 1 9.5 1 7.9 1 6.7 1 5.6 1 4.8 1 4.1 1 3.4 1 3.1 1 2.6 1 2.3 1 2 1 1.7 1 1.6 1 1.4 1.1 1.2 1 1.1 1 1 1 0.9 1 0.8 1 0.8 1 0.6 1 0.6 1 0.6 1 0.5 1 0.5 1 0.4 1 0.4 1 0.4 1 0.4 1 0.3 1 0.3 1 0.2 1.1 0.3 1 0.2 1 0.3 1 0.2 1 0.2 1 0.2 1 0.1 1 0.2 1 0.2 1 0.1 1 0.2 1 0.1 1 0.1 1 0.1 1 0.1 1 0.1 1 0.2 1 0 1.1 0.1 1 0.1 1 0.1 1 0.1 1 0.1 1 0 1 0.1 1 0.1 1 0 1 0.1 1 0.1 1 0 1 0.1 1 0 1 0.1 1 0 1 0.1 1 0 1.1 0 1 0.1 1 0 1 0.1 1 0 1 0 1 0.1 1 0 1 0 1 0.1 1 0 1 0 1 0.1 1 0 1 0 1 0 1 0.1 1 0 1.1 0 1 0 1 0 1 0.1 1 0 1 0 1 0 1 0 1 0.1 1 0 1 0 1 0 1 0 1 0 1 0.1 1 0 1 0 1 0"/>
<path d="M1549.9 514.2l1 0 1 -0.1 1.1 0 1 0 1 0 1 -0.1 1 0 1 0 1 -0.1 1 0 1 -0.1 1 0 1 -0.1 1 0 1 -0.1 1 0 1 -0.1 1 -0.1 1 0 1 -0.1 1.1 -0.1 1 -0.1 1 -0.1 1 -0.1 1 -0.1 1 -0.1 1 -0.1 1 -0.1 1 -0.2 1 -0.1 1 -0.2 1 -0.2 1 -0.2 1 -0.2 1 -0.3 1 -0.3 1 -0.3 1 -0.3 1.1 -0.4 1 -0.4 1 -0.5 1 -0.5 1 -0.6 1 -0.7 1 -0.8 1 -1 1 -1 1 -1.3 1 -1.4 1 -1.7 1 -2 1 -2.4 1 -2.8 1 -3.4 1 -4 1 -4.7 1.1 -5.5 1 -6.3 1 -6.7 1 -6.7 1 -5.9 1 -3.9 1 -1.3 1 1.8 1 4.5 1 6.1 1 6.8 1 6.6 1 6.1 1 5.4 1 4.6 1 3.8 1 3.3 1 2.7 1.1 2.3 1 2 1 1.6 1 1.4 1 1.2 1 1 1 0.9 1 0.8 1 0.7 1 0.6 1 0.5 1 0.5 1 0.4 1 0.4 1 0.3 1 0.3 1 0.3 1 0.2 1.1 0.2 1 0.2 1 0.2 1 0.2 1 0.2 1 0.1 1 0.1 1 0.2 1 0.1 1 0.1 1 0.1 1 0.1 1 0 1 0.1 1 0.1 1 0.1 1 0 1 0.1 1 0 1.1 0.1 1 0 1 0.1 1 0 1 0.1 1 0 1 0.1 1 0 1 0 1 0.1 1 0 1 0 1 0.1 1 0 1 0"/>
<path d="M1557 514.2l1 0 1 -0.1 1 0 1 0 1 -0.1 1 -0.1 1 0 1 -0.1 1 -0.1 1 0 1 -0.1 1 -0.1 1 -0.1 1.1 -0.1 1 -0.1 1 -0.2 1 -0.1 1 -0.2 1 -0.2 1 -0.2 1 -0.2 1 -0.2 1 -0.3 1 -0.2 1 -0.3 1 -0.4 1 -0.3 1 -0.4 1 -0.4 1 -0.4 1 -0.3 1.1 -0.4 1 -0.4 1 -0.2 1 -0.3 1 -0.1 1 -0.1 1 0.1 1 0.1 1 0.3 1 0.2 1 0.4 1 0.4 1 0.3 1 0.4 1 0.4 1 0.4 1 0.3 1 0.4 1.1 0.3 1 0.2 1 0.3 1 0.2 1 0.2 1 0.2 1 0.2 1 0.2 1 0.1 1 0.2 1 0.1 1 0.1 1 0.1 1 0.1 1 0.1 1 0 1 0.1 1 0.1 1.1 0 1 0.1 1 0.1 1 0 1 0 1 0.1 1 0"/>
<path d="M1509.7 514.2l1 0 1 0 1 -0.1 1 0 1 0 1.1 -0.1 1 0 1 -0.1 1 0 1 0 1 -0.1 1 0 1 -0.1 1 0 1 -0.1 1 -0.1 1 0 1 -0.1 1 0 1 -0.1 1 -0.1 1 0 1 -0.1 1.1 -0.1 1 -0.1 1 0 1 -0.1 1 -0.1 1 -0.1 1 -0.1 1 0 1 -0.1 1 -0.1 1 0 1 -0.1 1 -0.1 1 0 1 0 1 -0.1 1 0 1 0 1 0 1.1 0 1 0 1 0 1 0.1 1 0 1 0 1 0.1 1 0.1 1 0 1 0.1 1 0.1 1 0 1 0.1 1 0.1 1 0.1 1 0.1 1 0 1 0.1 1.1 0.1 1 0.1 1 0 1 0.1 1 0.1 1 0 1 0.1 1 0 1 0.1 1 0.1 1 0 1 0.1 1 0 1 0.1 1 0 1 0 1 0.1 1 0 1.1 0.1 1 0 1 0 1 0.1 1 0 1 0"/>
<path d="M1615.3 514.2l1 0 1 0 1 -0.1 1 -0.1 1 0 1 -0.1 1 0 1 -0.1 1 -0.1 1.1 -0.1 1 -0.1 1 -0.1 1 -0.1 1 -0.2 1 -0.1 1 -0.2 1 -0.2 1 -0.2 1 -0.2 1 -0.3 1 -0.3 1 -0.3 1 -0.4 1 -0.5 1 -0.4 1 -0.6 1 -0.5 1.1 -0.7 1 -0.6 1 -0.7 1 -0.6 1 -0.5 1 -0.5 1 -0.3 1 -0.1 1 0.1 1 0.3 1 0.5 1 0.5 1 0.6 1 0.7 1 0.6 1 0.7 1 0.5 1 0.6 1 0.4 1.1 0.5 1 0.4 1 0.3 1 0.3 1 0.3 1 0.2 1 0.2 1 0.2 1 0.2 1 0.1 1 0.2 1 0.1 1 0.1 1 0.1 1 0.1 1 0.1 1 0.1 1 0 1.1 0.1 1 0 1 0.1 1 0.1 1 0 1 0"/>
<path d="M1308.6 514.2l1 0 1 0 1 -0.1 1 0 1 0 1.1 0 1 0 1 -0.1 1 0 1 0 1 0 1 -0.1 1 0 1 0 1 0 1 -0.1 1 0 1 0 1 -0.1 1 0 1 0 1 -0.1 1 0 1.1 -0.1 1 0 1 0 1 -0.1 1 0 1 -0.1 1 0 1 -0.1 1 -0.1 1 0 1 -0.1 1 0 1 -0.1 1 -0.1 1 -0.1 1 0 1 -0.1 1 -0.1 1 -0.1 1.1 -0.1 1 -0.1 1 -0.1 1 -0.1 1 -0.2 1 -0.1 1 -0.1 1 -0.2 1 -0.1 1 -0.2 1 -0.2 1 -0.2 1 -0.1 1 -0.2 1 -0.3 1 -0.2 1 -0.2 1 -0.3 1.1 -0.3 1 -0.3 1 -0.3 1 -0.3 1 -0.4 1 -0.3 1 -0.4 1 -0.4 1 -0.4 1 -0.5 1 -0.4 1 -0.5 1 -0.5 1 -0.5 1 -0.5 1 -0.6 1 -0.5 1 -0.5 1.1 -0.5 1 -0.4 1 -0.5 1 -0.4 1 -0.3 1 -0.3 1 -0.2 1 -0.1 1 -0.1 1 0.1 1 0.1 1 0.1 1 0.3 1 0.3 1 0.4 1 0.4 1 0.4 1 0.5 1.1 0.5 1 0.5 1 0.6 1 0.5 1 0.5 1 0.5 1 0.5 1 0.4 1 0.5 1 0.4 1 0.4 1 0.4 1 0.4 1 0.4 1 0.3 1 0.3 1 0.3 1 0.3 1.1 0.3 1 0.2 1 0.2 1 0.3 1 0.2 1 0.2 1 0.2 1 0.1 1 0.2 1 0.2 1 0.1 1 0.1 1 0.2 1 0.1 1 0.1 1 0.1 1 0.1 1 0.1 1.1 0.1 1 0.1 1 0.1 1 0.1 1 0.1 1 0.1 1 0 1 0.1 1 0.1 1 0 1 0.1 1 0 1 0.1 1 0 1 0.1 1 0 1 0.1 1 0 1 0.1 1.1 0 1 0 1 0.1 1 0 1 0.1 1 0 1 0 1 0.1 1 0 1 0 1 0 1 0.1 1 0 1 0 1 0 1 0.1 1 0 1 0 1.1 0 1 0 1 0.1 1 0 1 0 1 0"/>
<path d="M1768.1 514.2l1 0 1 -0.1 1 0 1.1 0 1 -0.1 1 0 1 -0.1 1 -0.1 1 0 1 -0.1 1 0 1 -0.1 1 -0.1 1 0 1 -0.1 1 -0.1 1 0 1 -0.1 1 -0.1 1 0 1 -0.1 1.1 0 1 0 1 -0.1 1 0 1 0 1 0 1 0 1 0.1 1 0 1 0 1 0.1 1 0 1 0.1 1 0.1 1 0 1 0.1 1 0.1 1 0 1.1 0.1 1 0.1 1 0 1 0.1 1 0 1 0.1 1 0.1 1 0 1 0.1 1 0 1 0 1 0.1 1 0"/>
</g>
<path fill="none" stroke="#000" stroke-width="3.4" stroke-linejoin="round" d="M1141.7 516.1l1 0 1 0.6 1 -1.1 1 -1.5 1 1.6 1 0.5 1 -3.4 1 1 1.1 1 1 3 1 -3.5 1 0.7 1 -0.1 1 0.6 1 0.5 1 -3 1 -3.3 1 6.6 1 -5.2 1 4.3 1 0.2 1 0.5 1 -3.1 1 2.5 1 0.6 1 0 1.1 1 1 -4 1 0.8 1 0.5 1 0.4 1 1.9 1 -0.3 1 -1.4 1 3 1 -2 1 -3.2 1 4.4 1 -4.7 1 0.1 1 1.5 1 -0.1 1 0.6 1 0.2 1.1 -1.4 1 0.1 1 2.5 1 -0.7 1 -0.9 1 -1.1 1 1.5 1 -1.8 1 -0.6 1 4.2 1 -0.6 1 -1.8 1 3.5 1 -3.1 1 1.4 1 -0.3 1 -0.7 1 0 1.1 2.6 1 -1.1 1 -5 1 4.4 1 -5.1 1 2.1 1 2.7 1 -2.7 1 4.2 1 -2.9 1 1.7 1 -0.5 1 0.9 1 0.9 1 -5 1 2.5 1 0.5 1 1.5 1.1 -0.9 1 -1.5 1 -2 1 -0.4 1 1.2 1 2 1 0 1 2.3 1 -2.1 1 0.9 1 -3.9 1 2.9 1 -1.3 1 -0.2 1 3.3 1 -2.3 1 -0.1 1 0.1 1.1 -2.4 1 -0.5 1 6.4 1 -3.4 1 -0.1 1 0.4 1 -1.2 1 0.3 1 -1.1 1 2.2 1 -0.9 1 2.1 1 1 1 -4.8 1 3.2 1 -2 1 4.7 1 -3.6 1 1.4 1.1 -2.6 1 3.1 1 -3.6 1 -0.9 1 -2.2 1 4.3 1 -0.6 1 1 1 -2 1 1.6 1 0 1 -1.9 1 5.4 1 0.5 1 -3.5 1 0.5 1 0.2 1 0.1 1.1 -2.7 1 1.9 1 2.8 1 -3.6 1 -0.2 1 -1.2 1 0.9 1 -3.2 1 3.9 1 2 1 -1.3 1 -0.3 1 -0.2 1 -0.1 1 -2 1 -1.5 1 6.8 1 -2.5 1.1 -4.9 1 6.9 1 -3.7 1 2.5 1 -2 1 -1 1 2.7 1 -2.1 1 -3.9 1 5.5 1 -1.2 1 0 1 -0.5 1 1.3 1 2 1 -0.9 1 -1.3 1 -0.4 1.1 -1.6 1 4.6 1 -6.8 1 1.7 1 1.5 1 0.5 1 0.2 1 -1.2 1 4.1 1 -1.2 1 -5.7 1 1.6 1 -0.7 1 5 1 -3.4 1 -2.1 1 2.3 1 -1.9 1.1 2.4 1 1.1 1 -3.4 1 2.5 1 0.1 1 -1.9 1 2.1 1 -2.1 1 2.3 1 -1.5 1 -0.6 1 3.3 1 -0.8 1 -2.5 1 -5.2 1 6.1 1 -1.5 1 1.6 1 -0.9 1.1 -0.6 1 -0.2 1 3 1 0.1 1 -0.5 1 -4.6 1 1.3 1 0.8 1 -4 1 5.3 1 -4.1 1 3.6 1 -3.1 1 1.6 1 -4.2 1 -1.7 1 3 1 -1.4 1.1 -0.2 1 1.2 1 1.1 1 0.6 1 -3.5 1 -1.4 1 2.1 1 -2.2 1 -0.7 1 0.9 1 2.4 1 -2 1 -4.9 1 7 1 -6.6 1 2.2 1 -2.3 1 2.8 1.1 -1.5 1 0.9 1 -2.2 1 -1 1 2.1 1 -6 1 0.9 1 -0.4 1 2.3 1 -0.6 1 -0.5 1 3 1 -0.1 1 -1.5 1 -1.4 1 7 1 -2.9 1 -1.2 1.1 1.9 1 0.9 1 -1.3 1 3.1 1 -0.7 1 -0.6 1 3.5 1 -2.4 1 3.6 1 -1.7 1 -0.3 1 3 1 -2.4 1 2 1 1.8 1 -2.8 1 -0.2 1 2.8 1.1 0.7 1 -5.6 1 5.2 1 1.4 1 -2.9 1 3 1 -2.2 1 -0.4 1 0.7 1 2.1 1 -1.9 1 -0.2 1 1.2 1 1.6 1 -5.1 1 5.8 1 0.7 1 -4.4 1.1 1.8 1 1.1 1 -0.6 1 3.3 1 -3.1 1 -1.2 1 0.4 1 1.4 1 -2 1 0.4 1 0.2 1 4.1 1 -1.9 1 -3.3 1 3.1 1 -5.7 1 4.9 1 1.2 1 -0.5 1.1 0.4 1 -0.6 1 -1.5 1 0.8 1 0 1 -2.2 1 2.8 1 -1.9 1 3 1 3 1 -0.2 1 0.9 1 -5.5 1 -0.1 1 2 1 -2.8 1 2.8 1 -2.2 1.1 1.7 1 -1.3 1 3.6 1 -0.8 1 -0.6 1 -3.8 1 4.5 1 -2.9 1 -1.8 1 3.1 1 1.3 1 -4.7 1 4.2 1 -1.9 1 0.1 1 1.2 1 -1.5 1 -0.6 1.1 3.2 1 -6.6 1 6.4 1 -4.2 1 4.5 1 -4.4 1 4.7 1 -5.7 1 6.4 1 -3.1 1 -0.6 1 -0.3 1 2.5 1 -2.3 1 1.4 1 -0.9 1 -2.3 1 5.1 1.1 -3.5 1 0.8 1 -0.1 1 -0.5 1 3 1 -2.5 1 -1.3 1 0.6 1 -0.8 1 -1.5 1 4 1 -3.9 1 3.9 1 -2.2 1 1.3 1 -1.7 1 -0.6 1 4.7 1.1 -5.1 1 -1.1 1 2.4 1 1.6 1 -5 1 1.2 1 2.5 1 0 1 -0.8 1 -1.9 1 1 1 -1.8 1 2 1 -0.9 1 0.3 1 -1 1 1.6 1 -1.3 1 -1.5 1.1 3.8 1 -2.2 1 -1 1 0.1 1 3 1 -2.7 1 0.3 1 -2.1 1 0.8 1 -0.5 1 -0.6 1 -0.4 1 1.1 1 -1.8 1 3.3 1 0.2 1 -3.2 1 2.2 1.1 -2.3 1 1.7 1 -0.1 1 -4.1 1 -1.7 1 5 1 -0.4 1 -1.3 1 -1.4 1 -0.7 1 -3.9 1 6.6 1 -7.2 1 3.7 1 -1.5 1 0.2 1 -3.6 1 -0.2 1.1 1.4 1 -3.8 1 1.3 1 -3.5 1 1.7 1 -0.4 1 -1.8 1 -0.2 1 -4.1 1 -0.2 1 -1.1 1 1.5 1 -5.6 1 -1.4 1 -0.8 1 -5.3 1 -3 1 -8.5 1.1 -2.2 1 -8.5 1 -6.4 1 -7 1 -11.4 1 0.5 1 -5 1 3.3 1 0.5 1 5.3 1 1.7 1 5.2 1 7.4 1 -1 1 3.1 1 -0.7 1 -3.5 1 -1.2 1.1 -4.3 1 -4.7 1 -9.7 1 -10.5 1 -9 1 -15.4 1 -21.1 1 -23.6 1 -21.6 1 -26.6 1 -19.1 1 -18.7 1 -7 1 6.6 1 15.1 1 24.3 1 22.9 1 27 1.1 23.1 1 18.4 1 13.4 1 15.7 1 9.6 1 7.4 1 10.2 1 8.4 1 4.7 1 4.2 1 4 1 5.2 1 4.7 1 2.8 1 4.8 1 2.1 1 2.7 1 -0.1 1 3.3 1.1 1 1 2.2 1 1.2 1 5.1 1 -5.2 1 3.7 1 -0.6 1 2.4 1 0.6 1 2.9 1 -2.3 1 -0.3 1 2.3 1 0.4 1 -3.8 1 7.6 1 -4.6 1 4.7 1.1 -0.1 1 0.5 1 -1.7 1 -1.5 1 0.4 1 3.7 1 -2.7 1 1.7 1 -1.1 1 -0.2 1 2.9 1 -3.1 1 1.4 1 0 1 0.9 1 -0.3 1 -1.5 1 1.2 1.1 0.3 1 4.2 1 -2 1 -1.4 1 0.5 1 -0.7 1 3.5 1 -3.1 1 -1.3 1 8.8 1 -8.4 1 0.5 1 -0.7 1 2.6 1 -1.9 1 -0.1 1 3.2 1 0.8 1.1 -1.9 1 -2.4 1 2.8 1 -1.9 1 1.7 1 0 1 -2.5 1 3.6 1 -1.5 1 0 1 -1.8 1 3.6 1 -2.9 1 1.5 1 -2 1 -0.3 1 0 1 -0.7 1.1 2.2 1 3.1 1 -0.5 1 -3.4 1 0.2 1 4.1 1 -1.3 1 -1.3 1 -0.7 1 0 1 -3.5 1 3.1 1 4.8 1 -0.9 1 -3.3 1 1.9 1 -0.3 1 -2.1 1 -0.6 1.1 0.6 1 1.3 1 2.1 1 -1.9 1 -0.5 1 -0.4 1 2.6 1 0.7 1 -2.5 1 -0.8 1 0.9 1 0.5 1 1 1 -0.4 1 -3.1 1 1.2 1 -0.6 1 1.9 1.1 -3.2 1 -1.2 1 3.2 1 -1 1 0 1 0.6 1 -1.5 1 1.7 1 -2.2 1 -0.1 1 2.9 1 -1.5 1 2.4 1 -1.5 1 -1.8 1 0.2 1 -0.8 1 1.7 1.1 0.9 1 -1 1 0.4 1 -2.1 1 3.9 1 -1.2 1 0.8 1 -3.7 1 1.7 1 -0.9 1 4.1 1 -3 1 4.3 1 -3.1 1 -1.7 1 3.2 1 1 1 -3.3 1.1 -0.6 1 1 1 -1.9 1 0.3 1 -1.9 1 2.8 1 -1.2 1 2.6 1 0.3 1 1.3 1 -1.3 1 -0.8 1 2.7 1 -3.4 1 -2.4 1 1.3 1 1.7 1 1.7 1.1 0.8 1 -3.4 1 3.6 1 -1.2 1 0.5 1 -2.8 1 1.3 1 -3.2 1 3.9 1 -0.8 1 1.9 1 0.7 1 -3.5 1 3.2 1 0.3 1 -2.3 1 3.7 1 -4.6 1.1 -1.1 1 2.5 1 3 1 -2 1 -4 1 2.2 1 3 1 -3.4 1 1 1 -1.5 1 5.2 1 -0.4 1 -5.2 1 -0.9 1 4.2 1 -0.3 1 -0.7 1 0.2 1 -0.7 1.1 2.2 1 -0.1 1 0.7 1 -0.7 1 -2.5 1 0.3 1 0.2 1 0.7 1 -1.4 1 -0.2 1 1 1 -0.3 1 0.5 1 3 1 -0.5 1 -3.1 1 1 1 -0.7 1.1 -0.9 1 2.4 1 -4.4 1 3.8 1 -1 1 -1.6 1 3 1 0.8 1 -1.2 1 0.3 1 -2.3 1 2.3 1 1.8"/>
<path fill="none" stroke="#d42020" stroke-width="5.2" stroke-linejoin="round" d="M1141.7 514.8l2 0 2 0 2 0 2 0 2.1 0 2 0 2 0 2 0 2 0 2 0 2 0 2 0 2 0 2.1 0 2 0 2 0 2 0 2 0 2 0 2 0 2 0 2 0 2.1 0 2 0 2 -0.1 2 0 2 0 2 0 2 0 2 0 2 0 2.1 0 2 0 2 0 2 0 2 0 2 0 2 0 2 0 2 0 2.1 0 2 0 2 0 2 -0.1 2 0 2 0 2 0 2 0 2 0 2.1 0 2 0 2 0 2 0 2 0 2 0 2 -0.1 2 0 2 0 2.1 0 2 0 2 0 2 0 2 0 2 0 2 -0.1 2 0 2 0 2.1 0 2 0 2 0 2 -0.1 2 0 2 0 2 0 2 -0.1 2 0 2.1 0 2 0 2 -0.1 2 0 2 0 2 -0.1 2 0 2 0 2 -0.1 2.1 0 2 -0.1 2 0 2 -0.1 2 0 2 -0.1 2 0 2 -0.1 2 -0.1 2.1 -0.1 2 -0.1 2 -0.1 2 -0.1 2 -0.1 2 -0.1 2 -0.2 2 -0.1 2 -0.2 2 -0.2 2.1 -0.2 2 -0.2 2 -0.3 2 -0.3 2 -0.3 2 -0.3 2 -0.4 2 -0.5 2 -0.5 2.1 -0.6 2 -0.6 2 -0.7 2 -0.8 2 -0.9 2 -0.9 2 -1.1 2 -1 2 -1 2.1 -1 2 -0.8 2 -0.6 2 -0.4 2 0 2 0.3 2 0.5 2 0.8 2 0.9 2.1 1 2 1 2 1 2 1 2 0.9 2 0.8 2 0.7 2 0.6 2 0.6 2.1 0.5 2 0.4 2 0.4 2 0.4 2 0.3 2 0.3 2 0.2 2 0.2 2 0.2 2.1 0.2 2 0.2 2 0.1 2 0.1 2 0.1 2 0.1 2 0.1 2 0.1 2 0.1 2.1 0 2 0.1 2 0 2 0 2 0.1 2 0 2 0 2 0 2 0.1 2.1 0 2 0 2 0 2 0 2 -0.1 2 0 2 0 2 0 2 -0.1 2.1 0 2 0 2 -0.1 2 0 2 -0.1 2 -0.1 2 0 2 -0.1 2 -0.1 2.1 -0.1 2 -0.1 2 -0.2 2 -0.1 2 -0.2 2 -0.1 2 -0.2 2 -0.2 2 -0.2 2.1 -0.2 2 -0.2 2 -0.3 2 -0.2 2 -0.3 2 -0.2 2 -0.3 2 -0.2 2 -0.2 2 -0.2 2.1 -0.2 2 -0.1 2 -0.1 2 -0.2 2 -0.1 2 -0.2 2 -0.2 2 -0.3 2 -0.3 2.1 -0.4 2 -0.5 2 -0.6 2 -0.7 2 -0.9 2 -1.1 2 -1.3 2 -1.4 2 -1.7 2.1 -1.9 2 -1.9 2 -1.9 2 -2 2 -2.4 2 -3.1 2 -4.4 2 -6.5 2 -9.2 2.1 -12.6 2 -14.7 2 -11.6 2 -1.7 2 7.5 2 9.3 2 5.9 2 0.9 2 -4.4 2.1 -10.4 2 -18.1 2 -28.1 2 -40.3 2 -49.1 2 -38.7 2 0.1 2 39 2 49.5 2.1 40.9 2 29.3 2 20.3 2 14.5 2 11 2 8.8 2 7.1 2 5.7 2 4.6 2.1 3.6 2 3 2 2.4 2 1.9 2 1.7 2 1.3 2 1.2 2 0.9 2 0.9 2.1 0.7 2 0.6 2 0.6 2 0.4 2 0.5 2 0.4 2 0.3 2 0.3 2 0.3 2.1 0.2 2 0.3 2 0.2 2 0.1 2 0.2 2 0.2 2 0.1 2 0.1 2 0.2 2.1 0.1 2 0.1 2 0.1 2 0.1 2 0 2 0.1 2 0.1 2 0 2 0.1 2.1 0.1 2 0 2 0 2 0.1 2 0 2 0 2 0.1 2 0 2 0 2 0 2.1 0 2 0 2 0 2 0 2 0 2 -0.1 2 0 2 -0.1 2 0 2.1 -0.1 2 -0.1 2 -0.1 2 -0.1 2 -0.1 2 -0.1 2 -0.1 2 -0.1 2 -0.1 2.1 0 2 -0.1 2 0 2 0.1 2 0.1 2 0.1 2 0.1 2 0.2 2 0.1 2.1 0.2 2 0.1 2 0.2 2 0.1 2 0.1 2 0.1 2 0.1 2 0 2 0.1 2.1 0.1 2 0 2 0.1 2 0 2 0.1 2 0 2 0 2 0.1 2 0 2.1 0 2 0 2 0.1 2 0 2 0 2 0 2 0 2 0.1 2 0 2.1 0 2 0 2 0 2 0 2 0 2 0.1 2 0 2 0 2 0 2.1 0 2 0 2 0 2 0 2 0 2 0 2 0"/>
<path fill="none" stroke="#2a0505" stroke-width="5.2" stroke-dasharray="3.5 3.5" d="M1141.7 514.8l2 0 2 0 2 0 2 0 2.1 0 2 0 2 0 2 0 2 0 2 0 2 0 2 0 2 0 2.1 0 2 0 2 0 2 0 2 0 2 0 2 0 2 0 2 0 2.1 0 2 0 2 -0.1 2 0 2 0 2 0 2 0 2 0 2 0 2.1 0 2 0 2 0 2 0 2 0 2 0 2 0 2 0 2 0 2.1 0 2 0 2 0 2 -0.1 2 0 2 0 2 0 2 0 2 0 2.1 0 2 0 2 0 2 0 2 0 2 0 2 -0.1 2 0 2 0 2.1 0 2 0 2 0 2 0 2 0 2 0 2 -0.1 2 0 2 0 2.1 0 2 0 2 0 2 -0.1 2 0 2 0 2 0 2 -0.1 2 0 2.1 0 2 0 2 -0.1 2 0 2 0 2 -0.1 2 0 2 0 2 -0.1 2.1 0 2 -0.1 2 0 2 -0.1 2 0 2 -0.1 2 0 2 -0.1 2 -0.1 2.1 -0.1 2 -0.1 2 -0.1 2 -0.1 2 -0.1 2 -0.1 2 -0.2 2 -0.1 2 -0.2 2 -0.2 2.1 -0.2 2 -0.2 2 -0.3 2 -0.3 2 -0.3 2 -0.3 2 -0.4 2 -0.5 2 -0.5 2.1 -0.6 2 -0.6 2 -0.7 2 -0.8 2 -0.9 2 -0.9 2 -1.1 2 -1 2 -1 2.1 -1 2 -0.8 2 -0.6 2 -0.4 2 0 2 0.3 2 0.5 2 0.8 2 0.9 2.1 1 2 1 2 1 2 1 2 0.9 2 0.8 2 0.7 2 0.6 2 0.6 2.1 0.5 2 0.4 2 0.4 2 0.4 2 0.3 2 0.3 2 0.2 2 0.2 2 0.2 2.1 0.2 2 0.2 2 0.1 2 0.1 2 0.1 2 0.1 2 0.1 2 0.1 2 0.1 2.1 0 2 0.1 2 0 2 0 2 0.1 2 0 2 0 2 0 2 0.1 2.1 0 2 0 2 0 2 0 2 -0.1 2 0 2 0 2 0 2 -0.1 2.1 0 2 0 2 -0.1 2 0 2 -0.1 2 -0.1 2 0 2 -0.1 2 -0.1 2.1 -0.1 2 -0.1 2 -0.2 2 -0.1 2 -0.2 2 -0.1 2 -0.2 2 -0.2 2 -0.2 2.1 -0.2 2 -0.2 2 -0.3 2 -0.2 2 -0.3 2 -0.2 2 -0.3 2 -0.2 2 -0.2 2 -0.2 2.1 -0.2 2 -0.1 2 -0.1 2 -0.2 2 -0.1 2 -0.2 2 -0.2 2 -0.3 2 -0.3 2.1 -0.4 2 -0.5 2 -0.6 2 -0.7 2 -0.9 2 -1.1 2 -1.3 2 -1.4 2 -1.7 2.1 -1.9 2 -1.9 2 -1.9 2 -2 2 -2.4 2 -3.1 2 -4.4 2 -6.5 2 -9.2 2.1 -12.6 2 -14.7 2 -11.6 2 -1.7 2 7.5 2 9.3 2 5.9 2 0.9 2 -4.4 2.1 -10.4 2 -18.1 2 -28.1 2 -40.3 2 -49.1 2 -38.7 2 0.1 2 39 2 49.5 2.1 40.9 2 29.3 2 20.3 2 14.5 2 11 2 8.8 2 7.1 2 5.7 2 4.6 2.1 3.6 2 3 2 2.4 2 1.9 2 1.7 2 1.3 2 1.2 2 0.9 2 0.9 2.1 0.7 2 0.6 2 0.6 2 0.4 2 0.5 2 0.4 2 0.3 2 0.3 2 0.3 2.1 0.2 2 0.3 2 0.2 2 0.1 2 0.2 2 0.2 2 0.1 2 0.1 2 0.2 2.1 0.1 2 0.1 2 0.1 2 0.1 2 0 2 0.1 2 0.1 2 0 2 0.1 2.1 0.1 2 0 2 0 2 0.1 2 0 2 0 2 0.1 2 0 2 0 2 0 2.1 0 2 0 2 0 2 0 2 0 2 -0.1 2 0 2 -0.1 2 0 2.1 -0.1 2 -0.1 2 -0.1 2 -0.1 2 -0.1 2 -0.1 2 -0.1 2 -0.1 2 -0.1 2.1 0 2 -0.1 2 0 2 0.1 2 0.1 2 0.1 2 0.1 2 0.2 2 0.1 2.1 0.2 2 0.1 2 0.2 2 0.1 2 0.1 2 0.1 2 0.1 2 0 2 0.1 2.1 0.1 2 0 2 0.1 2 0 2 0.1 2 0 2 0 2 0.1 2 0 2.1 0 2 0 2 0.1 2 0 2 0 2 0 2 0 2 0.1 2 0 2.1 0 2 0 2 0 2 0 2 0 2 0.1 2 0 2 0 2 0 2.1 0 2 0 2 0 2 0 2 0 2 0 2 0"/>
<g fill="none" stroke="#000" stroke-width="2.8" stroke-dasharray="2.8 4">
<path d="M1507.7 905.2l1 0 1 0 1 0 1 0 1 -0.1 1 0 1 0 1.1 0 1 0 1 0 1 0 1 -0.1 1 0 1 0 1 0 1 0 1 -0.1 1 0 1 0 1 0 1 0 1 -0.1 1 0 1 0 1 0 1.1 0 1 -0.1 1 0 1 0 1 0 1 -0.1 1 0 1 0 1 -0.1 1 0 1 0 1 -0.1 1 0 1 0 1 -0.1 1 0 1 0 1 -0.1 1 0 1.1 -0.1 1 0 1 0 1 -0.1 1 0 1 -0.1 1 0 1 -0.1 1 -0.1 1 0 1 -0.1 1 0 1 -0.1 1 -0.1 1 -0.1 1 0 1 -0.1 1 -0.1 1.1 -0.1 1 -0.1 1 -0.1 1 -0.1 1 -0.1 1 -0.1 1 -0.1 1 -0.1 1 -0.1 1 -0.2 1 -0.1 1 -0.1 1 -0.2 1 -0.2 1 -0.1 1 -0.2 1 -0.2 1 -0.2 1.1 -0.2 1 -0.2 1 -0.3 1 -0.2 1 -0.3 1 -0.3 1 -0.3 1 -0.4 1 -0.3 1 -0.4 1 -0.4 1 -0.5 1 -0.5 1 -0.5 1 -0.5 1 -0.6 1 -0.7 1 -0.7 1.1 -0.8 1 -0.9 1 -0.9 1 -1.1 1 -1.1 1 -1.3 1 -1.4 1 -1.6 1 -1.8 1 -2 1 -2.2 1 -2.5 1 -2.9 1 -3.3 1 -3.8 1 -4.3 1 -5 1 -5.8 1.1 -6.8 1 -8 1 -9.4 1 -11 1 -13 1 -15.2 1 -17.6 1 -19.9 1 -22 1 -22.9 1 -22.1 1 -18.5 1 -11.8 1 -2.9 1 6.7 1 14.8 1 20.3 1 22.7 1.1 22.7 1 21.2 1 19.1 1 16.6 1 14.2 1 12.2 1 10.3 1 8.8 1 7.5 1 6.4 1 5.5 1 4.7 1 4.1 1 3.6 1 3.1 1 2.7 1 2.4 1 2.2 1 1.8 1.1 1.7 1 1.6 1 1.3 1 1.2 1 1.1 1 1.1 1 0.9 1 0.8 1 0.8 1 0.7 1 0.6 1 0.6 1 0.5 1 0.5 1 0.5 1 0.4 1 0.4 1 0.4 1.1 0.4 1 0.3 1 0.3 1 0.3 1 0.3 1 0.2 1 0.2 1 0.3 1 0.2 1 0.2 1 0.2 1 0.1 1 0.2 1 0.2 1 0.1 1 0.2 1 0.1 1 0.1 1.1 0.1 1 0.2 1 0.1 1 0.1 1 0.1 1 0.1 1 0.1 1 0.1 1 0 1 0.1 1 0.1 1 0.1 1 0 1 0.1 1 0.1 1 0 1 0.1 1 0.1 1.1 0 1 0.1 1 0 1 0.1 1 0 1 0.1 1 0 1 0.1 1 0 1 0 1 0.1 1 0 1 0.1 1 0 1 0 1 0.1 1 0 1 0 1.1 0.1 1 0 1 0 1 0 1 0.1 1 0 1 0 1 0 1 0.1 1 0 1 0 1 0 1 0.1 1 0 1 0 1 0 1 0 1 0.1 1 0 1.1 0 1 0 1 0 1 0 1 0.1 1 0 1 0 1 0 1 0 1 0 1 0 1 0.1 1 0 1 0 1 0 1 0"/>
<path d="M1570 905.2l1.1 0 1 -0.1 1 0 1 0 1 -0.1 1 -0.1 1 0 1 -0.1 1 -0.1 1 0 1 -0.1 1 -0.1 1 -0.1 1 -0.1 1 -0.2 1 -0.1 1 -0.2 1 -0.2 1.1 -0.2 1 -0.2 1 -0.3 1 -0.3 1 -0.3 1 -0.5 1 -0.4 1 -0.6 1 -0.7 1 -0.8 1 -1 1 -1.2 1 -1.5 1 -1.9 1 -2.5 1 -3.1 1 -4 1 -5.2 1.1 -6.7 1 -8.2 1 -9.3 1 -8.7 1 -5.3 1 0.7 1 6.1 1 9.1 1 9.2 1 7.9 1 6.4 1 4.9 1 3.8 1 3 1 2.3 1 1.8 1 1.4 1 1.2 1.1 1 1 0.8 1 0.6 1 0.6 1 0.4 1 0.4 1 0.4 1 0.3 1 0.2 1 0.3 1 0.2 1 0.2 1 0.1 1 0.2 1 0.1 1 0.1 1 0.1 1 0.1 1.1 0.1 1 0.1 1 0 1 0.1 1 0.1 1 0 1 0.1 1 0 1 0.1 1 0 1 0"/>
<path d="M1557 905.2l1 0 1 -0.1 1 0 1 -0.1 1 0 1 -0.1 1 0 1 -0.1 1 -0.1 1 -0.1 1 0 1 -0.1 1 -0.1 1.1 -0.2 1 -0.1 1 -0.1 1 -0.2 1 -0.1 1 -0.2 1 -0.2 1 -0.2 1 -0.3 1 -0.2 1 -0.3 1 -0.3 1 -0.3 1 -0.4 1 -0.4 1 -0.4 1 -0.4 1 -0.4 1.1 -0.3 1 -0.4 1 -0.3 1 -0.2 1 -0.1 1 -0.1 1 0.1 1 0.1 1 0.2 1 0.3 1 0.4 1 0.3 1 0.4 1 0.4 1 0.4 1 0.4 1 0.4 1 0.3 1.1 0.3 1 0.3 1 0.2 1 0.3 1 0.2 1 0.2 1 0.2 1 0.1 1 0.2 1 0.1 1 0.1 1 0.2 1 0.1 1 0.1 1 0 1 0.1 1 0.1 1 0.1 1.1 0 1 0.1 1 0 1 0.1 1 0 1 0.1 1 0"/>
<path d="M1508.7 905.2l1 0 1 0 1 -0.1 1 0 1 0 1 -0.1 1.1 0 1 0 1 -0.1 1 0 1 -0.1 1 0 1 -0.1 1 0 1 -0.1 1 0 1 -0.1 1 0 1 -0.1 1 -0.1 1 0 1 -0.1 1 -0.1 1 -0.1 1.1 0 1 -0.1 1 -0.1 1 -0.1 1 0 1 -0.1 1 -0.1 1 -0.1 1 -0.1 1 0 1 -0.1 1 -0.1 1 0 1 -0.1 1 0 1 0 1 -0.1 1 0 1 0 1.1 0 1 0 1 0.1 1 0 1 0 1 0.1 1 0 1 0.1 1 0.1 1 0 1 0.1 1 0.1 1 0.1 1 0.1 1 0 1 0.1 1 0.1 1 0.1 1.1 0 1 0.1 1 0.1 1 0.1 1 0 1 0.1 1 0.1 1 0 1 0.1 1 0 1 0.1 1 0 1 0.1 1 0 1 0.1 1 0 1 0.1 1 0 1.1 0 1 0.1 1 0 1 0 1 0.1 1 0 1 0"/>
<path d="M1615.3 905.2l1 0 1 -0.1 1 0 1 -0.1 1 0 1 -0.1 1 -0.1 1 0 1 -0.1 1.1 -0.1 1 -0.1 1 -0.1 1 -0.2 1 -0.1 1 -0.2 1 -0.1 1 -0.2 1 -0.2 1 -0.3 1 -0.3 1 -0.3 1 -0.3 1 -0.4 1 -0.4 1 -0.5 1 -0.6 1 -0.6 1.1 -0.6 1 -0.6 1 -0.7 1 -0.6 1 -0.6 1 -0.5 1 -0.3 1 -0.1 1 0.1 1 0.3 1 0.5 1 0.6 1 0.6 1 0.7 1 0.6 1 0.6 1 0.6 1 0.6 1 0.5 1.1 0.4 1 0.4 1 0.3 1 0.3 1 0.3 1 0.3 1 0.2 1 0.2 1 0.1 1 0.2 1 0.1 1 0.2 1 0.1 1 0.1 1 0.1 1 0.1 1 0 1 0.1 1.1 0.1 1 0 1 0.1 1 0 1 0.1 1 0"/>
<path d="M1360.9 905.2l1 0 1 0 1 -0.1 1 0 1 -0.1 1 0 1 -0.1 1 0 1.1 -0.1 1 0 1 -0.1 1 -0.1 1 0 1 -0.1 1 -0.1 1 -0.1 1 0 1 -0.1 1 -0.1 1 -0.1 1 -0.1 1 -0.1 1 -0.1 1 -0.1 1 -0.1 1 -0.1 1.1 -0.1 1 -0.1 1 -0.1 1 -0.1 1 0 1 -0.1 1 0 1 -0.1 1 0 1 0 1 0.1 1 0 1 0.1 1 0 1 0.1 1 0.1 1 0.1 1 0.1 1.1 0.1 1 0.1 1 0.1 1 0.1 1 0.1 1 0.1 1 0.1 1 0.1 1 0.1 1 0 1 0.1 1 0.1 1 0.1 1 0 1 0.1 1 0.1 1 0 1 0.1 1.1 0 1 0.1 1 0 1 0.1 1 0 1 0.1 1 0 1 0"/>
<path d="M1774.2 905.2l1 0 1 -0.1 1 0 1 -0.1 1 0 1 -0.1 1 0 1 -0.1 1 0 1 -0.1 1 0 1 -0.1 1 0 1 0 1 -0.1 1.1 0 1 0 1 -0.1 1 0 1 0 1 0 1 0 1 0.1 1 0 1 0 1 0.1 1 0 1 0 1 0.1 1 0 1 0.1 1 0 1 0.1 1.1 0 1 0.1 1 0 1 0.1 1 0 1 0.1 1 0"/>
</g>
<path fill="none" stroke="#000" stroke-width="3.4" stroke-linejoin="round" d="M1141.7 905.1l1 2.2 1 -2.7 1 1.8 1 -1 1 0.6 1 -0.2 1 0 1 0.7 1.1 -0.9 1 0.3 1 0.7 1 -0.9 1 -1.3 1 1 1 0 1 -0.2 1 1 1 -0.3 1 -0.6 1 0.1 1 -0.6 1 0.6 1 1.7 1 -2.5 1 2.5 1 -1.3 1.1 -0.1 1 -0.3 1 -0.5 1 1.3 1 -0.6 1 -0.3 1 0.4 1 1.1 1 -1.3 1 0.2 1 1 1 -1.6 1 1.3 1 1 1 -1.6 1 -1.1 1 1.7 1 -0.8 1.1 1.1 1 -0.6 1 -0.1 1 -0.8 1 1.4 1 -0.5 1 0 1 0 1 0 1 -0.2 1 -0.1 1 -1.1 1 0.7 1 0.2 1 1 1 -0.1 1 -1.4 1 0.4 1.1 -0.1 1 0.6 1 0 1 0.2 1 -0.8 1 0.2 1 1.6 1 -2.2 1 1.8 1 -0.4 1 0.1 1 -0.6 1 -0.1 1 0.6 1 -0.7 1 0.1 1 -0.1 1 0.4 1.1 -0.3 1 -0.2 1 0.6 1 -0.2 1 -1 1 0.8 1 1 1 -0.7 1 0.8 1 -2.2 1 1.4 1 -1.6 1 1.7 1 -0.8 1 0.3 1 0.4 1 -0.9 1 0.1 1.1 0.2 1 0.8 1 0.4 1 -1.4 1 -0.1 1 0.6 1 -0.8 1 -0.2 1 1.3 1 -0.7 1 1.4 1 -1.7 1 1.7 1 -0.2 1 -1 1 0.3 1 -2 1 2 1 -0.1 1.1 -0.6 1 1.5 1 -2.6 1 2.1 1 -0.4 1 0.1 1 -1.2 1 1.5 1 -0.8 1 0.4 1 0.6 1 -1.2 1 -1.4 1 2.2 1 -0.1 1 -0.3 1 -0.3 1 -0.2 1.1 0.7 1 0.3 1 -0.7 1 1.2 1 -1 1 0.6 1 -0.6 1 0.2 1 0.6 1 -0.2 1 0.4 1 -0.1 1 -0.7 1 0.5 1 -0.2 1 0 1 0.2 1 -0.5 1.1 0.1 1 0.2 1 -1 1 1.2 1 0.1 1 -2 1 1.9 1 -1 1 -0.1 1 1 1 -1.1 1 0.8 1 -0.6 1 -0.4 1 2 1 -1.7 1 -0.3 1 0.5 1.1 1.5 1 -2.3 1 1.8 1 -1.2 1 0.6 1 -0.2 1 0.7 1 -1.2 1 1.8 1 -1.6 1 -0.6 1 1 1 0.4 1 -0.1 1 0.2 1 -0.8 1 1.1 1 -0.4 1.1 -1.2 1 0.4 1 -0.3 1 0.3 1 0.4 1 -0.5 1 0.2 1 0.6 1 0 1 0.4 1 -3.1 1 1.7 1 -0.1 1 0.1 1 -0.2 1 -0.1 1 1.1 1 0.4 1 -1.6 1.1 1.2 1 -2 1 1.8 1 0.7 1 -0.5 1 -1.2 1 -0.1 1 0.4 1 1 1 -0.6 1 -0.2 1 0.2 1 -1.1 1 -0.8 1 1 1 0 1 0.5 1 -0.2 1.1 2.1 1 -2.6 1 -0.1 1 1.3 1 -1 1 1.2 1 -0.1 1 -0.8 1 -0.2 1 -1.6 1 1.8 1 -0.8 1 0.2 1 0.1 1 -0.7 1 -0.8 1 0.2 1 -0.5 1.1 1.3 1 -0.8 1 0 1 -0.5 1 0.2 1 -0.8 1 0.9 1 -0.9 1 0.9 1 -0.3 1 0.5 1 0.4 1 -0.3 1 -0.2 1 0.6 1 -0.9 1 0.4 1 0.4 1.1 -1.1 1 0.6 1 2 1 -1.2 1 0.1 1 0.3 1 -0.4 1 -0.1 1 0.2 1 1 1 0.5 1 -1.4 1 0.3 1 0.5 1 -1.1 1 0.9 1 0.8 1 0.1 1.1 0.9 1 -1.8 1 0.2 1 0.7 1 -0.4 1 0.6 1 -0.7 1 -1.2 1 0.7 1 -0.6 1 1.3 1 0.8 1 -0.5 1 -0.7 1 -1 1 1.3 1 -0.4 1 0 1.1 0.5 1 1.6 1 -1.9 1 -0.2 1 -0.5 1 1.6 1 -1.3 1 -0.6 1 1 1 0.5 1 -1.1 1 0.8 1 -1.1 1 2 1 -1.6 1 0.7 1 -0.6 1 0.3 1 0.6 1.1 -0.7 1 0.4 1 0.9 1 0.9 1 -1.2 1 -0.5 1 0.1 1 -1 1 0.1 1 -0.1 1 1.1 1 -0.4 1 -0.2 1 1.9 1 -1.7 1 0.6 1 -0.3 1 -0.3 1.1 0.3 1 -1.4 1 1.1 1 0.7 1 0.4 1 -1.3 1 1.1 1 -0.4 1 -0.9 1 -0.8 1 1.2 1 -0.6 1 1.2 1 -0.6 1 -1.3 1 0.7 1 0.5 1 0.7 1.1 -2.7 1 2 1 -1.2 1 0.7 1 -0.5 1 1.2 1 -0.4 1 0.9 1 -0.4 1 -1.4 1 -1.1 1 1.4 1 -0.3 1 0.4 1 -0.6 1 0 1 0.9 1 -0.4 1.1 -0.7 1 0.7 1 -1 1 0.6 1 0.6 1 -1.1 1 -0.7 1 1 1 -0.5 1 1.4 1 -1.4 1 -0.4 1 -0.5 1 -0.9 1 0.9 1 0.5 1 -0.8 1 0.9 1.1 0.2 1 -0.3 1 -1 1 -0.3 1 1.1 1 -1.2 1 -0.1 1 -0.1 1 1.2 1 -2.4 1 2 1 -0.3 1 0.4 1 -0.9 1 1.1 1 -1.1 1 -1.3 1 -0.4 1 0.9 1.1 0.2 1 -0.2 1 0.4 1 0.1 1 -2.6 1 1.6 1 0 1 0.3 1 -1 1 1.3 1 -0.8 1 0.8 1 -1.5 1 0.3 1 -0.9 1 0.1 1 0.3 1 -0.3 1.1 0.4 1 -0.1 1 -0.5 1 -0.2 1 -1 1 0.1 1 -0.1 1 -0.7 1 0.6 1 -0.5 1 -1.5 1 -0.2 1 -0.3 1 -0.5 1 0.3 1 -1.8 1 -1 1 -0.1 1.1 -0.6 1 -0.4 1 -2.3 1 -0.3 1 -0.4 1 -0.8 1 -1.9 1 0.6 1 -0.1 1 -1.4 1 -1.6 1 -1.9 1 -1.6 1 -1.3 1 -3.1 1 -3.4 1 -4.9 1 -4.2 1.1 -6.8 1 -9.5 1 -9.5 1 -9.9 1 -5.2 1 -1.6 1 4.9 1 6.8 1 8.3 1 5.9 1 4.1 1 3.9 1 0.5 1 -0.2 1 -1.9 1 -3.3 1 -2.9 1 -4 1.1 -7.2 1 -6.7 1 -8.7 1 -9.8 1 -13.3 1 -14.4 1 -17.4 1 -20.5 1 -21.5 1 -23.9 1 -21.6 1 -17.8 1 -12.1 1 -3.2 1 6.2 1 15 1 19.8 1 21.8 1.1 21 1 23.9 1 18 1 13.9 1 15.4 1 10.6 1 11.1 1 7.3 1 8.2 1 6.5 1 6.8 1 5.5 1 4.2 1 2.6 1 5.4 1 2.6 1 4.9 1 1.3 1 1.2 1.1 3.6 1 1.1 1 3 1 0.3 1 2.6 1 -0.1 1 3.1 1 0.2 1 1.5 1 0.2 1 2.3 1 -0.8 1 1.3 1 0.1 1 1.5 1 -1.4 1 0.4 1 2 1.1 -0.5 1 0.2 1 1.4 1 0 1 -1.4 1 2.1 1 -0.2 1 0 1 1.5 1 0.1 1 0.8 1 -1.1 1 -0.1 1 2.6 1 -1 1 0.1 1 -1 1 0.5 1.1 1 1 -2.5 1 1.3 1 1.2 1 -1.4 1 1.9 1 -0.5 1 -1 1 1.3 1 0.1 1 0.1 1 0.5 1 -1.4 1 0.8 1 0.8 1 -0.1 1 0 1 1.9 1.1 -2.2 1 0 1 0.9 1 -0.5 1 0.8 1 -0.7 1 1.4 1 -1.6 1 0.3 1 0.8 1 -0.5 1 0.7 1 -0.1 1 0.1 1 -1.4 1 1.5 1 -0.5 1 0.2 1.1 -0.8 1 1 1 0.3 1 -0.3 1 0.1 1 -0.2 1 -0.2 1 0.5 1 -0.5 1 0.1 1 0.4 1 0.4 1 0.6 1 -0.4 1 -0.8 1 -0.6 1 0.8 1 -0.9 1 0 1.1 -0.6 1 2.2 1 0 1 -1.6 1 0.9 1 0.1 1 0.9 1 -0.1 1 -1.6 1 0.8 1 -1.3 1 1 1 0.1 1 -0.3 1 -0.6 1 0.6 1 1.7 1 -2 1.1 0.5 1 0.6 1 -0.1 1 -0.9 1 1.3 1 -0.1 1 -0.9 1 0.1 1 -0.3 1 0.4 1 -0.2 1 0.5 1 -2 1 1.8 1 -0.8 1 1.1 1 -0.2 1 -1 1.1 0.1 1 -0.4 1 -0.4 1 0.6 1 0.7 1 -0.7 1 -0.7 1 0.9 1 -0.7 1 0.8 1 0.5 1 0.2 1 0.2 1 -1.3 1 -1.2 1 1.9 1 -0.1 1 0.7 1.1 0 1 -0.6 1 0.3 1 0.6 1 -1 1 -1 1 1.8 1 -0.1 1 -0.4 1 1.3 1 -1 1 -0.4 1 0.7 1 1.1 1 -1.9 1 1.4 1 -1.5 1 1.4 1.1 -0.8 1 0.1 1 0.8 1 1.3 1 -3 1 1.1 1 -0.4 1 1.4 1 -0.7 1 -0.7 1 1.2 1 -0.1 1 -0.5 1 0.7 1 -0.4 1 0.5 1 -1.4 1 1.2 1.1 0.2 1 -1.2 1 3 1 -1.3 1 -0.9 1 -0.6 1 0.3 1 0.1 1 0.4 1 -1.3 1 0.2 1 1.7 1 -1.9 1 2.4 1 -1.5 1 -0.9 1 0.4 1 1.8 1 -1 1.1 -0.9 1 1.6 1 -0.5 1 -0.8 1 -0.3 1 -0.3 1 1.1 1 0.3 1 0.7 1 0.1 1 -0.4 1 -1.7 1 0.6 1 0.8 1 -0.6 1 0.3 1 -0.4 1 0.3 1.1 0.7 1 -0.3 1 -1.4 1 0.7 1 -0.5 1 -0.3 1 1.8 1 -0.7 1 1.8 1 -1.3 1 -0.1 1 -0.7 1 -0.1"/>
<path fill="none" stroke="#d42020" stroke-width="5.2" stroke-linejoin="round" d="M1141.7 905.9l2 0 2 0 2 0 2 0 2.1 0 2 0 2 0 2 0 2 0 2 0 2 0 2 0 2 0 2.1 0 2 0 2 0 2 0 2 0 2 0 2 0 2 0 2 0 2.1 0 2 0 2 0 2 0 2 0 2 0 2 0 2 0 2 0 2.1 0 2 0 2 -0.1 2 0 2 0 2 0 2 0 2 0 2 0 2.1 0 2 0 2 0 2 0 2 0 2 0 2 0 2 0 2 0 2.1 0 2 0 2 0 2 0 2 0 2 0 2 0 2 0 2 0 2.1 0 2 0 2 0 2 0 2 0 2 0 2 0 2 0 2 0 2.1 -0.1 2 0 2 0 2 0 2 0 2 0 2 0 2 0 2 0 2.1 0 2 0 2 0 2 0 2 0 2 0 2 -0.1 2 0 2 0 2.1 0 2 0 2 0 2 0 2 0 2 -0.1 2 0 2 0 2 0 2.1 0 2 0 2 -0.1 2 0 2 0 2 0 2 -0.1 2 0 2 0 2 -0.1 2.1 0 2 -0.1 2 0 2 -0.1 2 -0.1 2 0 2 -0.1 2 -0.1 2 -0.1 2.1 -0.1 2 -0.2 2 -0.1 2 -0.2 2 -0.2 2 -0.2 2 -0.2 2 -0.2 2 -0.2 2.1 -0.2 2 -0.1 2 -0.2 2 0 2 0 2 0 2 0.1 2 0.2 2 0.1 2.1 0.2 2 0.2 2 0.2 2 0.2 2 0.2 2 0.1 2 0.1 2 0.2 2 0.1 2.1 0.1 2 0 2 0.1 2 0.1 2 0 2 0.1 2 0 2 0 2 0.1 2.1 0 2 0 2 0 2 0 2 0 2 0 2 0 2 0 2 0 2.1 0 2 0 2 0 2 0 2 0 2 -0.1 2 0 2 0 2 0 2.1 -0.1 2 0 2 0 2 -0.1 2 0 2 0 2 -0.1 2 0 2 -0.1 2.1 0 2 -0.1 2 -0.1 2 0 2 -0.1 2 -0.1 2 -0.1 2 -0.1 2 -0.1 2.1 -0.1 2 -0.1 2 -0.2 2 -0.1 2 -0.2 2 -0.1 2 -0.2 2 -0.2 2 -0.2 2.1 -0.3 2 -0.2 2 -0.3 2 -0.2 2 -0.3 2 -0.2 2 -0.3 2 -0.2 2 -0.2 2 -0.2 2.1 -0.1 2 -0.2 2 -0.1 2 -0.1 2 -0.1 2 -0.2 2 -0.1 2 -0.3 2 -0.2 2.1 -0.4 2 -0.4 2 -0.6 2 -0.6 2 -0.8 2 -1 2 -1.1 2 -1.4 2 -1.4 2.1 -1.6 2 -1.5 2 -1.5 2 -1.5 2 -1.7 2 -2.4 2 -3.6 2 -5.9 2 -9.9 2.1 -16 2 -19.6 2 -6.6 2 12.5 2 13.6 2 6.7 2 0.7 2 -3.9 2 -8.3 2.1 -13.1 2 -19.3 2 -27.5 2 -37.1 2 -44.8 2 -40.7 2 -15.1 2 20.9 2 42 2.1 42.9 2 34.5 2 25.6 2 18.9 2 14.4 2 11.3 2 9 2 7.2 2 5.8 2.1 4.6 2 3.6 2 3 2 2.4 2 2 2 1.7 2 1.4 2 1.2 2 1 2.1 0.9 2 0.8 2 0.7 2 0.6 2 0.5 2 0.4 2 0.5 2 0.3 2 0.4 2.1 0.3 2 0.2 2 0.3 2 0.2 2 0.2 2 0.2 2 0.2 2 0.1 2 0.2 2.1 0.1 2 0.1 2 0.1 2 0.1 2 0.1 2 0.1 2 0.1 2 0.1 2 0.1 2.1 0 2 0.1 2 0 2 0.1 2 0 2 0.1 2 0 2 0.1 2 0 2 0 2.1 0 2 0 2 0 2 0 2 0 2 0 2 0 2 0 2 -0.1 2.1 0 2 -0.1 2 0 2 -0.1 2 -0.1 2 0 2 -0.1 2 -0.1 2 -0.1 2.1 0 2 0 2 0 2 0.1 2 0 2 0.1 2 0.1 2 0.2 2 0.1 2.1 0.1 2 0.1 2 0.1 2 0.1 2 0.1 2 0 2 0.1 2 0.1 2 0 2.1 0.1 2 0 2 0.1 2 0 2 0 2 0.1 2 0 2 0 2 0.1 2.1 0 2 0 2 0 2 0 2 0.1 2 0 2 0 2 0 2 0 2.1 0 2 0 2 0 2 0.1 2 0 2 0 2 0 2 0 2 0 2.1 0 2 0 2 0 2 0 2 0 2 0.1 2 0"/>
<path fill="none" stroke="#2a0505" stroke-width="5.2" stroke-dasharray="3.5 3.5" d="M1141.7 905.9l2 0 2 0 2 0 2 0 2.1 0 2 0 2 0 2 0 2 0 2 0 2 0 2 0 2 0 2.1 0 2 0 2 0 2 0 2 0 2 0 2 0 2 0 2 0 2.1 0 2 0 2 0 2 0 2 0 2 0 2 0 2 0 2 0 2.1 0 2 0 2 -0.1 2 0 2 0 2 0 2 0 2 0 2 0 2.1 0 2 0 2 0 2 0 2 0 2 0 2 0 2 0 2 0 2.1 0 2 0 2 0 2 0 2 0 2 0 2 0 2 0 2 0 2.1 0 2 0 2 0 2 0 2 0 2 0 2 0 2 0 2 0 2.1 -0.1 2 0 2 0 2 0 2 0 2 0 2 0 2 0 2 0 2.1 0 2 0 2 0 2 0 2 0 2 0 2 -0.1 2 0 2 0 2.1 0 2 0 2 0 2 0 2 0 2 -0.1 2 0 2 0 2 0 2.1 0 2 0 2 -0.1 2 0 2 0 2 0 2 -0.1 2 0 2 0 2 -0.1 2.1 0 2 -0.1 2 0 2 -0.1 2 -0.1 2 0 2 -0.1 2 -0.1 2 -0.1 2.1 -0.1 2 -0.2 2 -0.1 2 -0.2 2 -0.2 2 -0.2 2 -0.2 2 -0.2 2 -0.2 2.1 -0.2 2 -0.1 2 -0.2 2 0 2 0 2 0 2 0.1 2 0.2 2 0.1 2.1 0.2 2 0.2 2 0.2 2 0.2 2 0.2 2 0.1 2 0.1 2 0.2 2 0.1 2.1 0.1 2 0 2 0.1 2 0.1 2 0 2 0.1 2 0 2 0 2 0.1 2.1 0 2 0 2 0 2 0 2 0 2 0 2 0 2 0 2 0 2.1 0 2 0 2 0 2 0 2 0 2 -0.1 2 0 2 0 2 0 2.1 -0.1 2 0 2 0 2 -0.1 2 0 2 0 2 -0.1 2 0 2 -0.1 2.1 0 2 -0.1 2 -0.1 2 0 2 -0.1 2 -0.1 2 -0.1 2 -0.1 2 -0.1 2.1 -0.1 2 -0.1 2 -0.2 2 -0.1 2 -0.2 2 -0.1 2 -0.2 2 -0.2 2 -0.2 2.1 -0.3 2 -0.2 2 -0.3 2 -0.2 2 -0.3 2 -0.2 2 -0.3 2 -0.2 2 -0.2 2 -0.2 2.1 -0.1 2 -0.2 2 -0.1 2 -0.1 2 -0.1 2 -0.2 2 -0.1 2 -0.3 2 -0.2 2.1 -0.4 2 -0.4 2 -0.6 2 -0.6 2 -0.8 2 -1 2 -1.1 2 -1.4 2 -1.4 2.1 -1.6 2 -1.5 2 -1.5 2 -1.5 2 -1.7 2 -2.4 2 -3.6 2 -5.9 2 -9.9 2.1 -16 2 -19.6 2 -6.6 2 12.5 2 13.6 2 6.7 2 0.7 2 -3.9 2 -8.3 2.1 -13.1 2 -19.3 2 -27.5 2 -37.1 2 -44.8 2 -40.7 2 -15.1 2 20.9 2 42 2.1 42.9 2 34.5 2 25.6 2 18.9 2 14.4 2 11.3 2 9 2 7.2 2 5.8 2.1 4.6 2 3.6 2 3 2 2.4 2 2 2 1.7 2 1.4 2 1.2 2 1 2.1 0.9 2 0.8 2 0.7 2 0.6 2 0.5 2 0.4 2 0.5 2 0.3 2 0.4 2.1 0.3 2 0.2 2 0.3 2 0.2 2 0.2 2 0.2 2 0.2 2 0.1 2 0.2 2.1 0.1 2 0.1 2 0.1 2 0.1 2 0.1 2 0.1 2 0.1 2 0.1 2 0.1 2.1 0 2 0.1 2 0 2 0.1 2 0 2 0.1 2 0 2 0.1 2 0 2 0 2.1 0 2 0 2 0 2 0 2 0 2 0 2 0 2 0 2 -0.1 2.1 0 2 -0.1 2 0 2 -0.1 2 -0.1 2 0 2 -0.1 2 -0.1 2 -0.1 2.1 0 2 0 2 0 2 0.1 2 0 2 0.1 2 0.1 2 0.2 2 0.1 2.1 0.1 2 0.1 2 0.1 2 0.1 2 0.1 2 0 2 0.1 2 0.1 2 0 2.1 0.1 2 0 2 0.1 2 0 2 0 2 0.1 2 0 2 0 2 0.1 2.1 0 2 0 2 0 2 0 2 0.1 2 0 2 0 2 0 2 0 2.1 0 2 0 2 0 2 0.1 2 0 2 0 2 0 2 0 2 0 2.1 0 2 0 2 0 2 0 2 0 2 0.1 2 0"/>
<g fill="none" stroke="#000" stroke-width="2.8" stroke-dasharray="2.8 4">
<path d="M1477.5 1259.2l1 0 1.1 0 1 0 1 0 1 0 1 -0.1 1 0 1 0 1 0 1 0 1 0 1 0 1 0 1 -0.1 1 0 1 0 1 0 1 0 1 0 1.1 0 1 -0.1 1 0 1 0 1 0 1 0 1 0 1 -0.1 1 0 1 0 1 0 1 0 1 0 1 -0.1 1 0 1 0 1 0 1 0 1.1 -0.1 1 0 1 0 1 0 1 -0.1 1 0 1 0 1 0 1 -0.1 1 0 1 0 1 -0.1 1 0 1 0 1 -0.1 1 0 1 0 1 -0.1 1.1 0 1 0 1 -0.1 1 0 1 0 1 -0.1 1 0 1 -0.1 1 0 1 -0.1 1 0 1 -0.1 1 0 1 -0.1 1 0 1 -0.1 1 -0.1 1 0 1 -0.1 1.1 0 1 -0.1 1 -0.1 1 -0.1 1 0 1 -0.1 1 -0.1 1 -0.1 1 -0.1 1 -0.1 1 -0.1 1 -0.1 1 -0.1 1 -0.1 1 -0.1 1 -0.1 1 -0.1 1 -0.2 1.1 -0.1 1 -0.1 1 -0.2 1 -0.2 1 -0.1 1 -0.2 1 -0.2 1 -0.2 1 -0.2 1 -0.2 1 -0.2 1 -0.2 1 -0.3 1 -0.2 1 -0.3 1 -0.3 1 -0.3 1 -0.3 1.1 -0.4 1 -0.3 1 -0.4 1 -0.4 1 -0.5 1 -0.4 1 -0.5 1 -0.6 1 -0.6 1 -0.6 1 -0.7 1 -0.7 1 -0.8 1 -0.8 1 -0.9 1 -1 1 -1.1 1 -1.2 1.1 -1.2 1 -1.5 1 -1.5 1 -1.7 1 -1.9 1 -2.1 1 -2.3 1 -2.5 1 -2.9 1 -3.2 1 -3.6 1 -4 1 -4.6 1 -5.1 1 -5.9 1 -6.6 1 -7.5 1 -8.6 1.1 -9.8 1 -11 1 -12.3 1 -13.8 1 -15 1 -16.1 1 -16.6 1 -16.3 1 -14.8 1 -12 1 -7.9 1 -2.8 1 2.8 1 7.9 1 12 1 14.8 1 16.3 1 16.6 1.1 16.1 1 15 1 13.8 1 12.3 1 11 1 9.8 1 8.6 1 7.5 1 6.6 1 5.9 1 5.1 1 4.6 1 4 1 3.6 1 3.2 1 2.9 1 2.5 1 2.3 1 2.1 1.1 1.9 1 1.7 1 1.5 1 1.5 1 1.2 1 1.2 1 1.1 1 1 1 0.9 1 0.8 1 0.8 1 0.7 1 0.7 1 0.6 1 0.6 1 0.6 1 0.5 1 0.4 1.1 0.5 1 0.4 1 0.4 1 0.3 1 0.4 1 0.3 1 0.3 1 0.3 1 0.3 1 0.2 1 0.3 1 0.2 1 0.2 1 0.2 1 0.2 1 0.2 1 0.2 1 0.2 1.1 0.1 1 0.2 1 0.2 1 0.1 1 0.1 1 0.2 1 0.1 1 0.1 1 0.1 1 0.1 1 0.1 1 0.1 1 0.1 1 0.1 1 0.1 1 0.1 1 0.1 1 0.1 1.1 0 1 0.1 1 0.1 1 0.1 1 0 1 0.1 1 0 1 0.1 1 0.1 1 0 1 0.1 1 0 1 0.1 1 0 1 0.1 1 0 1 0.1 1 0 1.1 0.1 1 0 1 0 1 0.1 1 0 1 0 1 0.1 1 0 1 0 1 0.1 1 0 1 0 1 0.1 1 0 1 0 1 0.1 1 0 1 0 1 0 1.1 0.1 1 0 1 0 1 0 1 0.1 1 0 1 0 1 0 1 0 1 0.1 1 0 1 0 1 0 1 0 1 0 1 0.1 1 0 1 0 1.1 0 1 0 1 0 1 0.1 1 0 1 0 1 0 1 0 1 0 1 0 1 0.1 1 0 1 0 1 0 1 0 1 0 1 0 1 0 1.1 0.1 1 0 1 0 1 0 1 0 1 0"/>
<path d="M1445.4 1259.2l1 0 1 0 1 0 1 0 1 0 1 -0.1 1 0 1 0 1 0 1 0 1 0 1 0 1 0 1 -0.1 1 0 1.1 0 1 0 1 0 1 0 1 0 1 -0.1 1 0 1 0 1 0 1 0 1 0 1 0 1 -0.1 1 0 1 0 1 0 1 0 1 -0.1 1.1 0 1 0 1 0 1 0 1 -0.1 1 0 1 0 1 0 1 0 1 -0.1 1 0 1 0 1 0 1 -0.1 1 0 1 0 1 -0.1 1 0 1.1 0 1 0 1 -0.1 1 0 1 0 1 -0.1 1 0 1 0 1 -0.1 1 0 1 -0.1 1 0 1 0 1 -0.1 1 0 1 -0.1 1 0 1 -0.1 1.1 0 1 -0.1 1 0 1 -0.1 1 0 1 -0.1 1 -0.1 1 0 1 -0.1 1 -0.1 1 0 1 -0.1 1 -0.1 1 0 1 -0.1 1 -0.1 1 -0.1 1 -0.1 1.1 -0.1 1 -0.1 1 -0.1 1 -0.1 1 -0.1 1 -0.1 1 -0.1 1 -0.1 1 -0.2 1 -0.1 1 -0.1 1 -0.2 1 -0.1 1 -0.2 1 -0.2 1 -0.1 1 -0.2 1 -0.2 1 -0.2 1.1 -0.2 1 -0.2 1 -0.3 1 -0.2 1 -0.3 1 -0.2 1 -0.3 1 -0.3 1 -0.3 1 -0.4 1 -0.3 1 -0.4 1 -0.4 1 -0.4 1 -0.4 1 -0.5 1 -0.5 1 -0.5 1.1 -0.6 1 -0.6 1 -0.7 1 -0.6 1 -0.8 1 -0.8 1 -0.8 1 -0.9 1 -1 1 -1 1 -1.1 1 -1.2 1 -1.3 1 -1.4 1 -1.4 1 -1.6 1 -1.7 1 -1.9 1.1 -1.9 1 -2.1 1 -2.3 1 -2.4 1 -2.5 1 -2.7 1 -2.8 1 -3 1 -3.1 1 -3.1 1 -3.1 1 -3.2 1 -3 1 -2.9 1 -2.7 1 -2.3 1 -1.9 1 -1.5 1.1 -0.9 1 -0.3 1 0.3 1 0.8 1 1.4 1 1.9 1 2.3 1 2.6 1 2.9 1 3 1 3.1 1 3.2 1 3.1 1 3.1 1 3 1 2.8 1 2.7 1 2.6 1.1 2.4 1 2.2 1 2.2 1 1.9 1 1.9 1 1.7 1 1.6 1 1.5 1 1.4 1 1.3 1 1.2 1 1.1 1 1 1 1 1 0.9 1 0.9 1 0.7 1 0.8 1.1 0.7 1 0.6 1 0.6 1 0.6 1 0.5 1 0.5 1 0.5 1 0.5 1 0.4 1 0.4 1 0.3 1 0.4 1 0.3 1 0.3 1 0.3 1 0.3 1 0.3 1 0.3 1 0.2 1.1 0.2 1 0.3 1 0.2 1 0.2 1 0.2 1 0.1 1 0.2 1 0.2 1 0.1 1 0.2 1 0.1 1 0.2 1 0.1 1 0.1 1 0.2 1 0.1 1 0.1 1 0.1 1.1 0.1 1 0.1 1 0.1 1 0.1 1 0.1 1 0.1 1 0.1 1 0 1 0.1 1 0.1 1 0.1 1 0 1 0.1 1 0.1 1 0 1 0.1 1 0.1 1 0 1.1 0.1 1 0 1 0.1 1 0 1 0.1 1 0 1 0.1 1 0 1 0.1 1 0 1 0 1 0.1 1 0 1 0.1 1 0 1 0 1 0.1 1 0 1.1 0 1 0.1 1 0 1 0 1 0 1 0.1 1 0 1 0 1 0.1 1 0 1 0 1 0 1 0.1 1 0 1 0 1 0 1 0 1 0.1 1.1 0 1 0 1 0 1 0 1 0.1 1 0 1 0 1 0 1 0 1 0.1 1 0 1 0 1 0 1 0 1 0 1 0 1 0.1 1 0 1 0 1.1 0 1 0 1 0 1 0 1 0.1 1 0 1 0 1 0 1 0 1 0 1 0 1 0 1 0 1 0.1 1 0 1 0 1 0 1 0"/>
<path d="M1620.3 1259.2l1 0 1 0 1 -0.1 1 -0.1 1.1 0 1 -0.1 1 -0.1 1 0 1 -0.1 1 -0.1 1 -0.1 1 -0.2 1 -0.1 1 -0.1 1 -0.2 1 -0.2 1 -0.2 1 -0.2 1 -0.2 1 -0.2 1 -0.3 1 -0.2 1.1 -0.3 1 -0.3 1 -0.2 1 -0.2 1 -0.2 1 -0.2 1 -0.1 1 0 1 0 1 0.1 1 0.2 1 0.2 1 0.2 1 0.2 1 0.3 1 0.3 1 0.2 1 0.3 1 0.2 1.1 0.2 1 0.2 1 0.2 1 0.2 1 0.2 1 0.1 1 0.1 1 0.2 1 0.1 1 0.1 1 0.1 1 0 1 0.1 1 0.1 1 0 1 0.1 1 0.1 1 0 1.1 0"/>
<path d="M1237.2 1259.2l1 0 1 0 1 0 1.1 0 1 0 1 -0.1 1 0 1 0 1 0 1 0 1 0 1 0 1 0 1 -0.1 1 0 1 0 1 0 1 0 1 0 1 0 1 -0.1 1 0 1.1 0 1 0 1 0 1 0 1 -0.1 1 0 1 0 1 0 1 0 1 -0.1 1 0 1 0 1 0 1 0 1 -0.1 1 0 1 0 1 0 1.1 -0.1 1 0 1 0 1 0 1 -0.1 1 0 1 0 1 0 1 -0.1 1 0 1 0 1 -0.1 1 0 1 0 1 -0.1 1 0 1 -0.1 1 0 1.1 0 1 -0.1 1 0 1 -0.1 1 0 1 0 1 -0.1 1 0 1 -0.1 1 -0.1 1 0 1 -0.1 1 0 1 -0.1 1 0 1 -0.1 1 -0.1 1 0 1.1 -0.1 1 -0.1 1 -0.1 1 0 1 -0.1 1 -0.1 1 -0.1 1 -0.1 1 -0.1 1 -0.1 1 -0.1 1 -0.1 1 -0.1 1 -0.1 1 -0.1 1 -0.2 1 -0.1 1 -0.1 1.1 -0.2 1 -0.1 1 -0.2 1 -0.1 1 -0.2 1 -0.2 1 -0.2 1 -0.2 1 -0.2 1 -0.2 1 -0.2 1 -0.2 1 -0.3 1 -0.2 1 -0.3 1 -0.3 1 -0.3 1 -0.3 1 -0.3 1.1 -0.4 1 -0.3 1 -0.4 1 -0.4 1 -0.4 1 -0.5 1 -0.5 1 -0.5 1 -0.5 1 -0.5 1 -0.6 1 -0.6 1 -0.7 1 -0.6 1 -0.8 1 -0.7 1 -0.8 1 -0.8 1.1 -0.9 1 -0.9 1 -0.9 1 -1 1 -1 1 -1 1 -1.1 1 -1 1 -1.1 1 -1.1 1 -1.1 1 -1.1 1 -1 1 -1 1 -0.9 1 -0.9 1 -0.8 1 -0.7 1.1 -0.5 1 -0.5 1 -0.3 1 -0.1 1 0 1 0.1 1 0.3 1 0.5 1 0.5 1 0.7 1 0.8 1 0.9 1 0.9 1 1 1 1 1 1.1 1 1.1 1 1.1 1.1 1.1 1 1 1 1.1 1 1 1 1 1 1 1 0.9 1 0.9 1 0.9 1 0.8 1 0.8 1 0.7 1 0.8 1 0.6 1 0.7 1 0.6 1 0.6 1 0.5 1.1 0.5 1 0.5 1 0.5 1 0.5 1 0.4 1 0.4 1 0.4 1 0.3 1 0.4 1 0.3 1 0.3 1 0.3 1 0.3 1 0.3 1 0.2 1 0.3 1 0.2 1 0.2 1.1 0.2 1 0.2 1 0.2 1 0.2 1 0.2 1 0.2 1 0.1 1 0.2 1 0.1 1 0.2 1 0.1 1 0.1 1 0.2 1 0.1 1 0.1 1 0.1 1 0.1 1 0.1 1 0.1 1.1 0.1 1 0.1 1 0.1 1 0.1 1 0.1 1 0 1 0.1 1 0.1 1 0.1 1 0 1 0.1 1 0.1 1 0 1 0.1 1 0 1 0.1 1 0 1 0.1 1.1 0.1 1 0 1 0.1 1 0 1 0 1 0.1 1 0 1 0.1 1 0 1 0 1 0.1 1 0 1 0.1 1 0 1 0 1 0.1 1 0 1 0 1.1 0.1 1 0 1 0 1 0 1 0.1 1 0 1 0 1 0 1 0.1 1 0 1 0 1 0 1 0.1 1 0 1 0 1 0 1 0 1 0.1 1.1 0 1 0 1 0 1 0 1 0.1 1 0 1 0 1 0 1 0 1 0 1 0.1 1 0 1 0 1 0 1 0 1 0 1 0 1 0.1 1.1 0 1 0 1 0 1 0 1 0 1 0 1 0 1 0.1 1 0 1 0 1 0 1 0 1 0"/>
<path d="M1769.1 1259.2l1 0 1 -0.1 1.1 0 1 -0.1 1 0 1 -0.1 1 0 1 -0.1 1 0 1 -0.1 1 -0.1 1 0 1 -0.1 1 -0.1 1 0 1 -0.1 1 -0.1 1 0 1 -0.1 1 0 1.1 -0.1 1 0 1 0 1 0 1 0 1 0 1 0 1 0 1 0 1 0.1 1 0 1 0.1 1 0 1 0.1 1 0.1 1 0 1 0.1 1 0.1 1.1 0 1 0.1 1 0.1 1 0 1 0.1 1 0 1 0.1 1 0 1 0.1 1 0 1 0.1 1 0"/>
</g>
<path fill="none" stroke="#000" stroke-width="3.4" stroke-linejoin="round" d="M1141.7 1262.9l1 -5.4 1 8.8 1 -2.5 1 0 1 -3.3 1 -4.7 1 9.1 1 -7.6 1.1 2.5 1 3.3 1 -4.8 1 -0.4 1 -3.8 1 10.3 1 2.7 1 -10.9 1 8.6 1 3.3 1 -0.7 1 -3 1 -7.2 1 -3.3 1 3.2 1 5.1 1 3.8 1 -0.3 1.1 -6.1 1 2.4 1 -3.6 1 -5.8 1 4.8 1 7.3 1 -1.2 1 -2.8 1 -0.4 1 9.8 1 -7.9 1 -3.2 1 -4.8 1 3.3 1 4.4 1 -4 1 4.3 1 -4.1 1.1 13.5 1 -13.3 1 5.7 1 -7.1 1 4.4 1 2.5 1 -2.8 1 -8.2 1 13.4 1 -3.3 1 -6.9 1 1.9 1 4.6 1 -6.2 1 6 1 -8.1 1 5.9 1 2.9 1.1 -5.3 1 2.4 1 1 1 4.5 1 -1 1 -4.2 1 0.2 1 -2.8 1 -0.1 1 -0.3 1 -0.5 1 6 1 -4.8 1 -2.6 1 0.1 1 3 1 2.3 1 -4.4 1.1 -1.9 1 5.1 1 3.3 1 -8.4 1 2.4 1 -6.2 1 18.3 1 -14.7 1 -0.7 1 6.1 1 -2.5 1 4.7 1 -6.9 1 4.1 1 0.4 1 1.4 1 5.6 1 -8.1 1.1 -3.4 1 5.5 1 -5 1 7 1 -2.8 1 -0.6 1 -7.2 1 0.1 1 3.9 1 2.3 1 -8.5 1 6.6 1 3 1 -3.5 1 6.5 1 -2.9 1 5.5 1 -9.5 1 4.8 1.1 -13.6 1 8.2 1 7.5 1 -5.8 1 -0.5 1 -3 1 12.3 1 -1.8 1 -5.5 1 1.5 1 -1.5 1 -5.9 1 7.3 1 -3.7 1 -1.1 1 7.9 1 -4.5 1 -4.5 1.1 6.7 1 -2.6 1 1.6 1 -2 1 1.9 1 -0.2 1 -5 1 12.7 1 -7.9 1 -11.6 1 14.7 1 -10.6 1 7.9 1 4.9 1 -7.9 1 0.8 1 5.4 1 -2.4 1.1 -0.3 1 -3.1 1 0.9 1 -8.3 1 6.2 1 1.1 1 3.2 1 -0.6 1 -7.7 1 2.2 1 -6.3 1 8.7 1 6.9 1 -5.7 1 -4.1 1 3.7 1 -1.4 1 -4.5 1.1 1.3 1 2.8 1 4.3 1 -6.1 1 -0.5 1 -3.1 1 5.6 1 -4.5 1 12.1 1 -7.3 1 -13.6 1 18.8 1 -4.8 1 -1.6 1 0.9 1 -3.5 1 -1.4 1 0.5 1.1 2.4 1 2.2 1 6.4 1 -6.8 1 1.7 1 0.6 1 -7.7 1 -1 1 0.3 1 10 1 -12.6 1 8 1 -6.1 1 14.1 1 -16.9 1 0.2 1 2.9 1 -3 1 7.7 1.1 0.3 1 -0.1 1 4.4 1 -13.2 1 4.2 1 -2.8 1 -1.9 1 4.1 1 7.3 1 -13.7 1 12.6 1 -8.5 1 -4 1 -3.7 1 8 1 -3.8 1 -2.1 1 -2.7 1.1 1.1 1 -1.9 1 1.2 1 -9.4 1 7.9 1 2.2 1 -1.9 1 -10.2 1 5.1 1 -0.4 1 2.6 1 -2.2 1 -0.4 1 -6 1 2.6 1 -4.3 1 -1.5 1 -6.1 1.1 7.5 1 -2.7 1 -6.1 1 12.1 1 -7.3 1 3.5 1 0 1 -1.8 1 2.2 1 3.7 1 -6.4 1 -1.5 1 11 1 -1.1 1 -4.4 1 8.7 1 -8.4 1 6.6 1.1 2.1 1 -0.3 1 2.9 1 -3 1 -3.8 1 5.3 1 5.9 1 -1.3 1 0.5 1 -0.4 1 6.8 1 -6.1 1 4 1 0.8 1 -4.6 1 8 1 -0.9 1 1.1 1.1 -7.7 1 11.2 1 -6.2 1 1.9 1 2.3 1 2.4 1 -5.7 1 4 1 -0.9 1 0.1 1 0.3 1 -3.7 1 4.1 1 5.5 1 -9 1 -2.4 1 13 1 -11.5 1.1 4.5 1 -1 1 3.7 1 -2.3 1 3.6 1 -3.8 1 -2.5 1 14.8 1 -9.4 1 1.8 1 -7.3 1 2.4 1 1.1 1 6.3 1 -7.5 1 5.6 1 -3.3 1 -1.4 1 6 1.1 -1.7 1 -5.5 1 7.1 1 -8 1 7.5 1 -2.4 1 9.8 1 -7.1 1 6.8 1 -6.4 1 -4.1 1 4.7 1 -9.2 1 1.2 1 4.6 1 6.9 1 -2.5 1 -9.5 1.1 -2.9 1 9.8 1 -7.8 1 1.8 1 2.1 1 -1.5 1 0.6 1 2.6 1 5 1 -6.8 1 2.9 1 1.7 1 0.2 1 -2.5 1 -2.8 1 2.9 1 -5.9 1 5.8 1.1 5.6 1 -2.8 1 -15.1 1 14.9 1 0 1 -3.8 1 4.3 1 -0.2 1 -3.4 1 -0.5 1 -3.8 1 9.1 1 -13.6 1 10.8 1 -3.1 1 1.7 1 -2 1 1.4 1.1 -3.5 1 -0.2 1 10.8 1 -8.5 1 7 1 -2.5 1 -2.4 1 0.4 1 -1.6 1 4.1 1 -4.5 1 -1.2 1 4.3 1 -3 1 2.2 1 -5 1 2.3 1 4.1 1.1 -0.1 1 -8.6 1 3.9 1 -4.1 1 7.5 1 -7.3 1 -3.7 1 2.5 1 -0.3 1 14.6 1 -12.5 1 5.4 1 -6.4 1 4.5 1 3.3 1 -1.5 1 1.5 1 -1.9 1 -5.1 1.1 2.7 1 -1.7 1 -3 1 10.6 1 -13.2 1 -1.6 1 2.8 1 6.4 1 -6.6 1 2.2 1 -4.4 1 7.5 1 -4.1 1 -1.6 1 5 1 -9.9 1 8.9 1 -3.2 1.1 -9.2 1 3.6 1 1.9 1 -7.2 1 0 1 8.4 1 4.5 1 -5.7 1 -5.4 1 -3.2 1 -5.9 1 5.8 1 -6.8 1 0.7 1 -1.4 1 1.1 1 -3.2 1 -13.5 1.1 4.2 1 4.1 1 -1.4 1 -4.9 1 -2 1 -11.9 1 1 1 -2.9 1 -0.2 1 -7.1 1 -6.4 1 2.2 1 -7.5 1 -1.5 1 -12.8 1 3.9 1 -1.2 1 1 1.1 -7.8 1 -8.7 1 0 1 9 1 -0.9 1 -5.2 1 -2.8 1 8 1 -6.6 1 1.7 1 -6.3 1 -5.7 1 10.2 1 4.6 1 -11.8 1 -7.7 1 5.8 1 -15.7 1.1 -12.1 1 -2.2 1 -6.9 1 -16.6 1 -9.9 1 -14.4 1 -14.9 1 -8.9 1 -19 1 -9.3 1 -3.6 1 -8.7 1 8.6 1 2.6 1 15.4 1 14.8 1 21.3 1 16.7 1.1 9.9 1 14.2 1 13.5 1 13.4 1 12.7 1 12.5 1 5.7 1 19 1 4.7 1 9.8 1 -0.8 1 5.9 1 0.9 1 10 1 1.2 1 0.7 1 5.1 1 9 1 1.6 1.1 -4.4 1 -6 1 -1.9 1 13.4 1 1.6 1 1.6 1 3.2 1 1.9 1 -4.3 1 1.9 1 10.1 1 3.6 1 -7.6 1 0.8 1 3.7 1 -1.3 1 -0.5 1 0.3 1.1 6.7 1 -8.4 1 5.7 1 -6.5 1 7.6 1 -0.6 1 -1.2 1 2.2 1 -8.2 1 4.2 1 1.8 1 2.5 1 -0.2 1 -2.5 1 3.5 1 1.4 1 9.2 1 -9.4 1.1 0.9 1 0.1 1 -2.3 1 -0.3 1 5.1 1 -4 1 -0.8 1 2.1 1 6.9 1 -11.2 1 3.4 1 2.9 1 1.4 1 4.5 1 1.5 1 -10.6 1 5.8 1 5 1.1 -3.1 1 -8.1 1 1.2 1 2.9 1 3.2 1 -7.6 1 7.8 1 -6 1 5.3 1 0.5 1 -1 1 2.3 1 -4.1 1 0.9 1 4.6 1 -7.7 1 -0.1 1 -3.2 1.1 12.9 1 -10.1 1 7 1 -3.4 1 1.5 1 -3.4 1 1.1 1 4.6 1 -3.6 1 -4.6 1 3.5 1 -4.9 1 7.8 1 1.4 1 -2.6 1 5.3 1 0.2 1 -7.1 1 5.1 1.1 -5.5 1 1.8 1 -1.6 1 1.3 1 -5.3 1 4.3 1 -4.5 1 11.6 1 -8.5 1 1.9 1 -6.1 1 3.5 1 5 1 -10.7 1 9.9 1 -3.3 1 10.8 1 -6 1.1 1 1 -2.4 1 2.9 1 -9 1 11.7 1 -3.7 1 -9.8 1 8.1 1 -1.5 1 6 1 -7.3 1 1.3 1 1.6 1 -2.6 1 7.7 1 -5.1 1 -4.6 1 3.6 1.1 -1.8 1 7.7 1 -11.4 1 -2.9 1 16.2 1 -8.7 1 4.9 1 -4.7 1 -2 1 4.3 1 -1.8 1 -2.9 1 -5.2 1 9.3 1 4.4 1 -0.7 1 -10.5 1 11.6 1.1 -11.4 1 3.7 1 2.5 1 0 1 -3.5 1 2.1 1 1.9 1 0 1 2.5 1 1 1 -3.2 1 -3.4 1 6 1 -3 1 -3.2 1 -6.6 1 10.6 1 2.1 1.1 1.6 1 -8.4 1 3.8 1 -6.9 1 7.9 1 0.4 1 -4.5 1 5.6 1 2 1 0.2 1 -8 1 4 1 4.2 1 -5 1 -0.8 1 0.5 1 4.8 1 -4.6 1.1 -6.8 1 10.5 1 9.1 1 -9.9 1 3.9 1 -4.3 1 -2.3 1 -3.3 1 6.4 1 -2.1 1 3.8 1 -3.2 1 2.2 1 -11.2 1 9.8 1 1.2 1 -1.2 1 4.2 1 -5.9 1.1 3.1 1 -10.9 1 11.3 1 -0.1 1 -6.8 1 -5.4 1 4.9 1 3.9 1 6.9 1 -11.7 1 6.7 1 0.7 1 -0.2 1 -5.1 1 5.5 1 -8.4 1 -2.4 1 7.7 1.1 -3.3 1 -5.8 1 14.9 1 -2.2 1 -0.7 1 -6.4 1 1 1 -3.7 1 6.5 1 -1.1 1 1 1 6.3 1 -8.2"/>
<path fill="none" stroke="#d42020" stroke-width="5.2" stroke-linejoin="round" d="M1141.7 1259.5l2 0 2 0 2 0 2 0 2.1 0 2 0 2 0 2 0 2 -0.1 2 0 2 0 2 0 2 0 2.1 0 2 0 2 0 2 0 2 0 2 0 2 -0.1 2 0 2 0 2.1 0 2 0 2 0 2 0 2 0 2 0 2 -0.1 2 0 2 0 2.1 0 2 0 2 0 2 0 2 -0.1 2 0 2 0 2 0 2 0 2.1 0 2 -0.1 2 0 2 0 2 0 2 -0.1 2 0 2 0 2 0 2.1 0 2 -0.1 2 0 2 0 2 -0.1 2 0 2 0 2 0 2 -0.1 2.1 0 2 -0.1 2 0 2 0 2 -0.1 2 0 2 -0.1 2 0 2 -0.1 2.1 0 2 -0.1 2 0 2 -0.1 2 -0.1 2 0 2 -0.1 2 -0.1 2 0 2.1 -0.1 2 -0.1 2 -0.1 2 -0.1 2 -0.1 2 -0.1 2 -0.2 2 -0.1 2 -0.1 2.1 -0.2 2 -0.1 2 -0.2 2 -0.2 2 -0.2 2 -0.2 2 -0.2 2 -0.2 2 -0.3 2.1 -0.3 2 -0.3 2 -0.3 2 -0.4 2 -0.4 2 -0.4 2 -0.5 2 -0.6 2 -0.6 2 -0.6 2.1 -0.7 2 -0.8 2 -0.9 2 -1 2 -1.1 2 -1.2 2 -1.3 2 -1.5 2 -1.6 2.1 -1.7 2 -2 2 -2 2 -2.1 2 -2.2 2 -2.2 2 -2.1 2 -1.8 2 -1.4 2.1 -1.1 2 -0.4 2 0.1 2 0.7 2 1.3 2 1.6 2 1.9 2 2.1 2 2.2 2.1 2.1 2 2.1 2 1.9 2 1.8 2 1.7 2 1.5 2 1.4 2 1.2 2 1.1 2.1 1 2 0.9 2 0.8 2 0.8 2 0.6 2 0.6 2 0.5 2 0.5 2 0.4 2.1 0.4 2 0.3 2 0.4 2 0.2 2 0.3 2 0.2 2 0.2 2 0.2 2 0.2 2.1 0.1 2 0.2 2 0.1 2 0.1 2 0.1 2 0.1 2 0.1 2 0 2 0.1 2.1 0 2 0.1 2 0 2 0 2 0 2 0 2 0 2 0 2 0 2.1 0 2 -0.1 2 0 2 -0.1 2 0 2 -0.1 2 -0.1 2 -0.1 2 -0.1 2.1 -0.1 2 -0.1 2 -0.1 2 -0.1 2 -0.2 2 -0.2 2 -0.1 2 -0.2 2 -0.2 2.1 -0.3 2 -0.2 2 -0.3 2 -0.3 2 -0.3 2 -0.4 2 -0.3 2 -0.5 2 -0.4 2 -0.5 2.1 -0.6 2 -0.6 2 -0.7 2 -0.7 2 -0.8 2 -0.9 2 -1 2 -1.2 2 -1.3 2.1 -1.4 2 -1.6 2 -1.9 2 -2.1 2 -2.4 2 -2.7 2 -3.2 2 -3.6 2 -4.2 2.1 -4.8 2 -5.4 2 -6.2 2 -6.8 2 -7.4 2 -7.7 2 -7.6 2 -6.9 2 -5.6 2.1 -4 2 -2.2 2 -0.7 2 0 2 -0.2 2 -1.4 2 -3.6 2 -6.7 2 -11 2.1 -16.2 2 -22.2 2 -27.7 2 -30 2 -24.4 2 -8.7 2 12.3 2 28.1 2 33.9 2.1 31.9 2 26.9 2 21.4 2 16.9 2 13.4 2 10.8 2 8.8 2 7.2 2 5.9 2.1 4.9 2 4 2 3.5 2 2.8 2 2.5 2 2.1 2 1.8 2 1.6 2 1.4 2.1 1.2 2 1.1 2 1 2 0.8 2 0.8 2 0.7 2 0.6 2 0.6 2 0.5 2.1 0.5 2 0.4 2 0.4 2 0.4 2 0.3 2 0.3 2 0.3 2 0.3 2 0.2 2.1 0.3 2 0.2 2 0.2 2 0.2 2 0.1 2 0.2 2 0.2 2 0.1 2 0.1 2.1 0.2 2 0.1 2 0.1 2 0.1 2 0.1 2 0 2 0.1 2 0.1 2 0.1 2 0 2.1 0.1 2 0 2 0 2 0.1 2 0 2 0 2 0 2 0 2 -0.1 2.1 0 2 -0.1 2 0 2 -0.1 2 -0.1 2 -0.1 2 0 2 -0.1 2 -0.1 2.1 0 2 0 2 0 2 0.1 2 0.1 2 0.1 2 0.2 2 0.1 2 0.2 2.1 0.2 2 0.1 2 0.1 2 0.2 2 0.1 2 0.1 2 0.1 2 0.1 2 0.1 2.1 0 2 0.1 2 0.1 2 0 2 0.1 2 0 2 0.1 2 0 2 0 2.1 0.1 2 0 2 0 2 0.1 2 0 2 0 2 0.1 2 0 2 0 2.1 0 2 0 2 0.1 2 0 2 0 2 0 2 0 2 0.1 2 0 2.1 0 2 0 2 0 2 0 2 0 2 0.1 2 0"/>
<path fill="none" stroke="#2a0505" stroke-width="5.2" stroke-dasharray="3.5 3.5" d="M1141.7 1259.5l2 0 2 0 2 0 2 0 2.1 0 2 0 2 0 2 0 2 -0.1 2 0 2 0 2 0 2 0 2.1 0 2 0 2 0 2 0 2 0 2 0 2 -0.1 2 0 2 0 2.1 0 2 0 2 0 2 0 2 0 2 0 2 -0.1 2 0 2 0 2.1 0 2 0 2 0 2 0 2 -0.1 2 0 2 0 2 0 2 0 2.1 0 2 -0.1 2 0 2 0 2 0 2 -0.1 2 0 2 0 2 0 2.1 0 2 -0.1 2 0 2 0 2 -0.1 2 0 2 0 2 0 2 -0.1 2.1 0 2 -0.1 2 0 2 0 2 -0.1 2 0 2 -0.1 2 0 2 -0.1 2.1 0 2 -0.1 2 0 2 -0.1 2 -0.1 2 0 2 -0.1 2 -0.1 2 0 2.1 -0.1 2 -0.1 2 -0.1 2 -0.1 2 -0.1 2 -0.1 2 -0.2 2 -0.1 2 -0.1 2.1 -0.2 2 -0.1 2 -0.2 2 -0.2 2 -0.2 2 -0.2 2 -0.2 2 -0.2 2 -0.3 2.1 -0.3 2 -0.3 2 -0.3 2 -0.4 2 -0.4 2 -0.4 2 -0.5 2 -0.6 2 -0.6 2 -0.6 2.1 -0.7 2 -0.8 2 -0.9 2 -1 2 -1.1 2 -1.2 2 -1.3 2 -1.5 2 -1.6 2.1 -1.7 2 -2 2 -2 2 -2.1 2 -2.2 2 -2.2 2 -2.1 2 -1.8 2 -1.4 2.1 -1.1 2 -0.4 2 0.1 2 0.7 2 1.3 2 1.6 2 1.9 2 2.1 2 2.2 2.1 2.1 2 2.1 2 1.9 2 1.8 2 1.7 2 1.5 2 1.4 2 1.2 2 1.1 2.1 1 2 0.9 2 0.8 2 0.8 2 0.6 2 0.6 2 0.5 2 0.5 2 0.4 2.1 0.4 2 0.3 2 0.4 2 0.2 2 0.3 2 0.2 2 0.2 2 0.2 2 0.2 2.1 0.1 2 0.2 2 0.1 2 0.1 2 0.1 2 0.1 2 0.1 2 0 2 0.1 2.1 0 2 0.1 2 0 2 0 2 0 2 0 2 0 2 0 2 0 2.1 0 2 -0.1 2 0 2 -0.1 2 0 2 -0.1 2 -0.1 2 -0.1 2 -0.1 2.1 -0.1 2 -0.1 2 -0.1 2 -0.1 2 -0.2 2 -0.2 2 -0.1 2 -0.2 2 -0.2 2.1 -0.3 2 -0.2 2 -0.3 2 -0.3 2 -0.3 2 -0.4 2 -0.3 2 -0.5 2 -0.4 2 -0.5 2.1 -0.6 2 -0.6 2 -0.7 2 -0.7 2 -0.8 2 -0.9 2 -1 2 -1.2 2 -1.3 2.1 -1.4 2 -1.6 2 -1.9 2 -2.1 2 -2.4 2 -2.7 2 -3.2 2 -3.6 2 -4.2 2.1 -4.8 2 -5.4 2 -6.2 2 -6.8 2 -7.4 2 -7.7 2 -7.6 2 -6.9 2 -5.6 2.1 -4 2 -2.2 2 -0.7 2 0 2 -0.2 2 -1.4 2 -3.6 2 -6.7 2 -11 2.1 -16.2 2 -22.2 2 -27.7 2 -30 2 -24.4 2 -8.7 2 12.3 2 28.1 2 33.9 2.1 31.9 2 26.9 2 21.4 2 16.9 2 13.4 2 10.8 2 8.8 2 7.2 2 5.9 2.1 4.9 2 4 2 3.5 2 2.8 2 2.5 2 2.1 2 1.8 2 1.6 2 1.4 2.1 1.2 2 1.1 2 1 2 0.8 2 0.8 2 0.7 2 0.6 2 0.6 2 0.5 2.1 0.5 2 0.4 2 0.4 2 0.4 2 0.3 2 0.3 2 0.3 2 0.3 2 0.2 2.1 0.3 2 0.2 2 0.2 2 0.2 2 0.1 2 0.2 2 0.2 2 0.1 2 0.1 2.1 0.2 2 0.1 2 0.1 2 0.1 2 0.1 2 0 2 0.1 2 0.1 2 0.1 2 0 2.1 0.1 2 0 2 0 2 0.1 2 0 2 0 2 0 2 0 2 -0.1 2.1 0 2 -0.1 2 0 2 -0.1 2 -0.1 2 -0.1 2 0 2 -0.1 2 -0.1 2.1 0 2 0 2 0 2 0.1 2 0.1 2 0.1 2 0.2 2 0.1 2 0.2 2.1 0.2 2 0.1 2 0.1 2 0.2 2 0.1 2 0.1 2 0.1 2 0.1 2 0.1 2.1 0 2 0.1 2 0.1 2 0 2 0.1 2 0 2 0.1 2 0 2 0 2.1 0.1 2 0 2 0 2 0.1 2 0 2 0 2 0.1 2 0 2 0 2.1 0 2 0 2 0.1 2 0 2 0 2 0 2 0 2 0.1 2 0 2.1 0 2 0 2 0 2 0 2 0 2 0.1 2 0"/>
<g fill="none" stroke="#000" stroke-width="2.8" stroke-dasharray="2.8 4">
<path d="M1505.7 1639.2l1 0 1 0 1 0 1 0 1 -0.1 1 0 1 0 1 0 1 0 1.1 0 1 0 1 -0.1 1 0 1 0 1 0 1 0 1 0 1 -0.1 1 0 1 0 1 0 1 0 1 -0.1 1 0 1 0 1 0 1 -0.1 1.1 0 1 0 1 0 1 -0.1 1 0 1 0 1 0 1 -0.1 1 0 1 0 1 -0.1 1 0 1 0 1 -0.1 1 0 1 -0.1 1 0 1 0 1 -0.1 1.1 0 1 -0.1 1 0 1 -0.1 1 0 1 -0.1 1 -0.1 1 0 1 -0.1 1 0 1 -0.1 1 -0.1 1 0 1 -0.1 1 -0.1 1 -0.1 1 -0.1 1 -0.1 1.1 -0.1 1 -0.1 1 -0.1 1 -0.1 1 -0.1 1 -0.1 1 -0.1 1 -0.2 1 -0.1 1 -0.1 1 -0.2 1 -0.2 1 -0.1 1 -0.2 1 -0.2 1 -0.2 1 -0.2 1 -0.3 1.1 -0.2 1 -0.3 1 -0.2 1 -0.3 1 -0.4 1 -0.3 1 -0.4 1 -0.4 1 -0.4 1 -0.4 1 -0.5 1 -0.6 1 -0.5 1 -0.7 1 -0.6 1 -0.8 1 -0.8 1 -0.9 1.1 -0.9 1 -1.1 1 -1.2 1 -1.3 1 -1.5 1 -1.6 1 -1.8 1 -2.1 1 -2.3 1 -2.6 1 -3 1 -3.5 1 -3.9 1 -4.6 1 -5.2 1 -6.2 1 -7.2 1 -8.4 1.1 -9.9 1 -11.7 1 -13.8 1 -16 1 -18.5 1 -20.8 1 -22.6 1 -22.9 1 -21 1 -16.3 1 -8.5 1 1 1 10.2 1 17.5 1 21.7 1 22.9 1 22.3 1 20.4 1.1 18 1 15.6 1 13.3 1 11.3 1 9.6 1 8.2 1 6.9 1 6 1 5.1 1 4.4 1 3.9 1 3.3 1 2.9 1 2.6 1 2.2 1 2 1 1.8 1 1.6 1 1.5 1.1 1.2 1 1.2 1 1.1 1 0.9 1 0.9 1 0.8 1 0.7 1 0.7 1 0.6 1 0.6 1 0.5 1 0.5 1 0.4 1 0.4 1 0.4 1 0.4 1 0.3 1 0.3 1.1 0.3 1 0.3 1 0.2 1 0.3 1 0.2 1 0.2 1 0.2 1 0.2 1 0.2 1 0.2 1 0.1 1 0.2 1 0.1 1 0.2 1 0.1 1 0.1 1 0.1 1 0.2 1.1 0.1 1 0.1 1 0.1 1 0.1 1 0 1 0.1 1 0.1 1 0.1 1 0.1 1 0 1 0.1 1 0.1 1 0 1 0.1 1 0.1 1 0 1 0.1 1 0 1.1 0.1 1 0 1 0.1 1 0 1 0.1 1 0 1 0 1 0.1 1 0 1 0.1 1 0 1 0 1 0.1 1 0 1 0 1 0.1 1 0 1 0 1.1 0 1 0.1 1 0 1 0 1 0 1 0.1 1 0 1 0 1 0 1 0.1 1 0 1 0 1 0 1 0 1 0.1 1 0 1 0 1 0 1 0 1.1 0 1 0.1 1 0 1 0 1 0 1 0 1 0 1 0 1 0.1 1 0 1 0 1 0"/>
<path d="M1556 1639.2l1 0 1 -0.1 1 0 1 0 1 -0.1 1 0 1 0 1 -0.1 1 0 1 -0.1 1 0 1 -0.1 1 -0.1 1 0 1.1 -0.1 1 -0.1 1 -0.1 1 0 1 -0.1 1 -0.2 1 -0.1 1 -0.1 1 -0.1 1 -0.2 1 -0.1 1 -0.2 1 -0.2 1 -0.2 1 -0.3 1 -0.3 1 -0.3 1 -0.3 1.1 -0.4 1 -0.5 1 -0.5 1 -0.6 1 -0.6 1 -0.8 1 -0.9 1 -1.1 1 -1.3 1 -1.5 1 -1.8 1 -2.1 1 -2.7 1 -3.2 1 -3.9 1 -4.8 1 -5.6 1 -6.6 1.1 -7.2 1 -7 1 -5.9 1 -3.2 1 0.4 1 3.8 1 6.2 1 7.2 1 7.1 1 6.4 1 5.5 1 4.5 1 3.8 1 3.1 1 2.5 1 2.1 1 1.8 1 1.4 1.1 1.2 1 1.1 1 0.9 1 0.7 1 0.7 1 0.5 1 0.5 1 0.5 1 0.3 1 0.4 1 0.3 1 0.3 1 0.2 1 0.2 1 0.2 1 0.2 1 0.2 1 0.1 1.1 0.1 1 0.2 1 0.1 1 0.1 1 0.1 1 0.1 1 0 1 0.1 1 0.1 1 0.1 1 0 1 0.1 1 0 1 0.1 1 0 1 0.1 1 0 1 0 1 0.1 1.1 0 1 0.1 1 0 1 0"/>
<path d="M1557 1639.2l1 0 1 -0.1 1 0 1 -0.1 1 0 1 -0.1 1 0 1 -0.1 1 -0.1 1 -0.1 1 0 1 -0.1 1 -0.1 1.1 -0.1 1 -0.2 1 -0.1 1 -0.2 1 -0.1 1 -0.2 1 -0.2 1 -0.2 1 -0.2 1 -0.3 1 -0.3 1 -0.3 1 -0.3 1 -0.4 1 -0.4 1 -0.3 1 -0.4 1 -0.4 1.1 -0.4 1 -0.4 1 -0.3 1 -0.2 1 -0.1 1 -0.1 1 0.1 1 0.1 1 0.2 1 0.3 1 0.4 1 0.4 1 0.4 1 0.4 1 0.3 1 0.4 1 0.4 1 0.3 1.1 0.3 1 0.3 1 0.3 1 0.2 1 0.2 1 0.2 1 0.2 1 0.1 1 0.2 1 0.1 1 0.2 1 0.1 1 0.1 1 0.1 1 0 1 0.1 1 0.1 1 0.1 1.1 0 1 0.1 1 0 1 0.1 1 0 1 0.1 1 0"/>
<path d="M1508.7 1639.2l1 0 1 0 1 -0.1 1 0 1 0 1 -0.1 1.1 0 1 0 1 -0.1 1 0 1 -0.1 1 0 1 -0.1 1 0 1 -0.1 1 0 1 -0.1 1 0 1 -0.1 1 -0.1 1 0 1 -0.1 1 -0.1 1 0 1.1 -0.1 1 -0.1 1 -0.1 1 -0.1 1 0 1 -0.1 1 -0.1 1 -0.1 1 0 1 -0.1 1 -0.1 1 0 1 -0.1 1 -0.1 1 0 1 0 1 0 1 -0.1 1 0 1.1 0 1 0.1 1 0 1 0 1 0 1 0.1 1 0.1 1 0 1 0.1 1 0.1 1 0 1 0.1 1 0.1 1 0.1 1 0 1 0.1 1 0.1 1 0.1 1.1 0.1 1 0 1 0.1 1 0.1 1 0 1 0.1 1 0.1 1 0 1 0.1 1 0 1 0.1 1 0 1 0.1 1 0 1 0.1 1 0 1 0.1 1 0 1.1 0 1 0.1 1 0 1 0 1 0.1 1 0 1 0"/>
<path d="M1615.3 1639.2l1 0 1 -0.1 1 0 1 -0.1 1 0 1 -0.1 1 -0.1 1 0 1 -0.1 1.1 -0.1 1 -0.1 1 -0.1 1 -0.2 1 -0.1 1 -0.1 1 -0.2 1 -0.2 1 -0.2 1 -0.3 1 -0.2 1 -0.4 1 -0.3 1 -0.4 1 -0.4 1 -0.5 1 -0.6 1 -0.5 1.1 -0.7 1 -0.6 1 -0.7 1 -0.6 1 -0.6 1 -0.4 1 -0.3 1 -0.1 1 0.1 1 0.3 1 0.4 1 0.6 1 0.6 1 0.7 1 0.6 1 0.7 1 0.5 1 0.6 1 0.5 1.1 0.4 1 0.4 1 0.3 1 0.4 1 0.2 1 0.3 1 0.2 1 0.2 1 0.2 1 0.1 1 0.1 1 0.2 1 0.1 1 0.1 1 0.1 1 0.1 1 0 1 0.1 1.1 0.1 1 0 1 0.1 1 0 1 0.1 1 0"/>
<path d="M1328.7 1639.2l1 0 1 0 1 0 1.1 -0.1 1 0 1 0 1 0 1 -0.1 1 0 1 0 1 -0.1 1 0 1 0 1 -0.1 1 0 1 0 1 -0.1 1 0 1 -0.1 1 0 1 -0.1 1 0 1.1 -0.1 1 0 1 -0.1 1 -0.1 1 0 1 -0.1 1 -0.1 1 -0.1 1 0 1 -0.1 1 -0.1 1 -0.1 1 -0.1 1 -0.1 1 -0.1 1 -0.1 1 -0.2 1 -0.1 1.1 -0.1 1 -0.2 1 -0.1 1 -0.2 1 -0.2 1 -0.1 1 -0.2 1 -0.2 1 -0.2 1 -0.2 1 -0.2 1 -0.2 1 -0.3 1 -0.2 1 -0.2 1 -0.3 1 -0.2 1 -0.2 1.1 -0.2 1 -0.2 1 -0.2 1 -0.2 1 -0.1 1 -0.2 1 -0.1 1 0 1 -0.1 1 0 1 0 1 0.1 1 0 1 0.1 1 0.2 1 0.1 1 0.2 1 0.2 1.1 0.2 1 0.2 1 0.2 1 0.2 1 0.3 1 0.2 1 0.2 1 0.3 1 0.2 1 0.2 1 0.2 1 0.2 1 0.2 1 0.2 1 0.1 1 0.2 1 0.2 1 0.1 1.1 0.2 1 0.1 1 0.1 1 0.2 1 0.1 1 0.1 1 0.1 1 0.1 1 0.1 1 0.1 1 0.1 1 0 1 0.1 1 0.1 1 0.1 1 0 1 0.1 1 0.1 1.1 0 1 0.1 1 0 1 0.1 1 0 1 0.1 1 0 1 0.1 1 0 1 0 1 0.1 1 0 1 0 1 0.1 1 0 1 0 1 0.1 1 0 1 0 1.1 0 1 0.1 1 0 1 0 1 0"/>
<path d="M1774.2 1639.2l1 0 1 -0.1 1 0 1 -0.1 1 0 1 -0.1 1 0 1 -0.1 1 0 1 -0.1 1 0 1 -0.1 1 0 1 0 1 -0.1 1.1 0 1 0 1 -0.1 1 0 1 0 1 0 1 0 1 0.1 1 0 1 0 1 0.1 1 0 1 0 1 0.1 1 0 1 0.1 1 0 1 0.1 1.1 0 1 0.1 1 0 1 0.1 1 0 1 0.1 1 0"/>
</g>
<path fill="none" stroke="#000" stroke-width="3.4" stroke-linejoin="round" d="M1141.7 1639.8l1 -1.7 1 4 1 -0.5 1 -4.5 1 0.1 1 5 1 0.4 1 -1.6 1.1 0.9 1 -3.5 1 1.8 1 1 1 -1.4 1 -1 1 1.1 1 -1 1 3.7 1 -3 1 -0.4 1 -1.6 1 4.4 1 -2.2 1 1 1 -0.9 1 0.5 1 -0.3 1.1 -0.9 1 1.5 1 -1.7 1 1.4 1 0.1 1 0.6 1 -2.2 1 4.2 1 -2.8 1 -1.8 1 -0.7 1 2.3 1 -0.2 1 0.9 1 -2.9 1 2 1 0.6 1 0.7 1.1 -3.6 1 1.5 1 -0.2 1 0.8 1 -0.2 1 0.5 1 -1.3 1 1.7 1 -2.5 1 1.9 1 2.9 1 -4.2 1 3.7 1 -0.6 1 -2.4 1 1.3 1 0.1 1 -2 1.1 -1.5 1 2.4 1 -1.4 1 2.5 1 -3 1 5 1 0.4 1 -4.2 1 -1.7 1 3.2 1 -1.2 1 0.6 1 -2 1 0.2 1 2.6 1 -2.5 1 -0.9 1 3.4 1.1 0.1 1 -1.3 1 -0.9 1 3.5 1 -2.6 1 1.3 1 -2.6 1 -0.1 1 2.1 1 1.8 1 -3.4 1 0.6 1 0.2 1 2.4 1 -1.9 1 0.6 1 0.7 1 -0.3 1.1 1.2 1 -3.9 1 2.1 1 0.1 1 -2.1 1 1.8 1 0.2 1 -0.9 1 -0.4 1 2.6 1 -1.3 1 -0.5 1 0.5 1 -1 1 0.9 1 0.4 1 -1.8 1 1 1 0 1.1 0.3 1 -0.7 1 0.5 1 -0.6 1 -0.6 1 0.5 1 -1.4 1 2.9 1 -0.4 1 -1.6 1 -0.1 1 0.1 1 -0.5 1 0.1 1 2.2 1 -1.1 1 1.6 1 -0.5 1.1 -0.1 1 -2.3 1 4 1 -2.5 1 -2.9 1 2.7 1 -0.1 1 1.2 1 -2.1 1 1.5 1 -0.7 1 2.1 1 -2 1 1.1 1 0.6 1 -2.4 1 1.5 1 -0.4 1.1 2.1 1 -1.3 1 -1.8 1 3.4 1 -3.2 1 0.7 1 0.2 1 0.6 1 -1.7 1 0.6 1 -0.2 1 0.8 1 -1.4 1 0.5 1 -1.3 1 4.1 1 -1.6 1 1 1.1 -2.7 1 -1.4 1 0.2 1 0.5 1 2.3 1 -1.2 1 -0.2 1 -1 1 3.9 1 -4.1 1 1.5 1 -0.1 1 0.2 1 0 1 0.6 1 3.1 1 -2.1 1 -1.1 1.1 -1.8 1 3.4 1 0 1 -2.9 1 1.5 1 -3.9 1 1.7 1 2.9 1 -3.9 1 3.2 1 0.6 1 -3.5 1 1.7 1 2.2 1 1.2 1 -3.2 1 1.9 1 -3.2 1 0.2 1.1 1.4 1 0.4 1 -0.8 1 1.2 1 -0.5 1 0.7 1 -0.8 1 -1.1 1 0.1 1 -0.4 1 0.3 1 1.1 1 -0.2 1 0.4 1 -0.7 1 -0.2 1 -2.4 1 0.5 1.1 -0.3 1 -0.5 1 -2.5 1 4.1 1 -2.6 1 0.2 1 -0.1 1 2.8 1 -1.7 1 1.2 1 -2.2 1 0.8 1 -0.2 1 -1.5 1 0.2 1 -2.7 1 0.6 1 1.3 1.1 -3.5 1 3.2 1 -0.2 1 -1.4 1 1.8 1 -0.5 1 0.8 1 -1.4 1 0.5 1 -0.4 1 -2.2 1 1.8 1 -0.1 1 0.4 1 0 1 1.2 1 -1 1 -0.7 1.1 1.9 1 -3.3 1 1.1 1 3.7 1 -3.3 1 2.5 1 -1.6 1 2.6 1 -0.3 1 1.2 1 -0.5 1 1.1 1 -2.6 1 3.4 1 -2.5 1 1.9 1 -1.2 1 1.9 1.1 -0.8 1 -0.1 1 0.6 1 -0.7 1 0.2 1 1.9 1 -1 1 -0.5 1 -0.6 1 2.2 1 -2.5 1 1 1 -1.4 1 0.8 1 0.7 1 0.7 1 -0.5 1 1.4 1.1 -3.6 1 5.2 1 -1.9 1 -0.1 1 -1.7 1 2.4 1 -2.2 1 0.9 1 0.4 1 0.5 1 0 1 -1.8 1 -0.5 1 3.4 1 -0.7 1 -0.2 1 -0.2 1 0.1 1 -3.1 1.1 2.6 1 1.2 1 -1.1 1 0.8 1 -0.4 1 -1.1 1 -0.4 1 0.9 1 1.5 1 -3.5 1 3.3 1 -3.7 1 5.1 1 -2.8 1 0.4 1 -0.8 1 1.9 1 -2.2 1.1 2.7 1 1.1 1 -2.8 1 -1.2 1 2.1 1 -1.9 1 0.5 1 0.6 1 1.2 1 -2.9 1 2.3 1 -0.2 1 -0.8 1 1 1 -0.8 1 -0.6 1 -2.2 1 -0.6 1.1 3.2 1 0.8 1 -2.2 1 0.8 1 2.4 1 -0.9 1 -3.4 1 3 1 -1.2 1 1 1 -0.6 1 -1.4 1 3.8 1 -6.1 1 1.9 1 2.8 1 -1.7 1 0.5 1.1 -1.8 1 2.2 1 -2.1 1 -0.6 1 -0.1 1 2.9 1 -1.6 1 0.9 1 -0.5 1 -0.8 1 -1.4 1 1.8 1 0.4 1 -2.5 1 0.6 1 -0.4 1 -1.7 1 3 1.1 0.2 1 -1 1 0.3 1 -0.2 1 1.3 1 -0.7 1 0 1 -2.3 1 1.5 1 -0.8 1 -1.5 1 1.8 1 -2.8 1 0.5 1 2.8 1 -0.7 1 -3.4 1 2.8 1 -0.4 1.1 -0.6 1 -1.2 1 1 1 1.2 1 1.4 1 -1.3 1 -2.4 1 2 1 1.8 1 -3.1 1 -1.5 1 3 1 -2.4 1 0.8 1 0.2 1 -0.8 1 0.1 1 0.6 1.1 -0.1 1 -0.7 1 0.3 1 -0.8 1 -1.6 1 2.8 1 -2.2 1 -0.2 1 0.2 1 -2 1 -2.2 1 -1 1 1 1 1.2 1 -1.7 1 -0.6 1 -2.2 1 -2.2 1.1 0.5 1 -3.1 1 0.2 1 0.7 1 -2.7 1 -2.1 1 1.2 1 -1.3 1 -1.9 1 -4.2 1 1.3 1 -3.6 1 -1.8 1 -2.7 1 -5 1 -4 1 -6.9 1 -8.6 1.1 -8 1 -4.6 1 -6.4 1 -7.5 1 -0.1 1 2.6 1 5 1 2.2 1 8 1 3.1 1 2.6 1 0.5 1 2.2 1 -3.6 1 0.1 1 -4.3 1 -8.2 1 -5.1 1.1 -8.6 1 -12.4 1 -15.4 1 -12.9 1 -17.1 1 -17.8 1 -23.4 1 -23 1 -21.8 1 -15.3 1 -10.7 1 1 1 9.5 1 17.5 1 22.8 1 25.5 1 17.4 1 22.2 1.1 17.2 1 12.6 1 15 1 8.2 1 13.4 1 7.5 1 4.6 1 6.4 1 5.2 1 4.5 1 6.2 1 1.6 1 4.6 1 2.2 1 6 1 1.4 1 3.6 1 -0.3 1 -0.4 1.1 6 1 1.3 1 2.1 1 0.1 1 2.1 1 1.3 1 -0.9 1 -1.2 1 4.5 1 0.1 1 -0.1 1 -0.4 1 4.4 1 -1.5 1 0.5 1 -0.9 1 0.6 1 1.7 1.1 -1.6 1 3.6 1 -1.8 1 2.5 1 -1.2 1 -0.9 1 3.9 1 -2.4 1 -0.4 1 2.1 1 -0.5 1 -0.3 1 -2.4 1 0.5 1 3.6 1 -1.8 1 1.5 1 -1.6 1.1 1.6 1 -2.5 1 2.1 1 2.3 1 -1.5 1 -0.7 1 0.5 1 0.2 1 2.6 1 -2.2 1 0.5 1 -1.2 1 1.5 1 -0.1 1 -1.4 1 -1.2 1 1.9 1 1.9 1.1 -2.2 1 0.3 1 2.1 1 -1.6 1 -2.3 1 4.7 1 -2 1 -0.8 1 0.4 1 1.1 1 -1.3 1 3 1 -1.7 1 0.3 1 -0.4 1 -1.1 1 1 1 2.1 1.1 -2.9 1 0.5 1 0.7 1 -1.5 1 2.2 1 -2.7 1 2.1 1 -1.8 1 0.9 1 0.1 1 3.8 1 -4.1 1 2 1 -0.7 1 -1.5 1 2.1 1 -1.2 1 -2 1 -0.2 1.1 2.5 1 0 1 -2.3 1 2.2 1 -0.5 1 1 1 -1.5 1 1 1 -0.3 1 0.9 1 0.6 1 1.3 1 -4.6 1 2.3 1 -1.6 1 -0.3 1 -0.8 1 1.5 1.1 0.7 1 -0.4 1 0.6 1 -0.1 1 0.3 1 -0.5 1 0.3 1 -0.2 1 -0.9 1 -1.2 1 -0.2 1 2.4 1 -1.9 1 2.2 1 -1.7 1 -0.4 1 0.7 1 0.4 1.1 2 1 -2.7 1 -0.2 1 1.2 1 0.8 1 -1.4 1 -0.5 1 1.4 1 -0.3 1 0.3 1 -2.3 1 2.6 1 -0.6 1 1.3 1 -1.6 1 0.9 1 -0.8 1 3.1 1.1 -4.6 1 0.7 1 0.3 1 -2.7 1 3.1 1 2.8 1 -1 1 0.4 1 -1.4 1 -0.7 1 0.7 1 -1.4 1 -0.5 1 3.6 1 -1.4 1 1.8 1 -3.5 1 2 1.1 -2.1 1 4 1 -1.9 1 -1.4 1 0.1 1 2.9 1 -3 1 1.1 1 0.3 1 -1.2 1 3.2 1 0.4 1 -3 1 1 1 0.7 1 -0.1 1 0.1 1 -2.4 1.1 1.6 1 -1.9 1 1.7 1 0.8 1 0.4 1 -3.7 1 3 1 -2.1 1 2.4 1 -0.1 1 -0.2 1 1 1 -0.9 1 -1.3 1 0.5 1 0.9 1 -2.5 1 1.8 1 0.8 1.1 -1.8 1 2.9 1 -0.2 1 -0.7 1 -0.8 1 -0.3 1 1.2 1 -0.1 1 0.6 1 -2.1 1 1.7 1 0.6 1 -2.6 1 1.4 1 -0.2 1 -0.3 1 1.5 1 -1.4 1.1 1.1 1 -0.4 1 0.5 1 -1.3 1 -0.5 1 1.6 1 -0.7 1 1 1 -1.7 1 -0.1 1 1.6 1 -0.7 1 -0.3"/>
<path fill="none" stroke="#d42020" stroke-width="5.2" stroke-linejoin="round" d="M1141.7 1639.8l2 0 2 0 2 0 2 0 2.1 0 2 0 2 0 2 0 2 0 2 0 2 0 2 0 2 0 2.1 0 2 0 2 0 2 0 2 0 2 0 2 0 2 0 2 0 2.1 0 2 0 2 0 2 0 2 0 2 0 2 0 2 0 2 0 2.1 0 2 0 2 0 2 0 2 0 2 0 2 0 2 -0.1 2 0 2.1 0 2 0 2 0 2 0 2 0 2 0 2 0 2 0 2 0 2.1 0 2 0 2 0 2 0 2 0 2 0 2 0 2 -0.1 2 0 2.1 0 2 0 2 0 2 0 2 0 2 0 2 0 2 0 2 0 2.1 -0.1 2 0 2 0 2 0 2 0 2 0 2 0 2 0 2 -0.1 2.1 0 2 0 2 0 2 0 2 -0.1 2 0 2 0 2 0 2 0 2.1 -0.1 2 0 2 0 2 -0.1 2 0 2 0 2 -0.1 2 0 2 -0.1 2.1 0 2 -0.1 2 0 2 -0.1 2 -0.1 2 0 2 -0.1 2 -0.1 2 -0.1 2 -0.1 2.1 -0.1 2 -0.2 2 -0.1 2 -0.2 2 -0.1 2 -0.2 2 -0.2 2 -0.3 2 -0.2 2.1 -0.3 2 -0.3 2 -0.4 2 -0.4 2 -0.4 2 -0.4 2 -0.5 2 -0.4 2 -0.5 2.1 -0.4 2 -0.4 2 -0.3 2 -0.1 2 -0.1 2 0 2 0.2 2 0.3 2 0.3 2.1 0.4 2 0.5 2 0.4 2 0.5 2 0.4 2 0.4 2 0.3 2 0.4 2 0.3 2.1 0.2 2 0.3 2 0.2 2 0.2 2 0.2 2 0.1 2 0.2 2 0.1 2 0.1 2.1 0.1 2 0.1 2 0 2 0.1 2 0.1 2 0 2 0.1 2 0 2 0 2.1 0.1 2 0 2 0 2 0 2 0 2 0 2 0 2 0 2 0 2.1 0 2 0 2 0 2 -0.1 2 0 2 0 2 -0.1 2 0 2 0 2.1 -0.1 2 0 2 -0.1 2 -0.1 2 0 2 -0.1 2 -0.1 2 -0.1 2 -0.1 2.1 -0.1 2 -0.1 2 -0.2 2 -0.1 2 -0.2 2 -0.2 2 -0.2 2 -0.2 2 -0.2 2.1 -0.2 2 -0.3 2 -0.2 2 -0.3 2 -0.3 2 -0.2 2 -0.3 2 -0.2 2 -0.3 2 -0.2 2.1 -0.1 2 -0.2 2 -0.2 2 -0.1 2 -0.2 2 -0.2 2 -0.2 2 -0.3 2 -0.3 2.1 -0.5 2 -0.5 2 -0.7 2 -0.8 2 -0.9 2 -1.2 2 -1.4 2 -1.6 2 -1.8 2.1 -2 2 -2.2 2 -2.2 2 -2.5 2 -3.1 2 -4.3 2 -6.2 2 -9.4 2 -13.2 2.1 -15.7 2 -11.1 2 1.5 2 9.8 2 8.7 2 3.8 2 -1.5 2 -6.7 2 -12.5 2.1 -19.4 2 -28.3 2 -38.2 2 -44.8 2 -37 2 -7.5 2 27.5 2 44.2 2 41.8 2.1 32.6 2 23.6 2 17 2 12.7 2 10.1 2 8.4 2 6.9 2 5.6 2 4.6 2.1 3.8 2 3 2 2.5 2 2 2 1.8 2 1.4 2 1.2 2 1 2 0.9 2.1 0.8 2 0.7 2 0.6 2 0.5 2 0.5 2 0.4 2 0.4 2 0.3 2 0.3 2.1 0.3 2 0.3 2 0.2 2 0.2 2 0.2 2 0.2 2 0.1 2 0.2 2 0.1 2.1 0.1 2 0.2 2 0.1 2 0.1 2 0.1 2 0 2 0.1 2 0.1 2 0.1 2.1 0 2 0.1 2 0 2 0.1 2 0 2 0.1 2 0 2 0 2 0.1 2 0 2.1 0 2 0 2 0 2 0 2 0 2 0 2 0 2 0 2 -0.1 2.1 0 2 -0.1 2 0 2 -0.1 2 -0.1 2 -0.1 2 0 2 -0.1 2 -0.1 2.1 0 2 0 2 0 2 0 2 0.1 2 0.1 2 0.1 2 0.1 2 0.2 2.1 0.1 2 0.1 2 0.1 2 0.1 2 0 2 0.1 2 0.1 2 0.1 2 0 2.1 0.1 2 0 2 0 2 0.1 2 0 2 0 2 0.1 2 0 2 0 2.1 0.1 2 0 2 0 2 0 2 0 2 0 2 0.1 2 0 2 0 2.1 0 2 0 2 0 2 0 2 0.1 2 0 2 0 2 0 2 0 2.1 0 2 0 2 0 2 0 2 0 2 0 2 0"/>
<path fill="none" stroke="#2a0505" stroke-width="5.2" stroke-dasharray="3.5 3.5" d="M1141.7 1639.8l2 0 2 0 2 0 2 0 2.1 0 2 0 2 0 2 0 2 0 2 0 2 0 2 0 2 0 2.1 0 2 0 2 0 2 0 2 0 2 0 2 0 2 0 2 0 2.1 0 2 0 2 0 2 0 2 0 2 0 2 0 2 0 2 0 2.1 0 2 0 2 0 2 0 2 0 2 0 2 0 2 -0.1 2 0 2.1 0 2 0 2 0 2 0 2 0 2 0 2 0 2 0 2 0 2.1 0 2 0 2 0 2 0 2 0 2 0 2 0 2 -0.1 2 0 2.1 0 2 0 2 0 2 0 2 0 2 0 2 0 2 0 2 0 2.1 -0.1 2 0 2 0 2 0 2 0 2 0 2 0 2 0 2 -0.1 2.1 0 2 0 2 0 2 0 2 -0.1 2 0 2 0 2 0 2 0 2.1 -0.1 2 0 2 0 2 -0.1 2 0 2 0 2 -0.1 2 0 2 -0.1 2.1 0 2 -0.1 2 0 2 -0.1 2 -0.1 2 0 2 -0.1 2 -0.1 2 -0.1 2 -0.1 2.1 -0.1 2 -0.2 2 -0.1 2 -0.2 2 -0.1 2 -0.2 2 -0.2 2 -0.3 2 -0.2 2.1 -0.3 2 -0.3 2 -0.4 2 -0.4 2 -0.4 2 -0.4 2 -0.5 2 -0.4 2 -0.5 2.1 -0.4 2 -0.4 2 -0.3 2 -0.1 2 -0.1 2 0 2 0.2 2 0.3 2 0.3 2.1 0.4 2 0.5 2 0.4 2 0.5 2 0.4 2 0.4 2 0.3 2 0.4 2 0.3 2.1 0.2 2 0.3 2 0.2 2 0.2 2 0.2 2 0.1 2 0.2 2 0.1 2 0.1 2.1 0.1 2 0.1 2 0 2 0.1 2 0.1 2 0 2 0.1 2 0 2 0 2.1 0.1 2 0 2 0 2 0 2 0 2 0 2 0 2 0 2 0 2.1 0 2 0 2 0 2 -0.1 2 0 2 0 2 -0.1 2 0 2 0 2.1 -0.1 2 0 2 -0.1 2 -0.1 2 0 2 -0.1 2 -0.1 2 -0.1 2 -0.1 2.1 -0.1 2 -0.1 2 -0.2 2 -0.1 2 -0.2 2 -0.2 2 -0.2 2 -0.2 2 -0.2 2.1 -0.2 2 -0.3 2 -0.2 2 -0.3 2 -0.3 2 -0.2 2 -0.3 2 -0.2 2 -0.3 2 -0.2 2.1 -0.1 2 -0.2 2 -0.2 2 -0.1 2 -0.2 2 -0.2 2 -0.2 2 -0.3 2 -0.3 2.1 -0.5 2 -0.5 2 -0.7 2 -0.8 2 -0.9 2 -1.2 2 -1.4 2 -1.6 2 -1.8 2.1 -2 2 -2.2 2 -2.2 2 -2.5 2 -3.1 2 -4.3 2 -6.2 2 -9.4 2 -13.2 2.1 -15.7 2 -11.1 2 1.5 2 9.8 2 8.7 2 3.8 2 -1.5 2 -6.7 2 -12.5 2.1 -19.4 2 -28.3 2 -38.2 2 -44.8 2 -37 2 -7.5 2 27.5 2 44.2 2 41.8 2.1 32.6 2 23.6 2 17 2 12.7 2 10.1 2 8.4 2 6.9 2 5.6 2 4.6 2.1 3.8 2 3 2 2.5 2 2 2 1.8 2 1.4 2 1.2 2 1 2 0.9 2.1 0.8 2 0.7 2 0.6 2 0.5 2 0.5 2 0.4 2 0.4 2 0.3 2 0.3 2.1 0.3 2 0.3 2 0.2 2 0.2 2 0.2 2 0.2 2 0.1 2 0.2 2 0.1 2.1 0.1 2 0.2 2 0.1 2 0.1 2 0.1 2 0 2 0.1 2 0.1 2 0.1 2.1 0 2 0.1 2 0 2 0.1 2 0 2 0.1 2 0 2 0 2 0.1 2 0 2.1 0 2 0 2 0 2 0 2 0 2 0 2 0 2 0 2 -0.1 2.1 0 2 -0.1 2 0 2 -0.1 2 -0.1 2 -0.1 2 0 2 -0.1 2 -0.1 2.1 0 2 0 2 0 2 0 2 0.1 2 0.1 2 0.1 2 0.1 2 0.2 2.1 0.1 2 0.1 2 0.1 2 0.1 2 0 2 0.1 2 0.1 2 0.1 2 0 2.1 0.1 2 0 2 0 2 0.1 2 0 2 0 2 0.1 2 0 2 0 2.1 0.1 2 0 2 0 2 0 2 0 2 0 2 0.1 2 0 2 0 2.1 0 2 0 2 0 2 0 2 0.1 2 0 2 0 2 0 2 0 2.1 0 2 0 2 0 2 0 2 0 2 0 2 0"/>
<g fill="none" stroke="#000" stroke-width="2.8" stroke-dasharray="2.8 4">
<path d="M1529.8 1995.2l1 0 1 0 1 0 1.1 -0.1 1 0 1 0 1 0 1 0 1 0 1 -0.1 1 0 1 0 1 0 1 0 1 -0.1 1 0 1 0 1 0 1 -0.1 1 0 1 0 1 -0.1 1.1 0 1 0 1 0 1 -0.1 1 0 1 -0.1 1 0 1 0 1 -0.1 1 0 1 -0.1 1 0 1 0 1 -0.1 1 0 1 -0.1 1 -0.1 1 0 1.1 -0.1 1 0 1 -0.1 1 -0.1 1 0 1 -0.1 1 -0.1 1 -0.1 1 -0.1 1 -0.1 1 -0.1 1 -0.1 1 -0.1 1 -0.1 1 -0.1 1 -0.2 1 -0.1 1 -0.1 1.1 -0.2 1 -0.2 1 -0.1 1 -0.2 1 -0.2 1 -0.2 1 -0.3 1 -0.2 1 -0.3 1 -0.2 1 -0.3 1 -0.4 1 -0.3 1 -0.4 1 -0.4 1 -0.5 1 -0.5 1 -0.5 1.1 -0.6 1 -0.7 1 -0.7 1 -0.8 1 -0.9 1 -1 1 -1.1 1 -1.2 1 -1.4 1 -1.6 1 -1.8 1 -2 1 -2.4 1 -2.7 1 -3.1 1 -3.8 1 -4.3 1 -5.2 1.1 -6.2 1 -7.5 1 -9 1 -11 1 -13.5 1 -16.5 1 -20 1 -23.8 1 -27.5 1 -29.5 1 -28.2 1 -21.5 1 -9.1 1 6.2 1 19.4 1 27.3 1 29.6 1 28 1.1 24.7 1 20.7 1 17.2 1 14 1 11.5 1 9.4 1 7.7 1 6.4 1 5.4 1 4.5 1 3.9 1 3.2 1 2.8 1 2.5 1 2.1 1 1.8 1 1.6 1 1.4 1 1.3 1.1 1.1 1 1 1 0.9 1 0.9 1 0.7 1 0.7 1 0.6 1 0.5 1 0.5 1 0.5 1 0.4 1 0.4 1 0.4 1 0.3 1 0.3 1 0.3 1 0.2 1 0.3 1.1 0.2 1 0.2 1 0.2 1 0.2 1 0.2 1 0.2 1 0.1 1 0.2 1 0.1 1 0.2 1 0.1 1 0.1 1 0.1 1 0.1 1 0.1 1 0.1 1 0.1 1 0.1 1.1 0.1 1 0 1 0.1 1 0.1 1 0 1 0.1 1 0.1 1 0 1 0.1 1 0 1 0.1 1 0 1 0.1 1 0 1 0.1 1 0 1 0.1 1 0 1.1 0 1 0.1 1 0 1 0 1 0.1 1 0 1 0 1 0.1 1 0 1 0 1 0 1 0.1 1 0 1 0 1 0 1 0.1 1 0 1 0 1.1 0 1 0.1 1 0 1 0 1 0 1 0 1 0 1 0.1 1 0 1 0 1 0"/>
<path d="M1562 1995.2l1 0 1 -0.1 1 0 1 0 1 -0.1 1 0 1 -0.1 1 0 1.1 -0.1 1 0 1 -0.1 1 0 1 -0.1 1 -0.1 1 -0.1 1 -0.1 1 -0.1 1 -0.1 1 -0.1 1 -0.1 1 -0.2 1 -0.1 1 -0.2 1 -0.2 1 -0.2 1 -0.2 1.1 -0.3 1 -0.3 1 -0.3 1 -0.4 1 -0.4 1 -0.5 1 -0.6 1 -0.7 1 -0.8 1 -0.9 1 -1.1 1 -1.3 1 -1.6 1 -2 1 -2.4 1 -2.9 1 -3.7 1 -4.5 1.1 -5.6 1 -6.7 1 -7.8 1 -8.2 1 -7.4 1 -4.6 1 -0.5 1 3.9 1 7 1 8.2 1 7.9 1 6.9 1 5.9 1 4.7 1 3.8 1 3.1 1 2.5 1 2 1.1 1.7 1 1.3 1 1.2 1 1 1 0.8 1 0.7 1 0.6 1 0.5 1 0.4 1 0.4 1 0.4 1 0.3 1 0.2 1 0.3 1 0.2 1 0.2 1 0.2 1 0.1 1.1 0.2 1 0.1 1 0.1 1 0.1 1 0.1 1 0.1 1 0.1 1 0.1 1 0 1 0.1 1 0.1 1 0 1 0.1 1 0 1 0.1 1 0 1 0.1 1 0 1 0 1.1 0.1 1 0"/>
<path d="M1556 1995.2l1 0 1 -0.1 1 0 1 -0.1 1 0 1 -0.1 1 0 1 -0.1 1 -0.1 1 0 1 -0.1 1 -0.1 1 -0.1 1 -0.1 1.1 -0.1 1 -0.2 1 -0.1 1 -0.2 1 -0.1 1 -0.2 1 -0.2 1 -0.2 1 -0.3 1 -0.3 1 -0.3 1 -0.3 1 -0.3 1 -0.4 1 -0.4 1 -0.4 1 -0.4 1 -0.4 1.1 -0.4 1 -0.4 1 -0.3 1 -0.2 1 -0.2 1 0 1 0 1 0.2 1 0.2 1 0.3 1 0.4 1 0.4 1 0.4 1 0.4 1 0.4 1 0.4 1 0.4 1 0.3 1.1 0.3 1 0.3 1 0.3 1 0.3 1 0.2 1 0.2 1 0.2 1 0.1 1 0.2 1 0.1 1 0.2 1 0.1 1 0.1 1 0.1 1 0.1 1 0.1 1 0 1 0.1 1.1 0.1 1 0 1 0.1 1 0 1 0.1 1 0 1 0.1 1 0"/>
<path d="M1507.7 1995.2l1 0 1 0 1 -0.1 1 0 1 0 1 -0.1 1 0 1.1 0 1 -0.1 1 0 1 -0.1 1 0 1 -0.1 1 0 1 -0.1 1 0 1 -0.1 1 0 1 -0.1 1 -0.1 1 0 1 -0.1 1 -0.1 1 -0.1 1 0 1.1 -0.1 1 -0.1 1 -0.1 1 -0.1 1 0 1 -0.1 1 -0.1 1 -0.1 1 -0.1 1 0 1 -0.1 1 -0.1 1 0 1 -0.1 1 0 1 -0.1 1 0 1 0 1 0 1.1 0 1 0 1 0 1 0.1 1 0 1 0.1 1 0 1 0.1 1 0.1 1 0 1 0.1 1 0.1 1 0.1 1 0.1 1 0 1 0.1 1 0.1 1 0.1 1.1 0.1 1 0 1 0.1 1 0.1 1 0.1 1 0 1 0.1 1 0.1 1 0 1 0.1 1 0 1 0.1 1 0 1 0.1 1 0 1 0.1 1 0 1 0.1 1.1 0 1 0 1 0.1 1 0 1 0 1 0.1 1 0 1 0"/>
<path d="M1614.3 1995.2l1 0 1 -0.1 1 0 1 -0.1 1 0 1 -0.1 1 0 1 -0.1 1 -0.1 1 -0.1 1.1 -0.1 1 -0.1 1 -0.1 1 -0.1 1 -0.2 1 -0.1 1 -0.2 1 -0.2 1 -0.3 1 -0.2 1 -0.3 1 -0.3 1 -0.4 1 -0.4 1 -0.4 1 -0.6 1 -0.5 1 -0.6 1.1 -0.7 1 -0.7 1 -0.7 1 -0.6 1 -0.6 1 -0.5 1 -0.3 1 -0.1 1 0.1 1 0.3 1 0.5 1 0.6 1 0.6 1 0.7 1 0.7 1 0.7 1 0.6 1 0.5 1 0.6 1.1 0.4 1 0.4 1 0.4 1 0.3 1 0.3 1 0.2 1 0.3 1 0.2 1 0.2 1 0.1 1 0.2 1 0.1 1 0.1 1 0.1 1 0.1 1 0.1 1 0.1 1 0.1 1.1 0 1 0.1 1 0 1 0.1 1 0 1 0.1 1 0"/>
<path d="M1363.9 1995.2l1 0 1 0 1 -0.1 1 0 1 -0.1 1.1 0 1 -0.1 1 0 1 -0.1 1 0 1 -0.1 1 -0.1 1 0 1 -0.1 1 -0.1 1 -0.1 1 -0.1 1 -0.1 1 0 1 -0.1 1 -0.1 1 -0.1 1 -0.1 1.1 -0.1 1 -0.1 1 0 1 -0.1 1 -0.1 1 0 1 0 1 -0.1 1 0 1 0 1 0.1 1 0 1 0 1 0.1 1 0.1 1 0 1 0.1 1 0.1 1.1 0.1 1 0.1 1 0.1 1 0.1 1 0 1 0.1 1 0.1 1 0.1 1 0.1 1 0.1 1 0 1 0.1 1 0.1 1 0 1 0.1 1 0 1 0.1 1 0 1.1 0.1 1 0 1 0.1 1 0 1 0"/>
<path d="M1773.2 1995.2l1 0 1 -0.1 1 0 1 -0.1 1 0 1 -0.1 1 0 1 -0.1 1 0 1 -0.1 1 0 1 -0.1 1 0 1 -0.1 1 0 1 -0.1 1.1 0 1 0 1 0 1 -0.1 1 0 1 0 1 0.1 1 0 1 0 1 0 1 0.1 1 0 1 0.1 1 0 1 0.1 1 0 1 0.1 1 0 1.1 0.1 1 0 1 0.1 1 0 1 0.1 1 0 1 0.1 1 0"/>
</g>
<path fill="none" stroke="#000" stroke-width="3.4" stroke-linejoin="round" d="M1141.7 1996.2l1 -0.4 1 0.2 1 0.1 1 -0.7 1 0.9 1 -0.4 1 -0.2 1 0.2 1.1 -0.3 1 -0.6 1 0.9 1 -0.2 1 1 1 -0.1 1 -0.9 1 0.3 1 0.4 1 -0.3 1 -0.3 1 -0.1 1 -0.3 1 0.9 1 -0.1 1 -0.2 1 -0.1 1 0.8 1.1 -0.6 1 0.4 1 -1.2 1 0.2 1 0 1 0.7 1 -0.5 1 0.8 1 -0.6 1 0.5 1 -0.7 1 0.6 1 -0.6 1 0.2 1 -0.5 1 -0.4 1 0.3 1 0.7 1.1 0 1 -0.9 1 0.2 1 -0.1 1 1 1 -0.7 1 -0.1 1 0.7 1 -0.5 1 0.5 1 0.1 1 -0.6 1 -0.5 1 0.6 1 1.2 1 -1.5 1 1.1 1 -0.9 1.1 -0.2 1 1.2 1 -0.9 1 -0.8 1 0.3 1 0.3 1 0.1 1 0.9 1 -0.2 1 -0.4 1 0.2 1 -0.5 1 -0.5 1 0.8 1 -0.2 1 0.6 1 -0.3 1 0.4 1.1 -0.7 1 0 1 -0.1 1 -0.2 1 1 1 -0.5 1 -0.6 1 0.3 1 1.1 1 0.2 1 -0.4 1 -0.6 1 0.7 1 -0.8 1 -0.5 1 0.6 1 -0.6 1 0.4 1.1 1.2 1 -0.8 1 -0.2 1 0.3 1 -0.6 1 0.4 1 -0.6 1 -0.2 1 0.4 1 -0.4 1 -0.4 1 0.8 1 -0.3 1 0.1 1 1.1 1 -0.4 1 0.2 1 -0.6 1 -0.4 1.1 0.1 1 1.2 1 -2.1 1 1 1 0.4 1 -0.8 1 1.2 1 -0.9 1 0.4 1 0.7 1 -0.3 1 -0.5 1 0 1 0.8 1 0.2 1 -0.7 1 -1.1 1 0.7 1.1 0.7 1 -0.9 1 0.2 1 -0.3 1 0.3 1 0.6 1 -0.1 1 -0.8 1 1.1 1 -1.3 1 1.1 1 0 1 -1.1 1 -0.2 1 1.3 1 -0.1 1 -0.2 1 -0.5 1.1 0.5 1 -0.9 1 1.1 1 0.8 1 -1.2 1 0.5 1 -0.9 1 0.6 1 -0.3 1 0.3 1 -0.3 1 -0.7 1 1.3 1 -1 1 1 1 -1.1 1 1 1 -0.2 1.1 -0.5 1 0.7 1 -0.3 1 0.6 1 -0.4 1 0.2 1 -1.5 1 1.6 1 -0.8 1 0 1 -0.5 1 0.3 1 0.2 1 0.1 1 0 1 -0.2 1 0.2 1 0.4 1.1 -0.7 1 -0.1 1 0.8 1 -0.3 1 -0.6 1 0.7 1 -0.1 1 0.8 1 -0.6 1 0 1 -0.5 1 -0.4 1 0.4 1 -0.1 1 0 1 0.6 1 -1 1 1.3 1 -1.4 1.1 -0.2 1 1.1 1 -0.6 1 -0.2 1 0.5 1 -0.4 1 0.2 1 -0.2 1 0.2 1 -0.5 1 0.7 1 -0.6 1 0.2 1 -1.1 1 1.2 1 -0.5 1 0.1 1 -0.1 1.1 -0.2 1 -0.3 1 0.9 1 -0.7 1 0 1 -0.1 1 -0.3 1 0.8 1 -0.9 1 0.4 1 -0.6 1 -0.4 1 -0.1 1 0.8 1 -1.2 1 0 1 0.4 1 0.5 1.1 -0.7 1 0.8 1 -0.7 1 -0.1 1 0.8 1 -0.6 1 -0.4 1 -0.1 1 0.6 1 0.3 1 -0.8 1 0.1 1 0.6 1 -0.8 1 0.6 1 0 1 -0.1 1 -0.3 1.1 -0.6 1 1.2 1 -0.5 1 0.8 1 -0.3 1 0.2 1 0.9 1 -0.2 1 -0.8 1 1 1 -0.5 1 -0.4 1 0.7 1 0 1 0.5 1 0.1 1 0.1 1 -0.8 1.1 0.3 1 -0.8 1 1.1 1 -0.2 1 -0.9 1 1.3 1 0 1 -1 1 -0.3 1 0.9 1 0.3 1 -0.1 1 0.7 1 0.5 1 -1.1 1 -0.1 1 -0.1 1 1.2 1.1 -1 1 0.4 1 0.1 1 0 1 -0.2 1 0.7 1 -0.6 1 -0.2 1 -0.6 1 0.3 1 0.2 1 0.5 1 -0.8 1 0.4 1 -0.2 1 -1.2 1 1.4 1 0.7 1 -1.5 1.1 1.2 1 -1.1 1 0.4 1 0.1 1 0.5 1 -0.4 1 0 1 0.4 1 0 1 -0.5 1 0.3 1 0.4 1 -0.4 1 -0.8 1 0.5 1 -0.8 1 1.8 1 -0.9 1.1 -1 1 0.6 1 0.4 1 0.1 1 -0.4 1 -0.1 1 -0.3 1 0.9 1 0.1 1 -0.4 1 -0.1 1 -0.1 1 -0.3 1 0 1 0.5 1 -0.2 1 0 1 -0.6 1.1 0.7 1 -0.9 1 1.1 1 -0.7 1 0.2 1 -0.5 1 0.2 1 -0.3 1 0.4 1 -1 1 1.4 1 -0.5 1 0.2 1 -0.5 1 0.3 1 -0.7 1 -0.1 1 0.2 1.1 -0.6 1 1.1 1 -0.7 1 0 1 -0.3 1 0.6 1 0.1 1 -0.7 1 0.6 1 -0.5 1 -0.1 1 -1 1 0.3 1 0.9 1 -0.2 1 0.5 1 -1.5 1 0.6 1.1 -1.2 1 0.2 1 -0.3 1 0 1 0.5 1 0.4 1 -0.7 1 -0.9 1 1.2 1 -0.6 1 -1.1 1 1.3 1 -0.7 1 0.2 1 -0.8 1 0 1 0.3 1 -1 1 0.7 1.1 0.3 1 -0.3 1 -0.3 1 -0.2 1 -0.1 1 0.9 1 -0.6 1 -0.1 1 -0.6 1 0.6 1 0.1 1 -1.6 1 1.9 1 -0.5 1 -0.6 1 -0.9 1 2 1 -1 1.1 -0.8 1 -0.6 1 1 1 -1.6 1 0.6 1 -0.4 1 -0.8 1 -0.1 1 -0.3 1 0.3 1 -0.7 1 -0.1 1 -1.6 1 0.5 1 -1.1 1 -0.2 1 -1.5 1 -0.4 1.1 -1.5 1 0.2 1 -1.3 1 -1.1 1 -0.6 1 -0.6 1 -1.7 1 0.2 1 -1.4 1 -0.4 1 -0.9 1 -0.2 1 -2.5 1 -2.7 1 -1.5 1 -3.8 1 -3.8 1 -4.6 1.1 -5 1 -6.7 1 -8.7 1 -9.8 1 -7.3 1 -5.2 1 -3 1 3.9 1 7.2 1 4.7 1 6.4 1 4.9 1 4.8 1 1.9 1 0.6 1 -0.4 1 -2.8 1 -3.8 1.1 -3.4 1 -7.2 1 -6.8 1 -10.2 1 -12.9 1 -15.3 1 -20 1 -24.3 1 -27 1 -28.6 1 -28.8 1 -20.8 1 -9.6 1 6.3 1 18.6 1 27.4 1 28.5 1 28.1 1.1 24.8 1 19.6 1 16.4 1 14.4 1 11 1 8 1 8.3 1 6.5 1 4.9 1 5 1 4.6 1 4.8 1 2.8 1 3.1 1 1.6 1 4.1 1 2.5 1 1 1 2.8 1.1 1.4 1 1.7 1 0.9 1 1.2 1 2.3 1 0.6 1 -0.5 1 0.4 1 1.8 1 0.6 1 0.5 1 0.4 1 1.3 1 -1.8 1 1.5 1 1.2 1 0.3 1 0.3 1.1 -0.3 1 1.5 1 -0.1 1 0.2 1 0 1 -0.7 1 0.7 1 -0.2 1 0.8 1 -0.6 1 0.9 1 -0.1 1 0.4 1 -0.9 1 0.6 1 0.8 1 0.4 1 -0.9 1.1 1.1 1 1 1 -1.2 1 -0.2 1 -0.5 1 0.2 1 0.6 1 0.2 1 0.5 1 0.7 1 -1.2 1 0.6 1 0.7 1 -0.4 1 -0.1 1 0 1 -0.7 1 0 1.1 1.2 1 0.3 1 -0.1 1 0.1 1 0.3 1 0 1 -0.9 1 0.3 1 -1.2 1 1.7 1 -0.4 1 0 1 0.5 1 -1.2 1 0.8 1 -0.5 1 1.3 1 -1.4 1.1 0.3 1 0.6 1 0.6 1 -0.8 1 -0.7 1 0.4 1 0.5 1 0.1 1 -0.9 1 1.3 1 -1 1 -0.1 1 0.4 1 -0.5 1 0 1 0.5 1 -1.1 1 1.1 1 -0.5 1.1 0.8 1 -0.6 1 0.9 1 -0.3 1 0.1 1 -0.1 1 -0.6 1 0.6 1 0.1 1 -0.2 1 0.1 1 0 1 -0.3 1 -0.2 1 0.3 1 0 1 0.2 1 0.3 1.1 -0.8 1 -0.1 1 1.2 1 -1 1 -0.1 1 -0.4 1 0.6 1 -1.3 1 0.6 1 0.2 1 -0.2 1 0.4 1 0.4 1 -0.5 1 -0.4 1 -1 1 0.7 1 1 1.1 0.1 1 -0.5 1 0.2 1 -0.1 1 -1.1 1 0.5 1 0 1 0.6 1 0.3 1 -0.5 1 0.9 1 -0.9 1 -0.2 1 0.1 1 -0.7 1 1.4 1 -0.5 1 0.6 1.1 0 1 0.1 1 -1.1 1 0.7 1 0.1 1 0.4 1 -0.6 1 0 1 1.1 1 -1.2 1 0.8 1 -0.6 1 1 1 -0.6 1 0.1 1 -0.3 1 -0.5 1 1.9 1.1 -0.9 1 0.8 1 -0.4 1 -0.7 1 0.2 1 0.6 1 -0.3 1 -0.3 1 0.5 1 0.3 1 0.2 1 0.2 1 -0.7 1 -0.2 1 0 1 -1.1 1 1.9 1 0.2 1.1 -2.7 1 2 1 -0.4 1 0.2 1 -0.8 1 0.9 1 -1 1 1.3 1 0.2 1 0.2 1 -1.5 1 0.3 1 0.3 1 1 1 -0.8 1 0.9 1 -0.7 1 0.2 1 -1 1.1 -0.1 1 0.4 1 -0.2 1 -0.1 1 1 1 0.5 1 -1.1 1 0.3 1 0.7 1 -0.6 1 0.4 1 -0.1 1 0.3 1 0 1 -0.4 1 -0.7 1 1.1 1 -1.1 1.1 0.6 1 0.2 1 1.2 1 -1.1 1 -0.1 1 -0.4 1 0.1 1 -0.7 1 -0.3 1 1 1 0.2 1 -0.3 1 0.1"/>
<path fill="none" stroke="#d42020" stroke-width="5.2" stroke-linejoin="round" d="M1141.7 1995.9l2 0 2 0 2 0 2 0 2.1 0 2 0 2 0 2 0 2 0 2 0 2 0 2 0 2 0 2.1 0 2 0 2 0 2 0 2 0 2 0 2 0 2 0 2 0 2.1 0 2 0 2 0 2 0 2 0 2 0 2 0 2 0 2 0 2.1 0 2 0 2 0 2 0 2 0 2 0 2 0 2 0 2 0 2.1 0 2 0 2 0 2 0 2 0 2 -0.1 2 0 2 0 2 0 2.1 0 2 0 2 0 2 0 2 0 2 0 2 0 2 0 2 0 2.1 0 2 0 2 0 2 0 2 0 2 0 2 0 2 0 2 0 2.1 0 2 0 2 0 2 0 2 0 2 0 2 0 2 -0.1 2 0 2.1 0 2 0 2 0 2 0 2 0 2 0 2 0 2 0 2 0 2.1 0 2 0 2 -0.1 2 0 2 0 2 0 2 0 2 0 2 0 2.1 -0.1 2 0 2 0 2 0 2 0 2 -0.1 2 0 2 0 2 0 2 -0.1 2.1 0 2 -0.1 2 0 2 -0.1 2 0 2 -0.1 2 -0.1 2 0 2 -0.1 2.1 -0.1 2 -0.2 2 -0.1 2 -0.1 2 -0.2 2 -0.2 2 -0.1 2 -0.2 2 -0.2 2.1 -0.2 2 -0.1 2 -0.1 2 -0.1 2 0 2 0.1 2 0.1 2 0.1 2 0.1 2.1 0.2 2 0.2 2 0.1 2 0.2 2 0.1 2 0.2 2 0.1 2 0.1 2 0.1 2.1 0.1 2 0 2 0.1 2 0 2 0.1 2 0 2 0 2 0.1 2 0 2.1 0 2 0 2 0 2 0 2 0 2 0.1 2 0 2 -0.1 2 0 2.1 0 2 0 2 0 2 0 2 0 2 0 2 0 2 -0.1 2 0 2.1 0 2 -0.1 2 0 2 0 2 -0.1 2 0 2 0 2 -0.1 2 0 2.1 -0.1 2 0 2 -0.1 2 -0.1 2 -0.1 2 0 2 -0.1 2 -0.1 2 -0.1 2.1 -0.1 2 -0.2 2 -0.1 2 -0.1 2 -0.2 2 -0.2 2 -0.1 2 -0.2 2 -0.3 2.1 -0.2 2 -0.2 2 -0.3 2 -0.2 2 -0.3 2 -0.2 2 -0.3 2 -0.2 2 -0.2 2 -0.1 2.1 -0.2 2 -0.1 2 -0.1 2 -0.1 2 -0.1 2 -0.1 2 -0.2 2 -0.2 2 -0.3 2.1 -0.3 2 -0.4 2 -0.5 2 -0.7 2 -0.8 2 -1 2 -1.1 2 -1.3 2 -1.5 2.1 -1.6 2 -1.6 2 -1.5 2 -1.5 2 -1.7 2 -2.3 2 -3.4 2 -5.4 2 -8.5 2.1 -13 2 -17 2 -13.5 2 1.4 2 12.4 2 11.2 2 5.6 2 0.1 2 -5.1 2.1 -10.6 2 -18.1 2 -28.7 2 -43 2 -56.5 2 -49.6 2 -3.2 2 46.3 2 56.8 2.1 44.4 2 30.1 2 20 2 14 2 10.4 2 8.4 2 6.7 2 5.4 2 4.3 2.1 3.4 2 2.8 2 2.2 2 1.9 2 1.5 2 1.2 2 1.1 2 0.8 2 0.8 2.1 0.7 2 0.5 2 0.5 2 0.5 2 0.4 2 0.3 2 0.3 2 0.3 2 0.2 2.1 0.2 2 0.2 2 0.2 2 0.2 2 0.1 2 0.2 2 0.1 2 0.1 2 0.1 2.1 0.1 2 0.1 2 0.1 2 0.1 2 0.1 2 0 2 0.1 2 0 2 0.1 2.1 0 2 0.1 2 0 2 0.1 2 0 2 0 2 0 2 0.1 2 0 2 0 2.1 0 2 0 2 0 2 0 2 0 2 -0.1 2 0 2 0 2 -0.1 2.1 0 2 -0.1 2 -0.1 2 0 2 -0.1 2 -0.1 2 -0.1 2 -0.1 2 -0.1 2.1 0 2 0 2 0 2 0 2 0.1 2 0.1 2 0.1 2 0.1 2 0.2 2.1 0.1 2 0.1 2 0.1 2 0.1 2 0.1 2 0 2 0.1 2 0.1 2 0 2.1 0.1 2 0 2 0.1 2 0 2 0 2 0.1 2 0 2 0 2 0 2.1 0.1 2 0 2 0 2 0 2 0 2 0 2 0.1 2 0 2 0 2.1 0 2 0 2 0 2 0 2 0 2 0 2 0.1 2 0 2 0 2.1 0 2 0 2 0 2 0 2 0 2 0 2 0"/>
<path fill="none" stroke="#2a0505" stroke-width="5.2" stroke-dasharray="3.5 3.5" d="M1141.7 1995.9l2 0 2 0 2 0 2 0 2.1 0 2 0 2 0 2 0 2 0 2 0 2 0 2 0 2 0 2.1 0 2 0 2 0 2 0 2 0 2 0 2 0 2 0 2 0 2.1 0 2 0 2 0 2 0 2 0 2 0 2 0 2 0 2 0 2.1 0 2 0 2 0 2 0 2 0 2 0 2 0 2 0 2 0 2.1 0 2 0 2 0 2 0 2 0 2 -0.1 2 0 2 0 2 0 2.1 0 2 0 2 0 2 0 2 0 2 0 2 0 2 0 2 0 2.1 0 2 0 2 0 2 0 2 0 2 0 2 0 2 0 2 0 2.1 0 2 0 2 0 2 0 2 0 2 0 2 0 2 -0.1 2 0 2.1 0 2 0 2 0 2 0 2 0 2 0 2 0 2 0 2 0 2.1 0 2 0 2 -0.1 2 0 2 0 2 0 2 0 2 0 2 0 2.1 -0.1 2 0 2 0 2 0 2 0 2 -0.1 2 0 2 0 2 0 2 -0.1 2.1 0 2 -0.1 2 0 2 -0.1 2 0 2 -0.1 2 -0.1 2 0 2 -0.1 2.1 -0.1 2 -0.2 2 -0.1 2 -0.1 2 -0.2 2 -0.2 2 -0.1 2 -0.2 2 -0.2 2.1 -0.2 2 -0.1 2 -0.1 2 -0.1 2 0 2 0.1 2 0.1 2 0.1 2 0.1 2.1 0.2 2 0.2 2 0.1 2 0.2 2 0.1 2 0.2 2 0.1 2 0.1 2 0.1 2.1 0.1 2 0 2 0.1 2 0 2 0.1 2 0 2 0 2 0.1 2 0 2.1 0 2 0 2 0 2 0 2 0 2 0.1 2 0 2 -0.1 2 0 2.1 0 2 0 2 0 2 0 2 0 2 0 2 0 2 -0.1 2 0 2.1 0 2 -0.1 2 0 2 0 2 -0.1 2 0 2 0 2 -0.1 2 0 2.1 -0.1 2 0 2 -0.1 2 -0.1 2 -0.1 2 0 2 -0.1 2 -0.1 2 -0.1 2.1 -0.1 2 -0.2 2 -0.1 2 -0.1 2 -0.2 2 -0.2 2 -0.1 2 -0.2 2 -0.3 2.1 -0.2 2 -0.2 2 -0.3 2 -0.2 2 -0.3 2 -0.2 2 -0.3 2 -0.2 2 -0.2 2 -0.1 2.1 -0.2 2 -0.1 2 -0.1 2 -0.1 2 -0.1 2 -0.1 2 -0.2 2 -0.2 2 -0.3 2.1 -0.3 2 -0.4 2 -0.5 2 -0.7 2 -0.8 2 -1 2 -1.1 2 -1.3 2 -1.5 2.1 -1.6 2 -1.6 2 -1.5 2 -1.5 2 -1.7 2 -2.3 2 -3.4 2 -5.4 2 -8.5 2.1 -13 2 -17 2 -13.5 2 1.4 2 12.4 2 11.2 2 5.6 2 0.1 2 -5.1 2.1 -10.6 2 -18.1 2 -28.7 2 -43 2 -56.5 2 -49.6 2 -3.2 2 46.3 2 56.8 2.1 44.4 2 30.1 2 20 2 14 2 10.4 2 8.4 2 6.7 2 5.4 2 4.3 2.1 3.4 2 2.8 2 2.2 2 1.9 2 1.5 2 1.2 2 1.1 2 0.8 2 0.8 2.1 0.7 2 0.5 2 0.5 2 0.5 2 0.4 2 0.3 2 0.3 2 0.3 2 0.2 2.1 0.2 2 0.2 2 0.2 2 0.2 2 0.1 2 0.2 2 0.1 2 0.1 2 0.1 2.1 0.1 2 0.1 2 0.1 2 0.1 2 0.1 2 0 2 0.1 2 0 2 0.1 2.1 0 2 0.1 2 0 2 0.1 2 0 2 0 2 0 2 0.1 2 0 2 0 2.1 0 2 0 2 0 2 0 2 0 2 -0.1 2 0 2 0 2 -0.1 2.1 0 2 -0.1 2 -0.1 2 0 2 -0.1 2 -0.1 2 -0.1 2 -0.1 2 -0.1 2.1 0 2 0 2 0 2 0 2 0.1 2 0.1 2 0.1 2 0.1 2 0.2 2.1 0.1 2 0.1 2 0.1 2 0.1 2 0.1 2 0 2 0.1 2 0.1 2 0 2.1 0.1 2 0 2 0.1 2 0 2 0 2 0.1 2 0 2 0 2 0 2.1 0.1 2 0 2 0 2 0 2 0 2 0 2 0.1 2 0 2 0 2.1 0 2 0 2 0 2 0 2 0 2 0 2 0.1 2 0 2 0 2.1 0 2 0 2 0 2 0 2 0 2 0 2 0"/>
<g fill="none" stroke="#000" stroke-width="5.0">
<rect x="165.5" y="138.1" width="753.0" height="1904.4"/>
<rect x="1142.5" y="138.1" width="753.0" height="1904.4"/>
</g>
<path fill="none" stroke="#000" stroke-width="4.2" d="M205.2 2042.5 v-8.0 M244.9 2042.5 v-8.0 M284.6 2042.5 v-8.0 M324.3 2042.5 v-8.0 M364.0 2042.5 v-8.0 M403.7 2042.5 v-8.0 M443.3 2042.5 v-8.0 M483.0 2042.5 v-8.0 M522.7 2042.5 v-13.5 M562.4 2042.5 v-8.0 M602.1 2042.5 v-8.0 M641.8 2042.5 v-8.0 M681.4 2042.5 v-8.0 M721.1 2042.5 v-8.0 M760.8 2042.5 v-8.0 M800.5 2042.5 v-8.0 M840.2 2042.5 v-8.0 M879.9 2042.5 v-8.0 M1241.3 2042.5 v-13.5 M1341.8 2042.5 v-13.5 M1442.4 2042.5 v-13.5 M1542.9 2042.5 v-13.5 M1643.5 2042.5 v-13.5 M1744.0 2042.5 v-13.5 M1844.6 2042.5 v-13.5"/>
<rect x="1880" y="192.6" width="30" height="68.9" fill="#fff"/>
<rect x="1880" y="592.3" width="30" height="67.0" fill="#fff"/>
<rect x="1880" y="972.3" width="30" height="69.0" fill="#fff"/>
<rect x="1880" y="1348.4" width="30" height="66.9" fill="#fff"/>
<rect x="1880" y="1714.3" width="30" height="67.0" fill="#fff"/>
<g font-family='"Liberation Sans", Arial, sans-serif' fill="#000">
<text x="70.7" y="120.5" font-size="118.90">a</text>
<text x="1039.2" y="120.5" font-size="119.32">b</text>
<text x="182.4" y="245.2" font-size="53.47" letter-spacing="2.99">deF-RT-4h</text>
<text x="1169.4" y="245.2" font-size="53.47" letter-spacing="2.99">deF-RT-4h</text>
<text x="182.4" y="647.8" font-size="52.24" letter-spacing="3.75">deF-RT-3m</text>
<text x="1169.4" y="647.8" font-size="52.24" letter-spacing="3.75">deF-RT-3m</text>
<text x="181.2" y="1025.1" font-size="52.97" letter-spacing="3.55">F-RT-4h</text>
<text x="1168.2" y="1025.1" font-size="52.97" letter-spacing="3.55">F-RT-4h</text>
<text x="181.0" y="1383.4" font-size="55.69" letter-spacing="1.96">F-RT-3m</text>
<text x="1168.0" y="1383.4" font-size="55.69" letter-spacing="1.96">F-RT-3m</text>
<text x="181.3" y="1761.4" font-size="57.39" letter-spacing="0.29">P-SWCNTs</text>
<text x="1168.3" y="1761.4" font-size="57.39" letter-spacing="0.29">P-SWCNTs</text>
<text x="693.5" y="233.1" font-size="53.99" letter-spacing="2.32">1592</text>
<text x="169.8" y="483.5" font-size="54.28" letter-spacing="1.05">180</text>
<text x="603.7" y="475.5" font-size="52.72" letter-spacing="2.41">1354</text>
<text x="693.7" y="620.6" font-size="52.86" letter-spacing="2.64">1594</text>
<text x="169.9" y="865.7" font-size="52.86" letter-spacing="2.15">180</text>
<text x="603.7" y="882.3" font-size="52.86" letter-spacing="1.88">1354</text>
<text x="694.2" y="1001.0" font-size="54.42" letter-spacing="1.68">1593</text>
<text x="169.7" y="1230.6" font-size="55.83" letter-spacing="-0.16">180</text>
<text x="603.4" y="1204.5" font-size="53.00" letter-spacing="1.92">1350</text>
<text x="694.2" y="1364.4" font-size="55.27" letter-spacing="1.23">1592</text>
<text x="169.8" y="1605.7" font-size="54.42" letter-spacing="0.94">180</text>
<text x="603.3" y="1609.9" font-size="54.28" letter-spacing="1.45">1353</text>
<text x="695.2" y="1733.1" font-size="54.13" letter-spacing="1.85">1593</text>
<text x="169.9" y="1981.5" font-size="53.00" letter-spacing="2.04">180</text>
<text x="603.4" y="1992.9" font-size="53.00" letter-spacing="1.74">1354</text>
<text x="272.9" y="2104.0" font-size="60.78" letter-spacing="2.93">500</text>
<text x="453.0" y="2104.0" font-size="61.06" letter-spacing="1.55">1000</text>
<text x="652.2" y="2104.2" font-size="61.20" letter-spacing="2.19">1500</text>
<text x="850.1" y="2104.0" font-size="60.35" letter-spacing="3.32">2000</text>
<text x="1170.2" y="2104.4" font-size="61.91" letter-spacing="1.32">1200</text>
<text x="1372.2" y="2104.4" font-size="61.91" letter-spacing="1.32">1400</text>
<text x="1572.0" y="2104.4" font-size="61.91" letter-spacing="1.52">1600</text>
<text x="1772.0" y="2104.4" font-size="61.91" letter-spacing="1.52">1800</text>
<text x="249.0" y="2184.5" font-size="69.82" letter-spacing="1.21">Raman shift (cm</text>
<text x="775.3" y="2150.1" font-size="34.00">-</text>
<text x="790.4" y="2150.9" font-size="34.18">1</text>
<text x="818.0" y="2184.5" font-size="67.72">)</text>
<text x="1224.1" y="2184.5" font-size="69.82" letter-spacing="1.21">Raman shift (cm</text>
<text x="1750.4" y="2150.1" font-size="34.00">-</text>
<text x="1765.5" y="2150.9" font-size="34.18">1</text>
<text x="1793.1" y="2184.5" font-size="67.72">)</text>
<text transform="translate(105.6 1518.6) rotate(-90)" x="0" y="0" font-size="72.00" letter-spacing="0.83">Normalized intensity (a.u.)</text>
<text transform="translate(1074.0 1518.6) rotate(-90)" x="0" y="0" font-size="71.13" letter-spacing="1.22">Normalized intensity (a.u.)</text>
<text x="1729.9" y="246.8" font-size="54.55" style="font-style:italic;">A</text>
<text x="1765.7" y="257.0" font-size="25.16">D</text>
<text x="1789.0" y="246.3" font-size="51.02">/</text>
<text x="1808.0" y="246.8" font-size="54.55" style="font-style:italic;">A</text>
<text x="1845.7" y="257.1" font-size="25.02">G</text>
<text x="1879.9" y="246.1" font-size="52.00">=</text>
<text x="1925.9" y="246.7" font-size="53.57" letter-spacing="3.19">0.177</text>
<text x="1729.9" y="642.4" font-size="53.67" style="font-style:italic;">A</text>
<text x="1765.7" y="653.2" font-size="25.16">D</text>
<text x="1789.0" y="641.9" font-size="50.20">/</text>
<text x="1808.0" y="642.4" font-size="53.67" style="font-style:italic;">A</text>
<text x="1845.7" y="653.3" font-size="25.02">G</text>
<text x="1879.9" y="642.3" font-size="52.00">=</text>
<text x="1925.9" y="642.3" font-size="52.72" letter-spacing="3.64">0.079</text>
<text x="1729.9" y="1027.1" font-size="54.55" style="font-style:italic;">A</text>
<text x="1765.7" y="1037.3" font-size="25.16">D</text>
<text x="1789.0" y="1026.6" font-size="51.02">/</text>
<text x="1808.0" y="1027.1" font-size="54.55" style="font-style:italic;">A</text>
<text x="1845.7" y="1037.4" font-size="25.02">G</text>
<text x="1879.9" y="1026.4" font-size="52.00">=</text>
<text x="1925.9" y="1027.0" font-size="53.57" letter-spacing="3.12">0.469</text>
<text x="1729.9" y="1399.1" font-size="54.55" style="font-style:italic;">A</text>
<text x="1765.7" y="1409.3" font-size="25.16">D</text>
<text x="1789.0" y="1398.6" font-size="51.02">/</text>
<text x="1808.0" y="1399.1" font-size="54.55" style="font-style:italic;">A</text>
<text x="1845.7" y="1409.4" font-size="25.02">G</text>
<text x="1879.9" y="1398.4" font-size="52.00">=</text>
<text x="1925.9" y="1399.0" font-size="53.57" letter-spacing="3.09">0.106</text>
<text x="1729.9" y="1764.0" font-size="54.55" style="font-style:italic;">A</text>
<text x="1765.7" y="1774.2" font-size="25.16">D</text>
<text x="1789.0" y="1763.5" font-size="51.02">/</text>
<text x="1808.0" y="1764.0" font-size="54.55" style="font-style:italic;">A</text>
<text x="1845.7" y="1774.3" font-size="25.02">G</text>
<text x="1879.9" y="1763.3" font-size="52.00">=</text>
<text x="1925.9" y="1763.9" font-size="53.57" letter-spacing="3.09">0.043</text>
<text x="1440.9" y="1859.7" font-size="53.62" letter-spacing="0.90">1551</text>
<text x="1416.0" y="1931.7" font-size="53.57" letter-spacing="1.89">1509</text>
<text x="1681.1" y="1863.7" font-size="52.86" letter-spacing="3.11">1607</text>
<text x="1380.9" y="1976.3" font-size="54.25">D</text>
<text x="1762.6" y="1980.3" font-size="54.25">M</text>
<text x="1575.5" y="1904.9" font-size="56.54">G</text>
<text x="1619.9" y="1708.8" font-size="53.85">G</text>
<text x="1618.3" y="1880.7" font-size="32.60">-</text>
<text x="1665.1" y="1682.1" font-size="25.92">+</text>
</g>
<line x1="1522.8" y1="1941.6" x2="1543.9" y2="1970.3" stroke="#000" stroke-width="3.2"/>
<polygon points="1552.2,1981.6 1538.3,1972.0 1547.2,1965.5" fill="#000"/>
<line x1="1550.9" y1="1868.2" x2="1584.2" y2="1947.4" stroke="#000" stroke-width="3.2"/>
<polygon points="1589.6,1960.3 1578.3,1947.7 1588.5,1943.4" fill="#000"/>
<line x1="1697.7" y1="1876.2" x2="1667.4" y2="1943.5" stroke="#000" stroke-width="3.2"/>
<polygon points="1661.7,1956.3 1663.2,1939.5 1673.3,1944.0" fill="#000"/>
<path fill="#fff" d="M696.01 227.67H706.83V234.50H696.01zM712.10 227.67H722.49V234.50H712.10zM172.33 478.04H183.20V484.90H172.33zM188.50 478.04H198.94V484.90H188.50zM606.12 470.16H616.71V476.90H606.12zM621.87 470.16H632.05V476.90H621.87zM696.13 615.25H706.74V622.00H696.13zM711.91 615.25H722.12V622.00H711.91zM172.33 860.35H182.94V867.10H172.33zM188.11 860.35H198.32V867.10H188.11zM606.13 876.95H616.74V883.70H606.13zM621.91 876.95H632.12V883.70H621.91zM696.75 995.53H707.63V1002.40H696.75zM712.94 995.53H723.41V1002.40H712.94zM172.35 1225.03H183.49V1232.00H172.35zM188.92 1225.03H199.62V1232.00H188.92zM605.84 1199.14H616.48V1205.90H605.84zM621.66 1199.14H631.89V1205.90H621.66zM696.81 1358.87H707.85V1365.80H696.81zM713.23 1358.87H723.84V1365.80H713.23zM172.35 1600.23H183.23V1607.10H172.35zM188.54 1600.23H199.01V1607.10H188.54zM605.83 1604.44H616.70V1611.30H605.83zM622.00 1604.44H632.44V1611.30H622.00zM697.72 1727.66H708.56V1734.50H697.72zM713.85 1727.66H724.26V1734.50H713.85zM172.34 1976.14H182.98V1982.90H172.34zM188.16 1976.14H198.39V1982.90H188.16zM605.84 1987.54H616.48V1994.30H605.84zM621.66 1987.54H631.89V1994.30H621.66zM456.05 2098.04H468.10V2105.40H456.05zM474.00 2098.04H485.58V2105.40H474.00zM655.26 2098.23H667.34V2105.60H655.26zM673.25 2098.23H684.85V2105.60H673.25zM1173.32 2098.37H1185.52V2105.80H1173.32zM1191.49 2098.37H1203.21V2105.80H1191.49zM1375.32 2098.37H1387.52V2105.80H1375.32zM1393.49 2098.37H1405.21V2105.80H1393.49zM1575.12 2098.37H1587.32V2105.80H1575.12zM1593.29 2098.37H1605.01V2105.80H1593.29zM1775.12 2098.37H1787.32V2105.80H1775.12zM1793.29 2098.37H1805.01V2105.80H1793.29zM791.40 2146.95H798.75V2152.30H791.40zM802.27 2146.95H809.34V2152.30H802.27zM1766.50 2146.95H1773.85V2152.30H1766.50zM1777.37 2146.95H1784.44V2152.30H1777.37zM1979.43 241.30H1990.17V248.10H1979.43zM1995.40 241.30H2005.72V248.10H1995.40zM1979.22 1393.60H1989.96V1400.40H1979.22zM1995.20 1393.60H2005.52V1400.40H1995.20zM1443.38 1854.29H1454.13V1861.10H1443.38zM1459.37 1854.29H1469.70V1861.10H1459.37zM1535.52 1854.29H1546.27V1861.10H1535.52zM1551.51 1854.29H1561.84V1861.10H1551.51zM1418.48 1926.30H1429.22V1933.10H1418.48zM1434.46 1926.30H1444.78V1933.10H1434.46zM1683.53 1858.35H1694.14V1865.10H1683.53zM1699.31 1858.35H1709.52V1865.10H1699.31z"/>
</svg>
</body></html>
